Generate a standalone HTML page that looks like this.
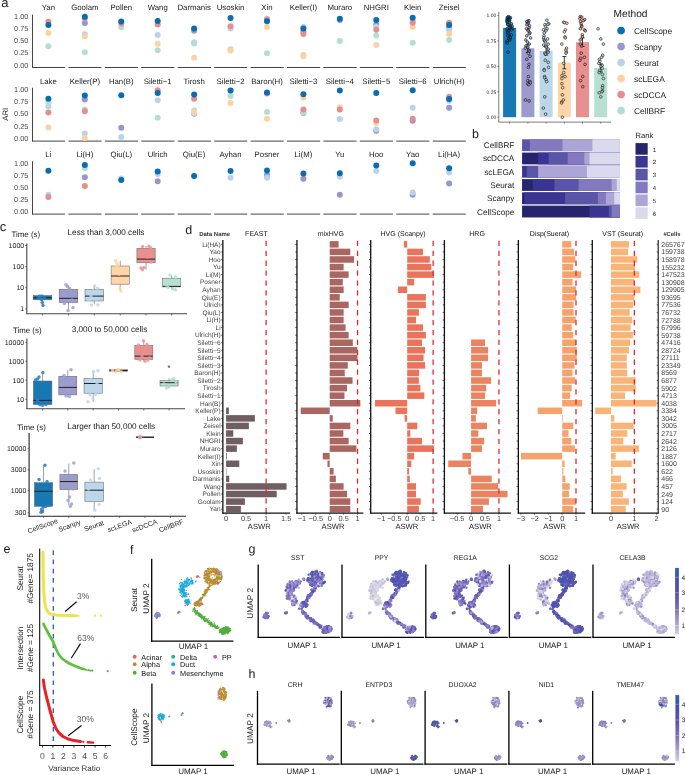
<!DOCTYPE html>
<html><head><meta charset="utf-8"><title>figure</title>
<style>html,body{margin:0;padding:0;background:#fff}svg{display:block;will-change:transform}text{font-family:"Liberation Sans",sans-serif;text-rendering:geometricPrecision}</style>
</head><body>
<svg width="685" height="775" viewBox="0 0 685 775" font-family="Liberation Sans, sans-serif">
<rect width="685" height="775" fill="#fff"/>
<defs><linearGradient id="cb" x1="0" y1="1" x2="0" y2="0"><stop offset="0" stop-color="#d2d1dc"/><stop offset="0.14" stop-color="#b3aad0"/><stop offset="0.37" stop-color="#8070ba"/><stop offset="0.63" stop-color="#5951a8"/><stop offset="0.86" stop-color="#4353ab"/><stop offset="1" stop-color="#2a65b9"/></linearGradient></defs>
<text x="1.20" y="7.00" font-size="13" text-anchor="start" fill="#1a1a1a">a</text>
<text x="8.00" y="114.30" font-size="7.8" text-anchor="middle" fill="#1a1a1a" transform="rotate(-90 8.00 114.30)">ARI</text>
<line x1="32.50" y1="14.60" x2="32.50" y2="67.90" stroke="#444" stroke-width="1.0"/>
<text x="28.30" y="67.60" font-size="7.3" text-anchor="end" fill="#4d4d4d">0.00</text>
<text x="28.30" y="55.45" font-size="7.3" text-anchor="end" fill="#4d4d4d">0.25</text>
<text x="28.30" y="43.30" font-size="7.3" text-anchor="end" fill="#4d4d4d">0.50</text>
<text x="28.30" y="31.15" font-size="7.3" text-anchor="end" fill="#4d4d4d">0.75</text>
<text x="28.30" y="19.00" font-size="7.3" text-anchor="end" fill="#4d4d4d">1.00</text>
<line x1="32.00" y1="67.50" x2="65.10" y2="67.50" stroke="#444" stroke-width="1.0"/>
<text x="48.40" y="9.90" font-size="7.8" text-anchor="middle" fill="#1a1a1a">Yan</text>
<circle cx="48.40" cy="46.30" r="3.0" fill="#b3dfd0"/>
<circle cx="48.40" cy="33.00" r="3.0" fill="#fdd2a2"/>
<circle cx="48.40" cy="21.70" r="3.0" fill="#e78d8c"/>
<circle cx="48.40" cy="24.90" r="3.0" fill="#0a6cb2"/>
<line x1="68.43" y1="67.50" x2="101.53" y2="67.50" stroke="#444" stroke-width="1.0"/>
<text x="84.83" y="9.90" font-size="7.8" text-anchor="middle" fill="#1a1a1a">Goolam</text>
<circle cx="84.83" cy="22.90" r="3.0" fill="#9897cb"/>
<circle cx="84.83" cy="34.30" r="3.0" fill="#b9d4ea"/>
<circle cx="84.83" cy="52.30" r="3.0" fill="#b3dfd0"/>
<circle cx="84.83" cy="36.20" r="3.0" fill="#fdd2a2"/>
<circle cx="84.83" cy="18.60" r="3.0" fill="#e78d8c"/>
<circle cx="84.83" cy="16.80" r="3.0" fill="#0a6cb2"/>
<line x1="104.86" y1="67.50" x2="137.96" y2="67.50" stroke="#444" stroke-width="1.0"/>
<text x="121.26" y="9.90" font-size="7.8" text-anchor="middle" fill="#1a1a1a">Pollen</text>
<circle cx="121.26" cy="27.30" r="3.0" fill="#b3dfd0"/>
<circle cx="121.26" cy="23.40" r="3.0" fill="#e78d8c"/>
<circle cx="121.26" cy="21.50" r="3.0" fill="#0a6cb2"/>
<line x1="141.29" y1="67.50" x2="174.39" y2="67.50" stroke="#444" stroke-width="1.0"/>
<text x="157.69" y="9.90" font-size="7.8" text-anchor="middle" fill="#1a1a1a">Wang</text>
<circle cx="157.69" cy="35.00" r="3.0" fill="#b9d4ea"/>
<circle cx="157.69" cy="50.20" r="3.0" fill="#b3dfd0"/>
<circle cx="157.69" cy="43.70" r="3.0" fill="#fdd2a2"/>
<circle cx="157.69" cy="24.50" r="3.0" fill="#e78d8c"/>
<circle cx="157.69" cy="21.00" r="3.0" fill="#0a6cb2"/>
<line x1="177.72" y1="67.50" x2="210.82" y2="67.50" stroke="#444" stroke-width="1.0"/>
<text x="194.12" y="9.90" font-size="7.8" text-anchor="middle" fill="#1a1a1a">Darmanis</text>
<circle cx="194.12" cy="30.80" r="3.0" fill="#9897cb"/>
<circle cx="194.12" cy="42.20" r="3.0" fill="#b9d4ea"/>
<circle cx="194.12" cy="43.40" r="3.0" fill="#b3dfd0"/>
<circle cx="194.12" cy="57.70" r="3.0" fill="#fdd2a2"/>
<circle cx="194.12" cy="28.50" r="3.0" fill="#0a6cb2"/>
<line x1="214.15" y1="67.50" x2="247.25" y2="67.50" stroke="#444" stroke-width="1.0"/>
<text x="230.55" y="9.90" font-size="7.8" text-anchor="middle" fill="#1a1a1a">Usoskin</text>
<circle cx="230.55" cy="28.50" r="3.0" fill="#b9d4ea"/>
<circle cx="230.55" cy="49.30" r="3.0" fill="#b3dfd0"/>
<circle cx="230.55" cy="50.40" r="3.0" fill="#fdd2a2"/>
<circle cx="230.55" cy="26.20" r="3.0" fill="#e78d8c"/>
<circle cx="230.55" cy="18.00" r="3.0" fill="#0a6cb2"/>
<line x1="250.58" y1="67.50" x2="283.68" y2="67.50" stroke="#444" stroke-width="1.0"/>
<text x="266.98" y="9.90" font-size="7.8" text-anchor="middle" fill="#1a1a1a">Xin</text>
<circle cx="266.98" cy="18.70" r="3.0" fill="#b9d4ea"/>
<circle cx="266.98" cy="53.30" r="3.0" fill="#b3dfd0"/>
<circle cx="266.98" cy="26.90" r="3.0" fill="#fdd2a2"/>
<circle cx="266.98" cy="19.60" r="3.0" fill="#e78d8c"/>
<circle cx="266.98" cy="21.30" r="3.0" fill="#0a6cb2"/>
<line x1="287.01" y1="67.50" x2="320.11" y2="67.50" stroke="#444" stroke-width="1.0"/>
<text x="303.41" y="9.90" font-size="7.8" text-anchor="middle" fill="#1a1a1a">Keller(I)</text>
<circle cx="303.41" cy="31.50" r="3.0" fill="#9897cb"/>
<circle cx="303.41" cy="26.90" r="3.0" fill="#b9d4ea"/>
<circle cx="303.41" cy="55.00" r="3.0" fill="#b3dfd0"/>
<circle cx="303.41" cy="56.30" r="3.0" fill="#fdd2a2"/>
<circle cx="303.41" cy="34.10" r="3.0" fill="#e78d8c"/>
<circle cx="303.41" cy="28.50" r="3.0" fill="#0a6cb2"/>
<line x1="323.44" y1="67.50" x2="356.54" y2="67.50" stroke="#444" stroke-width="1.0"/>
<text x="339.84" y="9.90" font-size="7.8" text-anchor="middle" fill="#1a1a1a">Muraro</text>
<circle cx="339.84" cy="20.00" r="3.0" fill="#9897cb"/>
<circle cx="339.84" cy="41.10" r="3.0" fill="#b3dfd0"/>
<circle cx="339.84" cy="18.70" r="3.0" fill="#0a6cb2"/>
<line x1="359.87" y1="67.50" x2="392.97" y2="67.50" stroke="#444" stroke-width="1.0"/>
<text x="376.27" y="9.90" font-size="7.8" text-anchor="middle" fill="#1a1a1a">NHGRI</text>
<circle cx="376.27" cy="24.50" r="3.0" fill="#9897cb"/>
<circle cx="376.27" cy="26.90" r="3.0" fill="#b9d4ea"/>
<circle cx="376.27" cy="35.50" r="3.0" fill="#b3dfd0"/>
<circle cx="376.27" cy="45.10" r="3.0" fill="#fdd2a2"/>
<circle cx="376.27" cy="29.70" r="3.0" fill="#e78d8c"/>
<circle cx="376.27" cy="19.90" r="3.0" fill="#0a6cb2"/>
<line x1="396.30" y1="67.50" x2="429.40" y2="67.50" stroke="#444" stroke-width="1.0"/>
<text x="412.70" y="9.90" font-size="7.8" text-anchor="middle" fill="#1a1a1a">Klein</text>
<circle cx="412.70" cy="21.00" r="3.0" fill="#b9d4ea"/>
<circle cx="412.70" cy="42.80" r="3.0" fill="#b3dfd0"/>
<circle cx="412.70" cy="26.90" r="3.0" fill="#fdd2a2"/>
<circle cx="412.70" cy="22.70" r="3.0" fill="#e78d8c"/>
<circle cx="412.70" cy="17.80" r="3.0" fill="#0a6cb2"/>
<line x1="432.73" y1="67.50" x2="465.83" y2="67.50" stroke="#444" stroke-width="1.0"/>
<text x="449.13" y="9.90" font-size="7.8" text-anchor="middle" fill="#1a1a1a">Zeisel</text>
<circle cx="449.13" cy="28.00" r="3.0" fill="#9897cb"/>
<circle cx="449.13" cy="30.00" r="3.0" fill="#b9d4ea"/>
<circle cx="449.13" cy="40.00" r="3.0" fill="#b3dfd0"/>
<circle cx="449.13" cy="33.90" r="3.0" fill="#fdd2a2"/>
<circle cx="449.13" cy="22.70" r="3.0" fill="#e78d8c"/>
<circle cx="449.13" cy="25.00" r="3.0" fill="#0a6cb2"/>
<line x1="32.50" y1="87.70" x2="32.50" y2="141.50" stroke="#444" stroke-width="1.0"/>
<text x="28.30" y="140.70" font-size="7.3" text-anchor="end" fill="#4d4d4d">0.00</text>
<text x="28.30" y="128.55" font-size="7.3" text-anchor="end" fill="#4d4d4d">0.25</text>
<text x="28.30" y="116.40" font-size="7.3" text-anchor="end" fill="#4d4d4d">0.50</text>
<text x="28.30" y="104.25" font-size="7.3" text-anchor="end" fill="#4d4d4d">0.75</text>
<text x="28.30" y="92.10" font-size="7.3" text-anchor="end" fill="#4d4d4d">1.00</text>
<line x1="32.00" y1="141.10" x2="65.10" y2="141.10" stroke="#444" stroke-width="1.0"/>
<text x="48.40" y="84.20" font-size="7.8" text-anchor="middle" fill="#1a1a1a">Lake</text>
<circle cx="48.40" cy="106.50" r="3.0" fill="#b9d4ea"/>
<circle cx="48.40" cy="102.60" r="3.0" fill="#b3dfd0"/>
<circle cx="48.40" cy="127.60" r="3.0" fill="#fdd2a2"/>
<circle cx="48.40" cy="112.40" r="3.0" fill="#e78d8c"/>
<circle cx="48.40" cy="98.80" r="3.0" fill="#0a6cb2"/>
<line x1="68.43" y1="141.10" x2="101.53" y2="141.10" stroke="#444" stroke-width="1.0"/>
<text x="84.83" y="84.20" font-size="7.8" text-anchor="middle" fill="#1a1a1a">Keller(P)</text>
<circle cx="84.83" cy="99.50" r="3.0" fill="#9897cb"/>
<circle cx="84.83" cy="133.40" r="3.0" fill="#b9d4ea"/>
<circle cx="84.83" cy="109.60" r="3.0" fill="#b3dfd0"/>
<circle cx="84.83" cy="138.10" r="3.0" fill="#fdd2a2"/>
<circle cx="84.83" cy="111.20" r="3.0" fill="#e78d8c"/>
<circle cx="84.83" cy="95.60" r="3.0" fill="#0a6cb2"/>
<line x1="104.86" y1="141.10" x2="137.96" y2="141.10" stroke="#444" stroke-width="1.0"/>
<text x="121.26" y="84.20" font-size="7.8" text-anchor="middle" fill="#1a1a1a">Han(B)</text>
<circle cx="121.26" cy="127.80" r="3.0" fill="#9897cb"/>
<circle cx="121.26" cy="137.10" r="3.0" fill="#b9d4ea"/>
<circle cx="121.26" cy="95.30" r="3.0" fill="#0a6cb2"/>
<line x1="141.29" y1="141.10" x2="174.39" y2="141.10" stroke="#444" stroke-width="1.0"/>
<text x="157.69" y="84.20" font-size="7.8" text-anchor="middle" fill="#1a1a1a">Siletti−1</text>
<circle cx="157.69" cy="100.20" r="3.0" fill="#b9d4ea"/>
<circle cx="157.69" cy="117.80" r="3.0" fill="#b3dfd0"/>
<circle cx="157.69" cy="90.20" r="3.0" fill="#e78d8c"/>
<circle cx="157.69" cy="93.00" r="3.0" fill="#0a6cb2"/>
<line x1="177.72" y1="141.10" x2="210.82" y2="141.10" stroke="#444" stroke-width="1.0"/>
<text x="194.12" y="84.20" font-size="7.8" text-anchor="middle" fill="#1a1a1a">Tirosh</text>
<circle cx="194.12" cy="113.80" r="3.0" fill="#9897cb"/>
<circle cx="194.12" cy="113.20" r="3.0" fill="#b9d4ea"/>
<circle cx="194.12" cy="110.50" r="3.0" fill="#b3dfd0"/>
<circle cx="194.12" cy="111.90" r="3.0" fill="#fdd2a2"/>
<circle cx="194.12" cy="98.80" r="3.0" fill="#e78d8c"/>
<circle cx="194.12" cy="94.40" r="3.0" fill="#0a6cb2"/>
<line x1="214.15" y1="141.10" x2="247.25" y2="141.10" stroke="#444" stroke-width="1.0"/>
<text x="230.55" y="84.20" font-size="7.8" text-anchor="middle" fill="#1a1a1a">Siletti−2</text>
<circle cx="230.55" cy="96.00" r="3.0" fill="#b3dfd0"/>
<circle cx="230.55" cy="103.00" r="3.0" fill="#fdd2a2"/>
<circle cx="230.55" cy="90.40" r="3.0" fill="#0a6cb2"/>
<line x1="250.58" y1="141.10" x2="283.68" y2="141.10" stroke="#444" stroke-width="1.0"/>
<text x="266.98" y="84.20" font-size="7.8" text-anchor="middle" fill="#1a1a1a">Baron(H)</text>
<circle cx="266.98" cy="111.90" r="3.0" fill="#b3dfd0"/>
<circle cx="266.98" cy="118.70" r="3.0" fill="#fdd2a2"/>
<circle cx="266.98" cy="93.50" r="3.0" fill="#e78d8c"/>
<circle cx="266.98" cy="92.50" r="3.0" fill="#0a6cb2"/>
<line x1="287.01" y1="141.10" x2="320.11" y2="141.10" stroke="#444" stroke-width="1.0"/>
<text x="303.41" y="84.20" font-size="7.8" text-anchor="middle" fill="#1a1a1a">Siletti−3</text>
<circle cx="303.41" cy="113.10" r="3.0" fill="#9897cb"/>
<circle cx="303.41" cy="112.50" r="3.0" fill="#b9d4ea"/>
<circle cx="303.41" cy="111.70" r="3.0" fill="#b3dfd0"/>
<circle cx="303.41" cy="97.70" r="3.0" fill="#fdd2a2"/>
<circle cx="303.41" cy="109.60" r="3.0" fill="#e78d8c"/>
<circle cx="303.41" cy="94.20" r="3.0" fill="#0a6cb2"/>
<line x1="323.44" y1="141.10" x2="356.54" y2="141.10" stroke="#444" stroke-width="1.0"/>
<text x="339.84" y="84.20" font-size="7.8" text-anchor="middle" fill="#1a1a1a">Siletti−4</text>
<circle cx="339.84" cy="118.90" r="3.0" fill="#b9d4ea"/>
<circle cx="339.84" cy="107.20" r="3.0" fill="#fdd2a2"/>
<circle cx="339.84" cy="109.60" r="3.0" fill="#e78d8c"/>
<circle cx="339.84" cy="90.40" r="3.0" fill="#0a6cb2"/>
<line x1="359.87" y1="141.10" x2="392.97" y2="141.10" stroke="#444" stroke-width="1.0"/>
<text x="376.27" y="84.20" font-size="7.8" text-anchor="middle" fill="#1a1a1a">Siletti−5</text>
<circle cx="376.27" cy="130.80" r="3.0" fill="#9897cb"/>
<circle cx="376.27" cy="129.20" r="3.0" fill="#b9d4ea"/>
<circle cx="376.27" cy="122.90" r="3.0" fill="#fdd2a2"/>
<circle cx="376.27" cy="120.60" r="3.0" fill="#e78d8c"/>
<circle cx="376.27" cy="93.00" r="3.0" fill="#0a6cb2"/>
<line x1="396.30" y1="141.10" x2="429.40" y2="141.10" stroke="#444" stroke-width="1.0"/>
<text x="412.70" y="84.20" font-size="7.8" text-anchor="middle" fill="#1a1a1a">Siletti−6</text>
<circle cx="412.70" cy="120.80" r="3.0" fill="#9897cb"/>
<circle cx="412.70" cy="107.70" r="3.0" fill="#b9d4ea"/>
<circle cx="412.70" cy="118.70" r="3.0" fill="#e78d8c"/>
<circle cx="412.70" cy="90.20" r="3.0" fill="#0a6cb2"/>
<line x1="432.73" y1="141.10" x2="465.83" y2="141.10" stroke="#444" stroke-width="1.0"/>
<text x="449.13" y="84.20" font-size="7.8" text-anchor="middle" fill="#1a1a1a">Ulrich(H)</text>
<circle cx="449.13" cy="107.70" r="3.0" fill="#9897cb"/>
<circle cx="449.13" cy="100.70" r="3.0" fill="#b9d4ea"/>
<circle cx="449.13" cy="96.70" r="3.0" fill="#e78d8c"/>
<circle cx="449.13" cy="99.10" r="3.0" fill="#0a6cb2"/>
<line x1="32.50" y1="161.20" x2="32.50" y2="214.50" stroke="#444" stroke-width="1.0"/>
<text x="28.30" y="214.20" font-size="7.3" text-anchor="end" fill="#4d4d4d">0.00</text>
<text x="28.30" y="202.05" font-size="7.3" text-anchor="end" fill="#4d4d4d">0.25</text>
<text x="28.30" y="189.90" font-size="7.3" text-anchor="end" fill="#4d4d4d">0.50</text>
<text x="28.30" y="177.75" font-size="7.3" text-anchor="end" fill="#4d4d4d">0.75</text>
<text x="28.30" y="165.60" font-size="7.3" text-anchor="end" fill="#4d4d4d">1.00</text>
<line x1="32.00" y1="214.10" x2="65.10" y2="214.10" stroke="#444" stroke-width="1.0"/>
<text x="48.40" y="157.20" font-size="7.8" text-anchor="middle" fill="#1a1a1a">Li</text>
<circle cx="48.40" cy="194.70" r="3.0" fill="#b9d4ea"/>
<circle cx="48.40" cy="197.10" r="3.0" fill="#e78d8c"/>
<circle cx="48.40" cy="170.70" r="3.0" fill="#0a6cb2"/>
<line x1="68.43" y1="214.10" x2="101.53" y2="214.10" stroke="#444" stroke-width="1.0"/>
<text x="84.83" y="157.20" font-size="7.8" text-anchor="middle" fill="#1a1a1a">Li(H)</text>
<circle cx="84.83" cy="177.20" r="3.0" fill="#9897cb"/>
<circle cx="84.83" cy="167.90" r="3.0" fill="#b9d4ea"/>
<circle cx="84.83" cy="186.10" r="3.0" fill="#e78d8c"/>
<circle cx="84.83" cy="165.00" r="3.0" fill="#0a6cb2"/>
<line x1="104.86" y1="214.10" x2="137.96" y2="214.10" stroke="#444" stroke-width="1.0"/>
<text x="121.26" y="157.20" font-size="7.8" text-anchor="middle" fill="#1a1a1a">Qiu(L)</text>
<circle cx="121.26" cy="178.40" r="3.0" fill="#b9d4ea"/>
<circle cx="121.26" cy="180.00" r="3.0" fill="#0a6cb2"/>
<line x1="141.29" y1="214.10" x2="174.39" y2="214.10" stroke="#444" stroke-width="1.0"/>
<text x="157.69" y="157.20" font-size="7.8" text-anchor="middle" fill="#1a1a1a">Ulrich</text>
<circle cx="157.69" cy="181.20" r="3.0" fill="#9897cb"/>
<circle cx="157.69" cy="174.20" r="3.0" fill="#b9d4ea"/>
<circle cx="157.69" cy="171.40" r="3.0" fill="#0a6cb2"/>
<line x1="177.72" y1="214.10" x2="210.82" y2="214.10" stroke="#444" stroke-width="1.0"/>
<text x="194.12" y="157.20" font-size="7.8" text-anchor="middle" fill="#1a1a1a">Qiu(E)</text>
<circle cx="194.12" cy="176.00" r="3.0" fill="#0a6cb2"/>
<line x1="214.15" y1="214.10" x2="247.25" y2="214.10" stroke="#444" stroke-width="1.0"/>
<text x="230.55" y="157.20" font-size="7.8" text-anchor="middle" fill="#1a1a1a">Ayhan</text>
<circle cx="230.55" cy="177.70" r="3.0" fill="#b9d4ea"/>
<circle cx="230.55" cy="170.90" r="3.0" fill="#0a6cb2"/>
<line x1="250.58" y1="214.10" x2="283.68" y2="214.10" stroke="#444" stroke-width="1.0"/>
<text x="266.98" y="157.20" font-size="7.8" text-anchor="middle" fill="#1a1a1a">Posner</text>
<circle cx="266.98" cy="174.90" r="3.0" fill="#9897cb"/>
<circle cx="266.98" cy="177.70" r="3.0" fill="#b9d4ea"/>
<circle cx="266.98" cy="170.40" r="3.0" fill="#0a6cb2"/>
<line x1="287.01" y1="214.10" x2="320.11" y2="214.10" stroke="#444" stroke-width="1.0"/>
<text x="303.41" y="157.20" font-size="7.8" text-anchor="middle" fill="#1a1a1a">Li(M)</text>
<circle cx="303.41" cy="178.80" r="3.0" fill="#9897cb"/>
<circle cx="303.41" cy="173.50" r="3.0" fill="#0a6cb2"/>
<line x1="323.44" y1="214.10" x2="356.54" y2="214.10" stroke="#444" stroke-width="1.0"/>
<text x="339.84" y="157.20" font-size="7.8" text-anchor="middle" fill="#1a1a1a">Yu</text>
<circle cx="339.84" cy="194.70" r="3.0" fill="#9897cb"/>
<circle cx="339.84" cy="176.70" r="3.0" fill="#b9d4ea"/>
<circle cx="339.84" cy="173.20" r="3.0" fill="#0a6cb2"/>
<line x1="359.87" y1="214.10" x2="392.97" y2="214.10" stroke="#444" stroke-width="1.0"/>
<text x="376.27" y="157.20" font-size="7.8" text-anchor="middle" fill="#1a1a1a">Hoo</text>
<circle cx="376.27" cy="171.10" r="3.0" fill="#b9d4ea"/>
<circle cx="376.27" cy="165.50" r="3.0" fill="#0a6cb2"/>
<line x1="396.30" y1="214.10" x2="429.40" y2="214.10" stroke="#444" stroke-width="1.0"/>
<text x="412.70" y="157.20" font-size="7.8" text-anchor="middle" fill="#1a1a1a">Yao</text>
<circle cx="412.70" cy="194.70" r="3.0" fill="#9897cb"/>
<circle cx="412.70" cy="192.40" r="3.0" fill="#b9d4ea"/>
<circle cx="412.70" cy="163.20" r="3.0" fill="#0a6cb2"/>
<line x1="432.73" y1="214.10" x2="465.83" y2="214.10" stroke="#444" stroke-width="1.0"/>
<text x="449.13" y="157.20" font-size="7.8" text-anchor="middle" fill="#1a1a1a">Li(HA)</text>
<circle cx="449.13" cy="183.50" r="3.0" fill="#9897cb"/>
<circle cx="449.13" cy="172.50" r="3.0" fill="#b9d4ea"/>
<circle cx="449.13" cy="168.30" r="3.0" fill="#0a6cb2"/>
<rect x="503.10" y="27.89" width="13.00" height="89.31" fill="#1878b4"/>
<rect x="521.40" y="48.32" width="13.00" height="68.88" fill="#9b9bcc"/>
<rect x="539.60" y="50.96" width="13.00" height="66.24" fill="#bcd6ea"/>
<rect x="557.80" y="62.64" width="13.00" height="54.56" fill="#fdd5a8"/>
<rect x="576.00" y="42.22" width="13.00" height="74.98" fill="#e88f8f"/>
<rect x="594.20" y="67.92" width="13.00" height="49.28" fill="#b7e0d3"/>
<line x1="509.60" y1="29.21" x2="509.60" y2="26.57" stroke="#000" stroke-width="0.75"/>
<line x1="507.60" y1="29.21" x2="511.60" y2="29.21" stroke="#000" stroke-width="0.75"/>
<line x1="507.60" y1="26.57" x2="511.60" y2="26.57" stroke="#000" stroke-width="0.75"/>
<circle cx="508.61" cy="16.62" r="1.35" fill="#1878b4" stroke="#000" stroke-width="0.55" fill-opacity="0.7"/>
<circle cx="507.64" cy="17.12" r="1.35" fill="#1878b4" stroke="#000" stroke-width="0.55" fill-opacity="0.7"/>
<circle cx="510.45" cy="17.63" r="1.35" fill="#1878b4" stroke="#000" stroke-width="0.55" fill-opacity="0.7"/>
<circle cx="507.21" cy="18.14" r="1.35" fill="#1878b4" stroke="#000" stroke-width="0.55" fill-opacity="0.7"/>
<circle cx="509.80" cy="18.65" r="1.35" fill="#1878b4" stroke="#000" stroke-width="0.55" fill-opacity="0.7"/>
<circle cx="508.85" cy="19.16" r="1.35" fill="#1878b4" stroke="#000" stroke-width="0.55" fill-opacity="0.7"/>
<circle cx="507.12" cy="19.66" r="1.35" fill="#1878b4" stroke="#000" stroke-width="0.55" fill-opacity="0.7"/>
<circle cx="509.64" cy="20.17" r="1.35" fill="#1878b4" stroke="#000" stroke-width="0.55" fill-opacity="0.7"/>
<circle cx="507.01" cy="20.68" r="1.35" fill="#1878b4" stroke="#000" stroke-width="0.55" fill-opacity="0.7"/>
<circle cx="509.23" cy="21.19" r="1.35" fill="#1878b4" stroke="#000" stroke-width="0.55" fill-opacity="0.7"/>
<circle cx="507.19" cy="21.70" r="1.35" fill="#1878b4" stroke="#000" stroke-width="0.55" fill-opacity="0.7"/>
<circle cx="507.31" cy="22.20" r="1.35" fill="#1878b4" stroke="#000" stroke-width="0.55" fill-opacity="0.7"/>
<circle cx="509.18" cy="22.71" r="1.35" fill="#1878b4" stroke="#000" stroke-width="0.55" fill-opacity="0.7"/>
<circle cx="511.43" cy="23.73" r="1.35" fill="#1878b4" stroke="#000" stroke-width="0.55" fill-opacity="0.7"/>
<circle cx="507.49" cy="24.24" r="1.35" fill="#1878b4" stroke="#000" stroke-width="0.55" fill-opacity="0.7"/>
<circle cx="508.05" cy="24.74" r="1.35" fill="#1878b4" stroke="#000" stroke-width="0.55" fill-opacity="0.7"/>
<circle cx="510.31" cy="25.76" r="1.35" fill="#1878b4" stroke="#000" stroke-width="0.55" fill-opacity="0.7"/>
<circle cx="512.11" cy="26.27" r="1.35" fill="#1878b4" stroke="#000" stroke-width="0.55" fill-opacity="0.7"/>
<circle cx="510.03" cy="26.78" r="1.35" fill="#1878b4" stroke="#000" stroke-width="0.55" fill-opacity="0.7"/>
<circle cx="509.02" cy="27.79" r="1.35" fill="#1878b4" stroke="#000" stroke-width="0.55" fill-opacity="0.7"/>
<circle cx="512.27" cy="28.30" r="1.35" fill="#1878b4" stroke="#000" stroke-width="0.55" fill-opacity="0.7"/>
<circle cx="507.06" cy="28.81" r="1.35" fill="#1878b4" stroke="#000" stroke-width="0.55" fill-opacity="0.7"/>
<circle cx="511.61" cy="29.82" r="1.35" fill="#1878b4" stroke="#000" stroke-width="0.55" fill-opacity="0.7"/>
<circle cx="508.42" cy="30.84" r="1.35" fill="#1878b4" stroke="#000" stroke-width="0.55" fill-opacity="0.7"/>
<circle cx="507.61" cy="31.86" r="1.35" fill="#1878b4" stroke="#000" stroke-width="0.55" fill-opacity="0.7"/>
<circle cx="507.46" cy="32.87" r="1.35" fill="#1878b4" stroke="#000" stroke-width="0.55" fill-opacity="0.7"/>
<circle cx="508.53" cy="33.89" r="1.35" fill="#1878b4" stroke="#000" stroke-width="0.55" fill-opacity="0.7"/>
<circle cx="511.37" cy="34.90" r="1.35" fill="#1878b4" stroke="#000" stroke-width="0.55" fill-opacity="0.7"/>
<circle cx="507.81" cy="35.92" r="1.35" fill="#1878b4" stroke="#000" stroke-width="0.55" fill-opacity="0.7"/>
<circle cx="510.06" cy="36.94" r="1.35" fill="#1878b4" stroke="#000" stroke-width="0.55" fill-opacity="0.7"/>
<circle cx="510.38" cy="37.95" r="1.35" fill="#1878b4" stroke="#000" stroke-width="0.55" fill-opacity="0.7"/>
<circle cx="508.89" cy="38.97" r="1.35" fill="#1878b4" stroke="#000" stroke-width="0.55" fill-opacity="0.7"/>
<circle cx="509.87" cy="39.98" r="1.35" fill="#1878b4" stroke="#000" stroke-width="0.55" fill-opacity="0.7"/>
<circle cx="507.15" cy="41.00" r="1.35" fill="#1878b4" stroke="#000" stroke-width="0.55" fill-opacity="0.7"/>
<circle cx="507.13" cy="43.03" r="1.35" fill="#1878b4" stroke="#000" stroke-width="0.55" fill-opacity="0.7"/>
<circle cx="507.95" cy="52.18" r="1.35" fill="#1878b4" stroke="#000" stroke-width="0.55" fill-opacity="0.7"/>
<line x1="527.90" y1="52.38" x2="527.90" y2="44.25" stroke="#000" stroke-width="0.75"/>
<line x1="525.90" y1="52.38" x2="529.90" y2="52.38" stroke="#000" stroke-width="0.75"/>
<line x1="525.90" y1="44.25" x2="529.90" y2="44.25" stroke="#000" stroke-width="0.75"/>
<circle cx="528.91" cy="20.68" r="1.35" fill="#9b9bcc" stroke="#000" stroke-width="0.55" fill-opacity="0.7"/>
<circle cx="527.49" cy="21.19" r="1.35" fill="#9b9bcc" stroke="#000" stroke-width="0.55" fill-opacity="0.7"/>
<circle cx="526.86" cy="21.70" r="1.35" fill="#9b9bcc" stroke="#000" stroke-width="0.55" fill-opacity="0.7"/>
<circle cx="528.38" cy="22.71" r="1.35" fill="#9b9bcc" stroke="#000" stroke-width="0.55" fill-opacity="0.7"/>
<circle cx="527.64" cy="23.73" r="1.35" fill="#9b9bcc" stroke="#000" stroke-width="0.55" fill-opacity="0.7"/>
<circle cx="526.78" cy="24.74" r="1.35" fill="#9b9bcc" stroke="#000" stroke-width="0.55" fill-opacity="0.7"/>
<circle cx="529.55" cy="25.76" r="1.35" fill="#9b9bcc" stroke="#000" stroke-width="0.55" fill-opacity="0.7"/>
<circle cx="529.01" cy="27.79" r="1.35" fill="#9b9bcc" stroke="#000" stroke-width="0.55" fill-opacity="0.7"/>
<circle cx="526.47" cy="28.81" r="1.35" fill="#9b9bcc" stroke="#000" stroke-width="0.55" fill-opacity="0.7"/>
<circle cx="528.32" cy="29.82" r="1.35" fill="#9b9bcc" stroke="#000" stroke-width="0.55" fill-opacity="0.7"/>
<circle cx="528.04" cy="30.84" r="1.35" fill="#9b9bcc" stroke="#000" stroke-width="0.55" fill-opacity="0.7"/>
<circle cx="530.00" cy="32.87" r="1.35" fill="#9b9bcc" stroke="#000" stroke-width="0.55" fill-opacity="0.7"/>
<circle cx="529.18" cy="33.89" r="1.35" fill="#9b9bcc" stroke="#000" stroke-width="0.55" fill-opacity="0.7"/>
<circle cx="526.71" cy="35.92" r="1.35" fill="#9b9bcc" stroke="#000" stroke-width="0.55" fill-opacity="0.7"/>
<circle cx="530.59" cy="37.95" r="1.35" fill="#9b9bcc" stroke="#000" stroke-width="0.55" fill-opacity="0.7"/>
<circle cx="525.76" cy="39.98" r="1.35" fill="#9b9bcc" stroke="#000" stroke-width="0.55" fill-opacity="0.7"/>
<circle cx="527.44" cy="42.02" r="1.35" fill="#9b9bcc" stroke="#000" stroke-width="0.55" fill-opacity="0.7"/>
<circle cx="529.34" cy="44.05" r="1.35" fill="#9b9bcc" stroke="#000" stroke-width="0.55" fill-opacity="0.7"/>
<circle cx="525.95" cy="46.08" r="1.35" fill="#9b9bcc" stroke="#000" stroke-width="0.55" fill-opacity="0.7"/>
<circle cx="527.84" cy="47.10" r="1.35" fill="#9b9bcc" stroke="#000" stroke-width="0.55" fill-opacity="0.7"/>
<circle cx="525.32" cy="48.11" r="1.35" fill="#9b9bcc" stroke="#000" stroke-width="0.55" fill-opacity="0.7"/>
<circle cx="528.84" cy="50.14" r="1.35" fill="#9b9bcc" stroke="#000" stroke-width="0.55" fill-opacity="0.7"/>
<circle cx="529.38" cy="51.16" r="1.35" fill="#9b9bcc" stroke="#000" stroke-width="0.55" fill-opacity="0.7"/>
<circle cx="528.31" cy="53.19" r="1.35" fill="#9b9bcc" stroke="#000" stroke-width="0.55" fill-opacity="0.7"/>
<circle cx="530.00" cy="56.24" r="1.35" fill="#9b9bcc" stroke="#000" stroke-width="0.55" fill-opacity="0.7"/>
<circle cx="526.86" cy="59.29" r="1.35" fill="#9b9bcc" stroke="#000" stroke-width="0.55" fill-opacity="0.7"/>
<circle cx="528.99" cy="64.37" r="1.35" fill="#9b9bcc" stroke="#000" stroke-width="0.55" fill-opacity="0.7"/>
<circle cx="528.43" cy="67.42" r="1.35" fill="#9b9bcc" stroke="#000" stroke-width="0.55" fill-opacity="0.7"/>
<circle cx="528.35" cy="76.56" r="1.35" fill="#9b9bcc" stroke="#000" stroke-width="0.55" fill-opacity="0.7"/>
<circle cx="527.65" cy="80.62" r="1.35" fill="#9b9bcc" stroke="#000" stroke-width="0.55" fill-opacity="0.7"/>
<circle cx="529.80" cy="81.64" r="1.35" fill="#9b9bcc" stroke="#000" stroke-width="0.55" fill-opacity="0.7"/>
<circle cx="530.39" cy="82.66" r="1.35" fill="#9b9bcc" stroke="#000" stroke-width="0.55" fill-opacity="0.7"/>
<circle cx="527.75" cy="83.67" r="1.35" fill="#9b9bcc" stroke="#000" stroke-width="0.55" fill-opacity="0.7"/>
<circle cx="528.82" cy="84.69" r="1.35" fill="#9b9bcc" stroke="#000" stroke-width="0.55" fill-opacity="0.7"/>
<circle cx="525.44" cy="99.93" r="1.35" fill="#9b9bcc" stroke="#000" stroke-width="0.55" fill-opacity="0.7"/>
<circle cx="529.03" cy="100.94" r="1.35" fill="#9b9bcc" stroke="#000" stroke-width="0.55" fill-opacity="0.7"/>
<line x1="546.10" y1="55.02" x2="546.10" y2="46.89" stroke="#000" stroke-width="0.75"/>
<line x1="544.10" y1="55.02" x2="548.10" y2="55.02" stroke="#000" stroke-width="0.75"/>
<line x1="544.10" y1="46.89" x2="548.10" y2="46.89" stroke="#000" stroke-width="0.75"/>
<circle cx="546.92" cy="20.17" r="1.35" fill="#bcd6ea" stroke="#000" stroke-width="0.55" fill-opacity="0.7"/>
<circle cx="548.86" cy="23.73" r="1.35" fill="#bcd6ea" stroke="#000" stroke-width="0.55" fill-opacity="0.7"/>
<circle cx="547.90" cy="24.24" r="1.35" fill="#bcd6ea" stroke="#000" stroke-width="0.55" fill-opacity="0.7"/>
<circle cx="544.89" cy="24.74" r="1.35" fill="#bcd6ea" stroke="#000" stroke-width="0.55" fill-opacity="0.7"/>
<circle cx="545.46" cy="26.78" r="1.35" fill="#bcd6ea" stroke="#000" stroke-width="0.55" fill-opacity="0.7"/>
<circle cx="547.04" cy="28.81" r="1.35" fill="#bcd6ea" stroke="#000" stroke-width="0.55" fill-opacity="0.7"/>
<circle cx="543.43" cy="29.82" r="1.35" fill="#bcd6ea" stroke="#000" stroke-width="0.55" fill-opacity="0.7"/>
<circle cx="545.89" cy="30.84" r="1.35" fill="#bcd6ea" stroke="#000" stroke-width="0.55" fill-opacity="0.7"/>
<circle cx="544.24" cy="32.87" r="1.35" fill="#bcd6ea" stroke="#000" stroke-width="0.55" fill-opacity="0.7"/>
<circle cx="543.96" cy="35.92" r="1.35" fill="#bcd6ea" stroke="#000" stroke-width="0.55" fill-opacity="0.7"/>
<circle cx="543.63" cy="37.95" r="1.35" fill="#bcd6ea" stroke="#000" stroke-width="0.55" fill-opacity="0.7"/>
<circle cx="547.60" cy="38.97" r="1.35" fill="#bcd6ea" stroke="#000" stroke-width="0.55" fill-opacity="0.7"/>
<circle cx="544.02" cy="39.98" r="1.35" fill="#bcd6ea" stroke="#000" stroke-width="0.55" fill-opacity="0.7"/>
<circle cx="544.69" cy="41.00" r="1.35" fill="#bcd6ea" stroke="#000" stroke-width="0.55" fill-opacity="0.7"/>
<circle cx="545.49" cy="42.02" r="1.35" fill="#bcd6ea" stroke="#000" stroke-width="0.55" fill-opacity="0.7"/>
<circle cx="548.18" cy="44.05" r="1.35" fill="#bcd6ea" stroke="#000" stroke-width="0.55" fill-opacity="0.7"/>
<circle cx="543.75" cy="45.06" r="1.35" fill="#bcd6ea" stroke="#000" stroke-width="0.55" fill-opacity="0.7"/>
<circle cx="545.82" cy="46.08" r="1.35" fill="#bcd6ea" stroke="#000" stroke-width="0.55" fill-opacity="0.7"/>
<circle cx="546.38" cy="47.10" r="1.35" fill="#bcd6ea" stroke="#000" stroke-width="0.55" fill-opacity="0.7"/>
<circle cx="548.25" cy="49.13" r="1.35" fill="#bcd6ea" stroke="#000" stroke-width="0.55" fill-opacity="0.7"/>
<circle cx="547.89" cy="51.16" r="1.35" fill="#bcd6ea" stroke="#000" stroke-width="0.55" fill-opacity="0.7"/>
<circle cx="548.14" cy="52.18" r="1.35" fill="#bcd6ea" stroke="#000" stroke-width="0.55" fill-opacity="0.7"/>
<circle cx="544.86" cy="53.19" r="1.35" fill="#bcd6ea" stroke="#000" stroke-width="0.55" fill-opacity="0.7"/>
<circle cx="545.63" cy="54.21" r="1.35" fill="#bcd6ea" stroke="#000" stroke-width="0.55" fill-opacity="0.7"/>
<circle cx="545.31" cy="60.30" r="1.35" fill="#bcd6ea" stroke="#000" stroke-width="0.55" fill-opacity="0.7"/>
<circle cx="548.25" cy="62.34" r="1.35" fill="#bcd6ea" stroke="#000" stroke-width="0.55" fill-opacity="0.7"/>
<circle cx="548.66" cy="67.42" r="1.35" fill="#bcd6ea" stroke="#000" stroke-width="0.55" fill-opacity="0.7"/>
<circle cx="544.15" cy="69.45" r="1.35" fill="#bcd6ea" stroke="#000" stroke-width="0.55" fill-opacity="0.7"/>
<circle cx="544.29" cy="70.46" r="1.35" fill="#bcd6ea" stroke="#000" stroke-width="0.55" fill-opacity="0.7"/>
<circle cx="544.60" cy="76.56" r="1.35" fill="#bcd6ea" stroke="#000" stroke-width="0.55" fill-opacity="0.7"/>
<circle cx="544.61" cy="77.58" r="1.35" fill="#bcd6ea" stroke="#000" stroke-width="0.55" fill-opacity="0.7"/>
<circle cx="546.02" cy="79.61" r="1.35" fill="#bcd6ea" stroke="#000" stroke-width="0.55" fill-opacity="0.7"/>
<circle cx="546.60" cy="81.64" r="1.35" fill="#bcd6ea" stroke="#000" stroke-width="0.55" fill-opacity="0.7"/>
<circle cx="544.77" cy="96.88" r="1.35" fill="#bcd6ea" stroke="#000" stroke-width="0.55" fill-opacity="0.7"/>
<circle cx="543.32" cy="108.06" r="1.35" fill="#bcd6ea" stroke="#000" stroke-width="0.55" fill-opacity="0.7"/>
<circle cx="545.65" cy="114.15" r="1.35" fill="#bcd6ea" stroke="#000" stroke-width="0.55" fill-opacity="0.7"/>
<line x1="564.30" y1="68.74" x2="564.30" y2="56.54" stroke="#000" stroke-width="0.75"/>
<line x1="562.30" y1="68.74" x2="566.30" y2="68.74" stroke="#000" stroke-width="0.75"/>
<line x1="562.30" y1="56.54" x2="566.30" y2="56.54" stroke="#000" stroke-width="0.75"/>
<circle cx="563.57" cy="22.20" r="1.35" fill="#fdd5a8" stroke="#000" stroke-width="0.55" fill-opacity="0.7"/>
<circle cx="564.67" cy="22.71" r="1.35" fill="#fdd5a8" stroke="#000" stroke-width="0.55" fill-opacity="0.7"/>
<circle cx="566.84" cy="23.22" r="1.35" fill="#fdd5a8" stroke="#000" stroke-width="0.55" fill-opacity="0.7"/>
<circle cx="565.37" cy="29.82" r="1.35" fill="#fdd5a8" stroke="#000" stroke-width="0.55" fill-opacity="0.7"/>
<circle cx="564.39" cy="31.86" r="1.35" fill="#fdd5a8" stroke="#000" stroke-width="0.55" fill-opacity="0.7"/>
<circle cx="564.96" cy="36.94" r="1.35" fill="#fdd5a8" stroke="#000" stroke-width="0.55" fill-opacity="0.7"/>
<circle cx="565.29" cy="37.95" r="1.35" fill="#fdd5a8" stroke="#000" stroke-width="0.55" fill-opacity="0.7"/>
<circle cx="561.80" cy="44.05" r="1.35" fill="#fdd5a8" stroke="#000" stroke-width="0.55" fill-opacity="0.7"/>
<circle cx="566.54" cy="48.11" r="1.35" fill="#fdd5a8" stroke="#000" stroke-width="0.55" fill-opacity="0.7"/>
<circle cx="565.87" cy="50.14" r="1.35" fill="#fdd5a8" stroke="#000" stroke-width="0.55" fill-opacity="0.7"/>
<circle cx="566.40" cy="52.18" r="1.35" fill="#fdd5a8" stroke="#000" stroke-width="0.55" fill-opacity="0.7"/>
<circle cx="565.97" cy="53.19" r="1.35" fill="#fdd5a8" stroke="#000" stroke-width="0.55" fill-opacity="0.7"/>
<circle cx="563.70" cy="63.35" r="1.35" fill="#fdd5a8" stroke="#000" stroke-width="0.55" fill-opacity="0.7"/>
<circle cx="563.73" cy="72.50" r="1.35" fill="#fdd5a8" stroke="#000" stroke-width="0.55" fill-opacity="0.7"/>
<circle cx="562.08" cy="75.54" r="1.35" fill="#fdd5a8" stroke="#000" stroke-width="0.55" fill-opacity="0.7"/>
<circle cx="565.05" cy="76.56" r="1.35" fill="#fdd5a8" stroke="#000" stroke-width="0.55" fill-opacity="0.7"/>
<circle cx="561.85" cy="78.59" r="1.35" fill="#fdd5a8" stroke="#000" stroke-width="0.55" fill-opacity="0.7"/>
<circle cx="561.88" cy="83.67" r="1.35" fill="#fdd5a8" stroke="#000" stroke-width="0.55" fill-opacity="0.7"/>
<circle cx="562.67" cy="87.74" r="1.35" fill="#fdd5a8" stroke="#000" stroke-width="0.55" fill-opacity="0.7"/>
<circle cx="562.41" cy="94.85" r="1.35" fill="#fdd5a8" stroke="#000" stroke-width="0.55" fill-opacity="0.7"/>
<circle cx="563.40" cy="99.93" r="1.35" fill="#fdd5a8" stroke="#000" stroke-width="0.55" fill-opacity="0.7"/>
<circle cx="561.79" cy="101.96" r="1.35" fill="#fdd5a8" stroke="#000" stroke-width="0.55" fill-opacity="0.7"/>
<circle cx="561.50" cy="102.98" r="1.35" fill="#fdd5a8" stroke="#000" stroke-width="0.55" fill-opacity="0.7"/>
<circle cx="562.35" cy="117.20" r="1.35" fill="#fdd5a8" stroke="#000" stroke-width="0.55" fill-opacity="0.7"/>
<line x1="582.50" y1="46.49" x2="582.50" y2="37.95" stroke="#000" stroke-width="0.75"/>
<line x1="580.50" y1="46.49" x2="584.50" y2="46.49" stroke="#000" stroke-width="0.75"/>
<line x1="580.50" y1="37.95" x2="584.50" y2="37.95" stroke="#000" stroke-width="0.75"/>
<circle cx="580.27" cy="16.62" r="1.35" fill="#e88f8f" stroke="#000" stroke-width="0.55" fill-opacity="0.7"/>
<circle cx="581.74" cy="17.12" r="1.35" fill="#e88f8f" stroke="#000" stroke-width="0.55" fill-opacity="0.7"/>
<circle cx="579.84" cy="18.65" r="1.35" fill="#e88f8f" stroke="#000" stroke-width="0.55" fill-opacity="0.7"/>
<circle cx="584.60" cy="19.66" r="1.35" fill="#e88f8f" stroke="#000" stroke-width="0.55" fill-opacity="0.7"/>
<circle cx="583.14" cy="20.68" r="1.35" fill="#e88f8f" stroke="#000" stroke-width="0.55" fill-opacity="0.7"/>
<circle cx="580.53" cy="21.70" r="1.35" fill="#e88f8f" stroke="#000" stroke-width="0.55" fill-opacity="0.7"/>
<circle cx="581.11" cy="23.73" r="1.35" fill="#e88f8f" stroke="#000" stroke-width="0.55" fill-opacity="0.7"/>
<circle cx="581.65" cy="25.76" r="1.35" fill="#e88f8f" stroke="#000" stroke-width="0.55" fill-opacity="0.7"/>
<circle cx="581.74" cy="26.78" r="1.35" fill="#e88f8f" stroke="#000" stroke-width="0.55" fill-opacity="0.7"/>
<circle cx="580.39" cy="28.81" r="1.35" fill="#e88f8f" stroke="#000" stroke-width="0.55" fill-opacity="0.7"/>
<circle cx="584.45" cy="29.82" r="1.35" fill="#e88f8f" stroke="#000" stroke-width="0.55" fill-opacity="0.7"/>
<circle cx="585.26" cy="30.84" r="1.35" fill="#e88f8f" stroke="#000" stroke-width="0.55" fill-opacity="0.7"/>
<circle cx="582.31" cy="34.90" r="1.35" fill="#e88f8f" stroke="#000" stroke-width="0.55" fill-opacity="0.7"/>
<circle cx="582.41" cy="36.94" r="1.35" fill="#e88f8f" stroke="#000" stroke-width="0.55" fill-opacity="0.7"/>
<circle cx="580.18" cy="39.98" r="1.35" fill="#e88f8f" stroke="#000" stroke-width="0.55" fill-opacity="0.7"/>
<circle cx="580.27" cy="44.05" r="1.35" fill="#e88f8f" stroke="#000" stroke-width="0.55" fill-opacity="0.7"/>
<circle cx="581.62" cy="46.08" r="1.35" fill="#e88f8f" stroke="#000" stroke-width="0.55" fill-opacity="0.7"/>
<circle cx="581.18" cy="53.19" r="1.35" fill="#e88f8f" stroke="#000" stroke-width="0.55" fill-opacity="0.7"/>
<circle cx="584.34" cy="57.26" r="1.35" fill="#e88f8f" stroke="#000" stroke-width="0.55" fill-opacity="0.7"/>
<circle cx="580.60" cy="58.27" r="1.35" fill="#e88f8f" stroke="#000" stroke-width="0.55" fill-opacity="0.7"/>
<circle cx="579.83" cy="60.30" r="1.35" fill="#e88f8f" stroke="#000" stroke-width="0.55" fill-opacity="0.7"/>
<circle cx="585.03" cy="64.37" r="1.35" fill="#e88f8f" stroke="#000" stroke-width="0.55" fill-opacity="0.7"/>
<circle cx="582.66" cy="76.56" r="1.35" fill="#e88f8f" stroke="#000" stroke-width="0.55" fill-opacity="0.7"/>
<circle cx="580.52" cy="80.62" r="1.35" fill="#e88f8f" stroke="#000" stroke-width="0.55" fill-opacity="0.7"/>
<circle cx="582.74" cy="86.72" r="1.35" fill="#e88f8f" stroke="#000" stroke-width="0.55" fill-opacity="0.7"/>
<line x1="600.70" y1="71.99" x2="600.70" y2="63.86" stroke="#000" stroke-width="0.75"/>
<line x1="598.70" y1="71.99" x2="602.70" y2="71.99" stroke="#000" stroke-width="0.75"/>
<line x1="598.70" y1="63.86" x2="602.70" y2="63.86" stroke="#000" stroke-width="0.75"/>
<circle cx="598.05" cy="28.81" r="1.35" fill="#b7e0d3" stroke="#000" stroke-width="0.55" fill-opacity="0.7"/>
<circle cx="600.86" cy="38.97" r="1.35" fill="#b7e0d3" stroke="#000" stroke-width="0.55" fill-opacity="0.7"/>
<circle cx="603.38" cy="44.05" r="1.35" fill="#b7e0d3" stroke="#000" stroke-width="0.55" fill-opacity="0.7"/>
<circle cx="602.73" cy="55.22" r="1.35" fill="#b7e0d3" stroke="#000" stroke-width="0.55" fill-opacity="0.7"/>
<circle cx="601.80" cy="57.26" r="1.35" fill="#b7e0d3" stroke="#000" stroke-width="0.55" fill-opacity="0.7"/>
<circle cx="599.36" cy="59.29" r="1.35" fill="#b7e0d3" stroke="#000" stroke-width="0.55" fill-opacity="0.7"/>
<circle cx="599.95" cy="61.32" r="1.35" fill="#b7e0d3" stroke="#000" stroke-width="0.55" fill-opacity="0.7"/>
<circle cx="598.84" cy="63.35" r="1.35" fill="#b7e0d3" stroke="#000" stroke-width="0.55" fill-opacity="0.7"/>
<circle cx="602.22" cy="65.38" r="1.35" fill="#b7e0d3" stroke="#000" stroke-width="0.55" fill-opacity="0.7"/>
<circle cx="600.88" cy="66.40" r="1.35" fill="#b7e0d3" stroke="#000" stroke-width="0.55" fill-opacity="0.7"/>
<circle cx="602.26" cy="68.43" r="1.35" fill="#b7e0d3" stroke="#000" stroke-width="0.55" fill-opacity="0.7"/>
<circle cx="599.75" cy="70.46" r="1.35" fill="#b7e0d3" stroke="#000" stroke-width="0.55" fill-opacity="0.7"/>
<circle cx="599.15" cy="72.50" r="1.35" fill="#b7e0d3" stroke="#000" stroke-width="0.55" fill-opacity="0.7"/>
<circle cx="602.44" cy="74.53" r="1.35" fill="#b7e0d3" stroke="#000" stroke-width="0.55" fill-opacity="0.7"/>
<circle cx="603.42" cy="78.59" r="1.35" fill="#b7e0d3" stroke="#000" stroke-width="0.55" fill-opacity="0.7"/>
<circle cx="602.67" cy="85.70" r="1.35" fill="#b7e0d3" stroke="#000" stroke-width="0.55" fill-opacity="0.7"/>
<circle cx="602.41" cy="87.74" r="1.35" fill="#b7e0d3" stroke="#000" stroke-width="0.55" fill-opacity="0.7"/>
<circle cx="602.48" cy="90.78" r="1.35" fill="#b7e0d3" stroke="#000" stroke-width="0.55" fill-opacity="0.7"/>
<circle cx="602.04" cy="91.80" r="1.35" fill="#b7e0d3" stroke="#000" stroke-width="0.55" fill-opacity="0.7"/>
<circle cx="599.17" cy="92.82" r="1.35" fill="#b7e0d3" stroke="#000" stroke-width="0.55" fill-opacity="0.7"/>
<circle cx="600.80" cy="96.88" r="1.35" fill="#b7e0d3" stroke="#000" stroke-width="0.55" fill-opacity="0.7"/>
<line x1="498.80" y1="12.00" x2="498.80" y2="122.10" stroke="#222" stroke-width="0.6"/>
<line x1="498.50" y1="122.10" x2="611.00" y2="122.10" stroke="#222" stroke-width="0.6"/>
<line x1="497.30" y1="117.20" x2="498.80" y2="117.20" stroke="#222" stroke-width="0.5"/>
<text x="496.30" y="119.00" font-size="5" text-anchor="end" fill="#222">0.00</text>
<line x1="497.30" y1="91.80" x2="498.80" y2="91.80" stroke="#222" stroke-width="0.5"/>
<text x="496.30" y="93.60" font-size="5" text-anchor="end" fill="#222">0.25</text>
<line x1="497.30" y1="66.40" x2="498.80" y2="66.40" stroke="#222" stroke-width="0.5"/>
<text x="496.30" y="68.20" font-size="5" text-anchor="end" fill="#222">0.50</text>
<line x1="497.30" y1="41.00" x2="498.80" y2="41.00" stroke="#222" stroke-width="0.5"/>
<text x="496.30" y="42.80" font-size="5" text-anchor="end" fill="#222">0.75</text>
<line x1="497.30" y1="15.60" x2="498.80" y2="15.60" stroke="#222" stroke-width="0.5"/>
<text x="496.30" y="17.40" font-size="5" text-anchor="end" fill="#222">1.00</text>
<line x1="509.60" y1="122.10" x2="509.60" y2="123.60" stroke="#222" stroke-width="0.5"/>
<line x1="527.90" y1="122.10" x2="527.90" y2="123.60" stroke="#222" stroke-width="0.5"/>
<line x1="546.10" y1="122.10" x2="546.10" y2="123.60" stroke="#222" stroke-width="0.5"/>
<line x1="564.30" y1="122.10" x2="564.30" y2="123.60" stroke="#222" stroke-width="0.5"/>
<line x1="582.50" y1="122.10" x2="582.50" y2="123.60" stroke="#222" stroke-width="0.5"/>
<line x1="600.70" y1="122.10" x2="600.70" y2="123.60" stroke="#222" stroke-width="0.5"/>
<text x="613.50" y="16.70" font-size="10.2" text-anchor="start" fill="#1a1a1a">Method</text>
<circle cx="621.10" cy="30.60" r="3.8" fill="#0a6cb2"/>
<text x="634.00" y="33.60" font-size="8.4" text-anchor="start" fill="#1a1a1a">CellScope</text>
<circle cx="621.10" cy="46.60" r="3.8" fill="#9897cb"/>
<text x="634.00" y="49.60" font-size="8.4" text-anchor="start" fill="#1a1a1a">Scanpy</text>
<circle cx="621.10" cy="62.60" r="3.8" fill="#b9d4ea"/>
<text x="634.00" y="65.60" font-size="8.4" text-anchor="start" fill="#1a1a1a">Seurat</text>
<circle cx="621.10" cy="78.60" r="3.8" fill="#fdd2a2"/>
<text x="634.00" y="81.60" font-size="8.4" text-anchor="start" fill="#1a1a1a">scLEGA</text>
<circle cx="621.10" cy="94.60" r="3.8" fill="#e78d8c"/>
<text x="634.00" y="97.60" font-size="8.4" text-anchor="start" fill="#1a1a1a">scDCCA</text>
<circle cx="621.10" cy="110.60" r="3.8" fill="#b3dfd0"/>
<text x="634.00" y="113.60" font-size="8.4" text-anchor="start" fill="#1a1a1a">CellBRF</text>
<text x="472.00" y="137.50" font-size="12.5" text-anchor="start" fill="#1a1a1a">b</text>
<text x="514.30" y="148.20" font-size="8.2" text-anchor="end" fill="#1a1a1a">CellBRF</text>
<rect x="522.08" y="139.30" width="97.82" height="11.80" fill="#5b55a7"/>
<rect x="529.79" y="139.30" width="90.12" height="11.80" fill="#8279bf"/>
<rect x="562.54" y="139.30" width="57.36" height="11.80" fill="#aca5d5"/>
<rect x="592.41" y="139.30" width="27.50" height="11.80" fill="#dbd9ed"/>
<text x="514.30" y="161.47" font-size="8.2" text-anchor="end" fill="#1a1a1a">scDCCA</text>
<rect x="522.08" y="152.57" width="97.82" height="11.80" fill="#25246d"/>
<rect x="538.14" y="152.57" width="81.77" height="11.80" fill="#3a3593"/>
<rect x="548.74" y="152.57" width="71.17" height="11.80" fill="#5b55a7"/>
<rect x="567.68" y="152.57" width="52.22" height="11.80" fill="#8279bf"/>
<rect x="584.38" y="152.57" width="35.52" height="11.80" fill="#aca5d5"/>
<rect x="589.52" y="152.57" width="30.39" height="11.80" fill="#dbd9ed"/>
<text x="514.30" y="174.74" font-size="8.2" text-anchor="end" fill="#1a1a1a">scLEGA</text>
<rect x="522.08" y="165.84" width="97.82" height="11.80" fill="#3a3593"/>
<rect x="526.90" y="165.84" width="93.01" height="11.80" fill="#5b55a7"/>
<rect x="538.14" y="165.84" width="81.77" height="11.80" fill="#aca5d5"/>
<rect x="586.95" y="165.84" width="32.96" height="11.80" fill="#dbd9ed"/>
<text x="514.30" y="188.01" font-size="8.2" text-anchor="end" fill="#1a1a1a">Seurat</text>
<rect x="522.08" y="179.11" width="97.82" height="11.80" fill="#25246d"/>
<rect x="532.68" y="179.11" width="87.23" height="11.80" fill="#3a3593"/>
<rect x="554.52" y="179.11" width="65.39" height="11.80" fill="#5b55a7"/>
<rect x="578.60" y="179.11" width="41.30" height="11.80" fill="#8279bf"/>
<rect x="611.68" y="179.11" width="8.23" height="11.80" fill="#aca5d5"/>
<rect x="616.82" y="179.11" width="3.09" height="11.80" fill="#dbd9ed"/>
<text x="514.30" y="201.28" font-size="8.2" text-anchor="end" fill="#1a1a1a">Scanpy</text>
<rect x="522.08" y="192.38" width="97.82" height="11.80" fill="#25246d"/>
<rect x="524.33" y="192.38" width="95.58" height="11.80" fill="#3a3593"/>
<rect x="565.11" y="192.38" width="54.79" height="11.80" fill="#5b55a7"/>
<rect x="597.87" y="192.38" width="22.04" height="11.80" fill="#8279bf"/>
<rect x="605.90" y="192.38" width="14.01" height="11.80" fill="#aca5d5"/>
<rect x="614.25" y="192.38" width="5.66" height="11.80" fill="#dbd9ed"/>
<text x="514.30" y="214.55" font-size="8.2" text-anchor="end" fill="#1a1a1a">CellScope</text>
<rect x="522.08" y="205.65" width="97.82" height="11.80" fill="#25246d"/>
<rect x="589.52" y="205.65" width="30.39" height="11.80" fill="#3a3593"/>
<rect x="608.79" y="205.65" width="11.12" height="11.80" fill="#5b55a7"/>
<rect x="611.68" y="205.65" width="8.23" height="11.80" fill="#8279bf"/>
<text x="635.50" y="137.60" font-size="7.6" text-anchor="start" fill="#1a1a1a">Rank</text>
<rect x="635.50" y="143.10" width="12.20" height="11.60" fill="#25246d"/>
<text x="652.80" y="151.50" font-size="6" text-anchor="start" fill="#1a1a1a">1</text>
<rect x="635.50" y="155.95" width="12.20" height="11.60" fill="#3a3593"/>
<text x="652.80" y="164.35" font-size="6" text-anchor="start" fill="#1a1a1a">2</text>
<rect x="635.50" y="168.80" width="12.20" height="11.60" fill="#5b55a7"/>
<text x="652.80" y="177.20" font-size="6" text-anchor="start" fill="#1a1a1a">3</text>
<rect x="635.50" y="181.65" width="12.20" height="11.60" fill="#8279bf"/>
<text x="652.80" y="190.05" font-size="6" text-anchor="start" fill="#1a1a1a">4</text>
<rect x="635.50" y="194.50" width="12.20" height="11.60" fill="#aca5d5"/>
<text x="652.80" y="202.90" font-size="6" text-anchor="start" fill="#1a1a1a">5</text>
<rect x="635.50" y="207.35" width="12.20" height="11.60" fill="#dbd9ed"/>
<text x="652.80" y="215.75" font-size="6" text-anchor="start" fill="#1a1a1a">6</text>
<text x="-0.20" y="231.30" font-size="13" text-anchor="start" fill="#1a1a1a">c</text>
<text x="11.50" y="237.00" font-size="7.9" text-anchor="start" fill="#1a1a1a">Time (s)</text>
<text x="106.00" y="235.00" font-size="8.2" text-anchor="middle" fill="#1a1a1a">Less than 3,000 cells</text>
<line x1="26.80" y1="243.50" x2="26.80" y2="314.10" stroke="#444" stroke-width="1.1"/>
<line x1="26.40" y1="313.80" x2="187.00" y2="313.80" stroke="#444" stroke-width="1.1"/>
<text x="24.20" y="248.00" font-size="7.0" text-anchor="end" fill="#1a1a1a">1000</text>
<line x1="25.30" y1="245.50" x2="26.80" y2="245.50" stroke="#222" stroke-width="0.6"/>
<text x="24.20" y="269.10" font-size="7.0" text-anchor="end" fill="#1a1a1a">100</text>
<line x1="25.30" y1="266.60" x2="26.80" y2="266.60" stroke="#222" stroke-width="0.6"/>
<text x="24.20" y="290.20" font-size="7.0" text-anchor="end" fill="#1a1a1a">10</text>
<line x1="25.30" y1="287.70" x2="26.80" y2="287.70" stroke="#222" stroke-width="0.6"/>
<text x="24.20" y="311.30" font-size="7.0" text-anchor="end" fill="#1a1a1a">1</text>
<line x1="25.30" y1="308.80" x2="26.80" y2="308.80" stroke="#222" stroke-width="0.6"/>
<line x1="42.50" y1="295.60" x2="42.50" y2="295.60" stroke="#555" stroke-width="0.55"/>
<line x1="42.50" y1="299.80" x2="42.50" y2="305.50" stroke="#555" stroke-width="0.55"/>
<rect x="33.20" y="295.60" width="18.60" height="4.20" fill="#1878b4" stroke="#6a6a6a" stroke-width="0.55"/>
<line x1="33.20" y1="297.80" x2="51.80" y2="297.80" stroke="#222" stroke-width="1.0"/>
<circle cx="40.00" cy="297.50" r="1.75" fill="#2b7cc0" fill-opacity="0.85"/>
<circle cx="42.00" cy="296.00" r="1.75" fill="#2b7cc0" fill-opacity="0.85"/>
<circle cx="44.50" cy="298.50" r="1.75" fill="#2b7cc0" fill-opacity="0.85"/>
<circle cx="38.50" cy="298.00" r="1.75" fill="#2b7cc0" fill-opacity="0.85"/>
<circle cx="41.50" cy="299.50" r="1.75" fill="#2b7cc0" fill-opacity="0.85"/>
<circle cx="43.00" cy="305.50" r="1.75" fill="#2b7cc0" fill-opacity="0.85"/>
<circle cx="42.20" cy="302.50" r="1.75" fill="#2b7cc0" fill-opacity="0.85"/>
<circle cx="39.50" cy="296.30" r="1.75" fill="#2b7cc0" fill-opacity="0.85"/>
<line x1="42.50" y1="313.80" x2="42.50" y2="315.50" stroke="#222" stroke-width="0.6"/>
<line x1="68.50" y1="285.60" x2="68.50" y2="289.40" stroke="#555" stroke-width="0.55"/>
<line x1="68.50" y1="302.50" x2="68.50" y2="310.00" stroke="#555" stroke-width="0.55"/>
<rect x="59.20" y="289.40" width="18.60" height="13.10" fill="#9b9bcc" stroke="#6a6a6a" stroke-width="0.55"/>
<line x1="59.20" y1="298.30" x2="77.80" y2="298.30" stroke="#222" stroke-width="1.0"/>
<circle cx="66.00" cy="284.80" r="1.75" fill="#9f9fd4" fill-opacity="0.85"/>
<circle cx="67.50" cy="286.50" r="1.75" fill="#9f9fd4" fill-opacity="0.85"/>
<circle cx="69.50" cy="288.50" r="1.75" fill="#9f9fd4" fill-opacity="0.85"/>
<circle cx="64.50" cy="303.50" r="1.75" fill="#9f9fd4" fill-opacity="0.85"/>
<circle cx="68.00" cy="310.50" r="1.75" fill="#9f9fd4" fill-opacity="0.85"/>
<circle cx="73.00" cy="307.50" r="1.75" fill="#9f9fd4" fill-opacity="0.85"/>
<circle cx="63.00" cy="295.00" r="1.75" fill="#9f9fd4" fill-opacity="0.85"/>
<circle cx="72.00" cy="300.00" r="1.75" fill="#9f9fd4" fill-opacity="0.85"/>
<line x1="68.50" y1="313.80" x2="68.50" y2="315.50" stroke="#222" stroke-width="0.6"/>
<line x1="94.30" y1="286.40" x2="94.30" y2="289.40" stroke="#555" stroke-width="0.55"/>
<line x1="94.30" y1="301.00" x2="94.30" y2="304.50" stroke="#555" stroke-width="0.55"/>
<rect x="85.00" y="289.40" width="18.60" height="11.60" fill="#bcd6ea" stroke="#6a6a6a" stroke-width="0.55"/>
<line x1="85.00" y1="296.10" x2="103.60" y2="296.10" stroke="#222" stroke-width="1.0"/>
<circle cx="94.50" cy="286.00" r="1.75" fill="#bcd7ee" fill-opacity="0.85"/>
<circle cx="97.50" cy="288.30" r="1.75" fill="#bcd7ee" fill-opacity="0.85"/>
<circle cx="91.00" cy="296.00" r="1.75" fill="#bcd7ee" fill-opacity="0.85"/>
<circle cx="96.00" cy="299.00" r="1.75" fill="#bcd7ee" fill-opacity="0.85"/>
<circle cx="91.50" cy="305.00" r="1.75" fill="#bcd7ee" fill-opacity="0.85"/>
<circle cx="98.00" cy="304.80" r="1.75" fill="#bcd7ee" fill-opacity="0.85"/>
<circle cx="93.00" cy="291.00" r="1.75" fill="#bcd7ee" fill-opacity="0.85"/>
<circle cx="89.00" cy="300.00" r="1.75" fill="#bcd7ee" fill-opacity="0.85"/>
<line x1="94.30" y1="313.80" x2="94.30" y2="315.50" stroke="#222" stroke-width="0.6"/>
<line x1="120.25" y1="260.80" x2="120.25" y2="266.00" stroke="#555" stroke-width="0.55"/>
<line x1="120.25" y1="284.20" x2="120.25" y2="290.60" stroke="#555" stroke-width="0.55"/>
<rect x="111.10" y="266.00" width="18.30" height="18.20" fill="#fdd5a8" stroke="#6a6a6a" stroke-width="0.55"/>
<line x1="111.10" y1="276.00" x2="129.40" y2="276.00" stroke="#222" stroke-width="1.0"/>
<circle cx="115.50" cy="260.50" r="1.75" fill="#fdd3a5" fill-opacity="0.85"/>
<circle cx="117.00" cy="263.00" r="1.75" fill="#fdd3a5" fill-opacity="0.85"/>
<circle cx="118.00" cy="265.50" r="1.75" fill="#fdd3a5" fill-opacity="0.85"/>
<circle cx="116.00" cy="267.00" r="1.75" fill="#fdd3a5" fill-opacity="0.85"/>
<circle cx="120.00" cy="288.00" r="1.75" fill="#fdd3a5" fill-opacity="0.85"/>
<circle cx="120.80" cy="291.00" r="1.75" fill="#fdd3a5" fill-opacity="0.85"/>
<circle cx="119.00" cy="274.00" r="1.75" fill="#fdd3a5" fill-opacity="0.85"/>
<circle cx="123.00" cy="280.00" r="1.75" fill="#fdd3a5" fill-opacity="0.85"/>
<line x1="120.25" y1="313.80" x2="120.25" y2="315.50" stroke="#222" stroke-width="0.6"/>
<line x1="146.05" y1="246.00" x2="146.05" y2="248.40" stroke="#555" stroke-width="0.55"/>
<line x1="146.05" y1="262.80" x2="146.05" y2="269.80" stroke="#555" stroke-width="0.55"/>
<rect x="136.90" y="248.40" width="18.30" height="14.40" fill="#e88f8f" stroke="#6a6a6a" stroke-width="0.55"/>
<line x1="136.90" y1="259.10" x2="155.20" y2="259.10" stroke="#222" stroke-width="1.0"/>
<circle cx="142.50" cy="246.50" r="1.75" fill="#ea9393" fill-opacity="0.85"/>
<circle cx="149.00" cy="246.20" r="1.75" fill="#ea9393" fill-opacity="0.85"/>
<circle cx="150.50" cy="247.80" r="1.75" fill="#ea9393" fill-opacity="0.85"/>
<circle cx="141.00" cy="268.00" r="1.75" fill="#ea9393" fill-opacity="0.85"/>
<circle cx="142.50" cy="269.80" r="1.75" fill="#ea9393" fill-opacity="0.85"/>
<circle cx="144.00" cy="267.50" r="1.75" fill="#ea9393" fill-opacity="0.85"/>
<circle cx="147.00" cy="257.00" r="1.75" fill="#ea9393" fill-opacity="0.85"/>
<circle cx="151.00" cy="262.00" r="1.75" fill="#ea9393" fill-opacity="0.85"/>
<line x1="146.05" y1="313.80" x2="146.05" y2="315.50" stroke="#222" stroke-width="0.6"/>
<line x1="171.75" y1="275.20" x2="171.75" y2="278.20" stroke="#555" stroke-width="0.55"/>
<line x1="171.75" y1="286.90" x2="171.75" y2="289.60" stroke="#555" stroke-width="0.55"/>
<rect x="162.70" y="278.20" width="18.10" height="8.70" fill="#b7e0d3" stroke="#6a6a6a" stroke-width="0.55"/>
<line x1="162.70" y1="286.40" x2="180.80" y2="286.40" stroke="#222" stroke-width="1.0"/>
<circle cx="170.00" cy="275.20" r="1.75" fill="#b4e2d3" fill-opacity="0.85"/>
<circle cx="175.50" cy="277.00" r="1.75" fill="#b4e2d3" fill-opacity="0.85"/>
<circle cx="168.00" cy="287.50" r="1.75" fill="#b4e2d3" fill-opacity="0.85"/>
<circle cx="173.00" cy="289.00" r="1.75" fill="#b4e2d3" fill-opacity="0.85"/>
<circle cx="175.50" cy="289.80" r="1.75" fill="#b4e2d3" fill-opacity="0.85"/>
<circle cx="177.00" cy="281.00" r="1.75" fill="#b4e2d3" fill-opacity="0.85"/>
<circle cx="166.00" cy="285.00" r="1.75" fill="#b4e2d3" fill-opacity="0.85"/>
<line x1="171.75" y1="313.80" x2="171.75" y2="315.50" stroke="#222" stroke-width="0.6"/>
<text x="12.90" y="333.20" font-size="7.9" text-anchor="start" fill="#1a1a1a">Time (s)</text>
<text x="109.50" y="332.10" font-size="8.2" text-anchor="middle" fill="#1a1a1a">3,000 to 50,000 cells</text>
<line x1="26.90" y1="338.60" x2="26.90" y2="409.10" stroke="#444" stroke-width="1.1"/>
<line x1="26.50" y1="408.80" x2="185.00" y2="408.80" stroke="#444" stroke-width="1.1"/>
<text x="24.20" y="345.00" font-size="7.0" text-anchor="end" fill="#1a1a1a">10000</text>
<line x1="25.40" y1="342.50" x2="26.90" y2="342.50" stroke="#222" stroke-width="0.6"/>
<text x="24.20" y="363.80" font-size="7.0" text-anchor="end" fill="#1a1a1a">1000</text>
<line x1="25.40" y1="361.30" x2="26.90" y2="361.30" stroke="#222" stroke-width="0.6"/>
<text x="24.20" y="382.70" font-size="7.0" text-anchor="end" fill="#1a1a1a">100</text>
<line x1="25.40" y1="380.20" x2="26.90" y2="380.20" stroke="#222" stroke-width="0.6"/>
<text x="24.20" y="401.80" font-size="7.0" text-anchor="end" fill="#1a1a1a">10</text>
<line x1="25.40" y1="399.30" x2="26.90" y2="399.30" stroke="#222" stroke-width="0.6"/>
<line x1="42.60" y1="372.70" x2="42.60" y2="381.00" stroke="#555" stroke-width="0.55"/>
<line x1="42.60" y1="404.60" x2="42.60" y2="405.50" stroke="#555" stroke-width="0.55"/>
<rect x="33.30" y="381.00" width="18.60" height="23.60" fill="#1878b4" stroke="#6a6a6a" stroke-width="0.55"/>
<line x1="33.30" y1="400.40" x2="51.90" y2="400.40" stroke="#222" stroke-width="1.0"/>
<circle cx="42.80" cy="372.50" r="1.75" fill="#2b7cc0" fill-opacity="0.85"/>
<circle cx="39.00" cy="377.00" r="1.75" fill="#2b7cc0" fill-opacity="0.85"/>
<circle cx="37.50" cy="379.00" r="1.75" fill="#2b7cc0" fill-opacity="0.85"/>
<circle cx="35.50" cy="380.00" r="1.75" fill="#2b7cc0" fill-opacity="0.85"/>
<circle cx="40.00" cy="404.80" r="1.75" fill="#2b7cc0" fill-opacity="0.85"/>
<circle cx="42.50" cy="405.30" r="1.75" fill="#2b7cc0" fill-opacity="0.85"/>
<circle cx="46.00" cy="404.50" r="1.75" fill="#2b7cc0" fill-opacity="0.85"/>
<circle cx="37.50" cy="400.00" r="1.75" fill="#2b7cc0" fill-opacity="0.85"/>
<line x1="42.60" y1="408.80" x2="42.60" y2="410.50" stroke="#222" stroke-width="0.6"/>
<line x1="67.80" y1="369.90" x2="67.80" y2="376.30" stroke="#555" stroke-width="0.55"/>
<line x1="67.80" y1="394.90" x2="67.80" y2="397.10" stroke="#555" stroke-width="0.55"/>
<rect x="58.80" y="376.30" width="18.00" height="18.60" fill="#9b9bcc" stroke="#6a6a6a" stroke-width="0.55"/>
<line x1="58.80" y1="387.40" x2="76.80" y2="387.40" stroke="#222" stroke-width="1.0"/>
<circle cx="71.00" cy="369.80" r="1.75" fill="#9f9fd4" fill-opacity="0.85"/>
<circle cx="64.00" cy="375.50" r="1.75" fill="#9f9fd4" fill-opacity="0.85"/>
<circle cx="66.00" cy="396.00" r="1.75" fill="#9f9fd4" fill-opacity="0.85"/>
<circle cx="69.50" cy="396.50" r="1.75" fill="#9f9fd4" fill-opacity="0.85"/>
<circle cx="62.00" cy="385.00" r="1.75" fill="#9f9fd4" fill-opacity="0.85"/>
<circle cx="72.00" cy="382.00" r="1.75" fill="#9f9fd4" fill-opacity="0.85"/>
<circle cx="68.00" cy="391.00" r="1.75" fill="#9f9fd4" fill-opacity="0.85"/>
<line x1="67.80" y1="408.80" x2="67.80" y2="410.50" stroke="#222" stroke-width="0.6"/>
<line x1="93.20" y1="370.80" x2="93.20" y2="378.30" stroke="#555" stroke-width="0.55"/>
<line x1="93.20" y1="393.20" x2="93.20" y2="401.80" stroke="#555" stroke-width="0.55"/>
<rect x="84.00" y="378.30" width="18.40" height="14.90" fill="#bcd6ea" stroke="#6a6a6a" stroke-width="0.55"/>
<line x1="84.00" y1="383.50" x2="102.40" y2="383.50" stroke="#222" stroke-width="1.0"/>
<circle cx="93.50" cy="371.50" r="1.75" fill="#bcd7ee" fill-opacity="0.85"/>
<circle cx="98.00" cy="370.80" r="1.75" fill="#bcd7ee" fill-opacity="0.85"/>
<circle cx="90.00" cy="395.00" r="1.75" fill="#bcd7ee" fill-opacity="0.85"/>
<circle cx="95.50" cy="394.50" r="1.75" fill="#bcd7ee" fill-opacity="0.85"/>
<circle cx="88.00" cy="401.80" r="1.75" fill="#bcd7ee" fill-opacity="0.85"/>
<circle cx="93.00" cy="398.50" r="1.75" fill="#bcd7ee" fill-opacity="0.85"/>
<circle cx="97.00" cy="384.00" r="1.75" fill="#bcd7ee" fill-opacity="0.85"/>
<circle cx="91.00" cy="380.00" r="1.75" fill="#bcd7ee" fill-opacity="0.85"/>
<line x1="93.20" y1="408.80" x2="93.20" y2="410.50" stroke="#222" stroke-width="0.6"/>
<line x1="118.60" y1="369.40" x2="118.60" y2="369.40" stroke="#555" stroke-width="0.55"/>
<line x1="118.60" y1="371.60" x2="118.60" y2="371.60" stroke="#555" stroke-width="0.55"/>
<rect x="109.60" y="369.40" width="18.00" height="2.20" fill="#fdd5a8" stroke="#6a6a6a" stroke-width="0.55"/>
<line x1="109.60" y1="370.50" x2="127.60" y2="370.50" stroke="#222" stroke-width="1.0"/>
<circle cx="112.50" cy="370.80" r="1.75" fill="#fdd3a5" fill-opacity="0.85"/>
<circle cx="116.00" cy="371.50" r="1.75" fill="#fdd3a5" fill-opacity="0.85"/>
<circle cx="119.00" cy="370.00" r="1.75" fill="#fdd3a5" fill-opacity="0.85"/>
<circle cx="121.50" cy="372.00" r="1.75" fill="#fdd3a5" fill-opacity="0.85"/>
<circle cx="118.00" cy="369.50" r="1.75" fill="#fdd3a5" fill-opacity="0.85"/>
<line x1="118.60" y1="408.80" x2="118.60" y2="410.50" stroke="#222" stroke-width="0.6"/>
<line x1="143.80" y1="340.80" x2="143.80" y2="345.50" stroke="#555" stroke-width="0.55"/>
<line x1="143.80" y1="359.40" x2="143.80" y2="361.00" stroke="#555" stroke-width="0.55"/>
<rect x="134.80" y="345.50" width="18.00" height="13.90" fill="#e88f8f" stroke="#6a6a6a" stroke-width="0.55"/>
<line x1="134.80" y1="356.10" x2="152.80" y2="356.10" stroke="#222" stroke-width="1.0"/>
<circle cx="143.50" cy="340.80" r="1.75" fill="#ea9393" fill-opacity="0.85"/>
<circle cx="138.50" cy="345.00" r="1.75" fill="#ea9393" fill-opacity="0.85"/>
<circle cx="147.00" cy="344.50" r="1.75" fill="#ea9393" fill-opacity="0.85"/>
<circle cx="140.00" cy="360.00" r="1.75" fill="#ea9393" fill-opacity="0.85"/>
<circle cx="145.00" cy="361.20" r="1.75" fill="#ea9393" fill-opacity="0.85"/>
<circle cx="148.00" cy="360.00" r="1.75" fill="#ea9393" fill-opacity="0.85"/>
<circle cx="149.50" cy="358.00" r="1.75" fill="#ea9393" fill-opacity="0.85"/>
<circle cx="142.00" cy="356.00" r="1.75" fill="#ea9393" fill-opacity="0.85"/>
<line x1="143.80" y1="408.80" x2="143.80" y2="410.50" stroke="#222" stroke-width="0.6"/>
<line x1="169.05" y1="378.30" x2="169.05" y2="380.70" stroke="#555" stroke-width="0.55"/>
<line x1="169.05" y1="386.00" x2="169.05" y2="388.00" stroke="#555" stroke-width="0.55"/>
<rect x="160.00" y="380.70" width="18.10" height="5.30" fill="#b7e0d3" stroke="#6a6a6a" stroke-width="0.55"/>
<line x1="160.00" y1="382.70" x2="178.10" y2="382.70" stroke="#222" stroke-width="1.0"/>
<circle cx="166.50" cy="388.00" r="1.75" fill="#b4e2d3" fill-opacity="0.85"/>
<circle cx="169.00" cy="387.00" r="1.75" fill="#b4e2d3" fill-opacity="0.85"/>
<circle cx="172.00" cy="379.50" r="1.75" fill="#b4e2d3" fill-opacity="0.85"/>
<circle cx="174.00" cy="378.80" r="1.75" fill="#b4e2d3" fill-opacity="0.85"/>
<circle cx="176.00" cy="382.00" r="1.75" fill="#b4e2d3" fill-opacity="0.85"/>
<circle cx="164.00" cy="384.00" r="1.75" fill="#b4e2d3" fill-opacity="0.85"/>
<line x1="169.05" y1="408.80" x2="169.05" y2="410.50" stroke="#222" stroke-width="0.6"/>
<circle cx="168.90" cy="366.60" r="1.2" fill="#3f7f6c"/>
<text x="17.20" y="430.40" font-size="7.9" text-anchor="start" fill="#1a1a1a">Time (s)</text>
<text x="111.30" y="428.80" font-size="8.2" text-anchor="middle" fill="#1a1a1a">Larger than 50,000 cells</text>
<line x1="29.10" y1="433.00" x2="29.10" y2="516.70" stroke="#222" stroke-width="1.1"/>
<line x1="28.60" y1="516.20" x2="186.00" y2="516.20" stroke="#222" stroke-width="1.1"/>
<text x="26.40" y="450.80" font-size="7.0" text-anchor="end" fill="#1a1a1a">10000</text>
<line x1="27.60" y1="448.30" x2="29.10" y2="448.30" stroke="#222" stroke-width="0.6"/>
<text x="26.40" y="472.40" font-size="7.0" text-anchor="end" fill="#1a1a1a">3000</text>
<line x1="27.60" y1="469.90" x2="29.10" y2="469.90" stroke="#222" stroke-width="0.6"/>
<text x="26.40" y="492.90" font-size="7.0" text-anchor="end" fill="#1a1a1a">1000</text>
<line x1="27.60" y1="490.40" x2="29.10" y2="490.40" stroke="#222" stroke-width="0.6"/>
<text x="26.40" y="515.40" font-size="7.0" text-anchor="end" fill="#1a1a1a">300</text>
<line x1="27.60" y1="512.90" x2="29.10" y2="512.90" stroke="#222" stroke-width="0.6"/>
<line x1="43.55" y1="465.50" x2="43.55" y2="482.70" stroke="#555" stroke-width="0.55"/>
<line x1="43.55" y1="506.30" x2="43.55" y2="511.00" stroke="#555" stroke-width="0.55"/>
<rect x="34.40" y="482.70" width="18.30" height="23.60" fill="#1878b4" stroke="#6a6a6a" stroke-width="0.55"/>
<line x1="34.40" y1="491.30" x2="52.70" y2="491.30" stroke="#222" stroke-width="1.0"/>
<circle cx="45.00" cy="465.30" r="1.75" fill="#2b7cc0" fill-opacity="0.85"/>
<circle cx="39.00" cy="479.50" r="1.75" fill="#2b7cc0" fill-opacity="0.85"/>
<circle cx="47.00" cy="481.50" r="1.75" fill="#2b7cc0" fill-opacity="0.85"/>
<circle cx="43.00" cy="507.00" r="1.75" fill="#2b7cc0" fill-opacity="0.85"/>
<circle cx="45.50" cy="506.50" r="1.75" fill="#2b7cc0" fill-opacity="0.85"/>
<circle cx="48.00" cy="505.50" r="1.75" fill="#2b7cc0" fill-opacity="0.85"/>
<circle cx="41.50" cy="509.50" r="1.75" fill="#2b7cc0" fill-opacity="0.85"/>
<circle cx="42.50" cy="511.50" r="1.75" fill="#2b7cc0" fill-opacity="0.85"/>
<circle cx="41.00" cy="512.30" r="1.75" fill="#2b7cc0" fill-opacity="0.85"/>
<line x1="68.80" y1="463.50" x2="68.80" y2="474.40" stroke="#555" stroke-width="0.55"/>
<line x1="68.80" y1="489.60" x2="68.80" y2="505.00" stroke="#555" stroke-width="0.55"/>
<rect x="59.90" y="474.40" width="17.80" height="15.20" fill="#9b9bcc" stroke="#6a6a6a" stroke-width="0.55"/>
<line x1="59.90" y1="481.60" x2="77.70" y2="481.60" stroke="#222" stroke-width="1.0"/>
<circle cx="73.80" cy="463.00" r="1.75" fill="#9f9fd4" fill-opacity="0.85"/>
<circle cx="65.00" cy="471.00" r="1.75" fill="#9f9fd4" fill-opacity="0.85"/>
<circle cx="62.00" cy="476.00" r="1.75" fill="#9f9fd4" fill-opacity="0.85"/>
<circle cx="70.00" cy="476.50" r="1.75" fill="#9f9fd4" fill-opacity="0.85"/>
<circle cx="72.50" cy="489.00" r="1.75" fill="#9f9fd4" fill-opacity="0.85"/>
<circle cx="69.50" cy="497.00" r="1.75" fill="#9f9fd4" fill-opacity="0.85"/>
<circle cx="68.00" cy="500.50" r="1.75" fill="#9f9fd4" fill-opacity="0.85"/>
<circle cx="71.50" cy="504.00" r="1.75" fill="#9f9fd4" fill-opacity="0.85"/>
<circle cx="70.30" cy="506.30" r="1.75" fill="#9f9fd4" fill-opacity="0.85"/>
<line x1="94.20" y1="469.10" x2="94.20" y2="482.10" stroke="#555" stroke-width="0.55"/>
<line x1="94.20" y1="501.50" x2="94.20" y2="509.30" stroke="#555" stroke-width="0.55"/>
<rect x="84.90" y="482.10" width="18.60" height="19.40" fill="#bcd6ea" stroke="#6a6a6a" stroke-width="0.55"/>
<line x1="84.90" y1="490.20" x2="103.50" y2="490.20" stroke="#222" stroke-width="1.0"/>
<circle cx="98.30" cy="468.80" r="1.75" fill="#bcd7ee" fill-opacity="0.85"/>
<circle cx="90.50" cy="480.00" r="1.75" fill="#bcd7ee" fill-opacity="0.85"/>
<circle cx="99.50" cy="478.50" r="1.75" fill="#bcd7ee" fill-opacity="0.85"/>
<circle cx="88.50" cy="489.00" r="1.75" fill="#bcd7ee" fill-opacity="0.85"/>
<circle cx="92.00" cy="499.00" r="1.75" fill="#bcd7ee" fill-opacity="0.85"/>
<circle cx="99.00" cy="504.50" r="1.75" fill="#bcd7ee" fill-opacity="0.85"/>
<circle cx="94.80" cy="510.20" r="1.75" fill="#bcd7ee" fill-opacity="0.85"/>
<line x1="135.90" y1="437.20" x2="154.00" y2="437.20" stroke="#222" stroke-width="1.4"/>
<circle cx="140.10" cy="437.20" r="2.1" fill="#ea9393"/>
<line x1="43.50" y1="516.20" x2="43.50" y2="517.90" stroke="#222" stroke-width="0.6"/>
<text x="43.50" y="528.00" font-size="6.9" text-anchor="middle" fill="#1a1a1a" transform="rotate(-20 43.50 528.00)">CellScope</text>
<line x1="68.80" y1="516.20" x2="68.80" y2="517.90" stroke="#222" stroke-width="0.6"/>
<text x="70.20" y="528.00" font-size="6.9" text-anchor="middle" fill="#1a1a1a" transform="rotate(-20 70.20 528.00)">Scanpy</text>
<line x1="94.20" y1="516.20" x2="94.20" y2="517.90" stroke="#222" stroke-width="0.6"/>
<text x="94.80" y="528.00" font-size="6.9" text-anchor="middle" fill="#1a1a1a" transform="rotate(-20 94.80 528.00)">Seurat</text>
<line x1="119.60" y1="516.20" x2="119.60" y2="517.90" stroke="#222" stroke-width="0.6"/>
<text x="120.40" y="528.00" font-size="6.9" text-anchor="middle" fill="#1a1a1a" transform="rotate(-20 120.40 528.00)">scLEGA</text>
<line x1="145.00" y1="516.20" x2="145.00" y2="517.90" stroke="#222" stroke-width="0.6"/>
<text x="145.40" y="528.00" font-size="6.9" text-anchor="middle" fill="#1a1a1a" transform="rotate(-20 145.40 528.00)">scDCCA</text>
<line x1="170.40" y1="516.20" x2="170.40" y2="517.90" stroke="#222" stroke-width="0.6"/>
<text x="172.00" y="528.00" font-size="6.9" text-anchor="middle" fill="#1a1a1a" transform="rotate(-20 172.00 528.00)">CellBRF</text>
<text x="185.30" y="234.20" font-size="12.5" text-anchor="start" fill="#1a1a1a">d</text>
<text x="199.20" y="236.20" font-size="6.0" text-anchor="start" fill="#333" font-weight="bold">Data Name</text>
<text x="220.60" y="246.65" font-size="6.5" text-anchor="end" fill="#444">Li(HA)</text>
<text x="220.60" y="254.22" font-size="6.5" text-anchor="end" fill="#444">Yao</text>
<text x="220.60" y="261.78" font-size="6.5" text-anchor="end" fill="#444">Hoo</text>
<text x="220.60" y="269.35" font-size="6.5" text-anchor="end" fill="#444">Yu</text>
<text x="220.60" y="276.91" font-size="6.5" text-anchor="end" fill="#444">Li(M)</text>
<text x="220.60" y="284.48" font-size="6.5" text-anchor="end" fill="#444">Posner</text>
<text x="220.60" y="292.05" font-size="6.5" text-anchor="end" fill="#444">Ayhan</text>
<text x="220.60" y="299.61" font-size="6.5" text-anchor="end" fill="#444">Qiu(E)</text>
<text x="220.60" y="307.18" font-size="6.5" text-anchor="end" fill="#444">Ulrich</text>
<text x="220.60" y="314.74" font-size="6.5" text-anchor="end" fill="#444">Qiu(L)</text>
<text x="220.60" y="322.31" font-size="6.5" text-anchor="end" fill="#444">Li(H)</text>
<text x="220.60" y="329.88" font-size="6.5" text-anchor="end" fill="#444">Li</text>
<text x="220.60" y="337.44" font-size="6.5" text-anchor="end" fill="#444">Ulrich(H)</text>
<text x="220.60" y="345.01" font-size="6.5" text-anchor="end" fill="#444">Siletti−6</text>
<text x="220.60" y="352.57" font-size="6.5" text-anchor="end" fill="#444">Siletti−5</text>
<text x="220.60" y="360.14" font-size="6.5" text-anchor="end" fill="#444">Siletti−4</text>
<text x="220.60" y="367.71" font-size="6.5" text-anchor="end" fill="#444">Siletti−3</text>
<text x="220.60" y="375.27" font-size="6.5" text-anchor="end" fill="#444">Baron(H)</text>
<text x="220.60" y="382.84" font-size="6.5" text-anchor="end" fill="#444">Siletti−2</text>
<text x="220.60" y="390.40" font-size="6.5" text-anchor="end" fill="#444">Tirosh</text>
<text x="220.60" y="397.97" font-size="6.5" text-anchor="end" fill="#444">Siletti−1</text>
<text x="220.60" y="405.54" font-size="6.5" text-anchor="end" fill="#444">Han(B)</text>
<text x="220.60" y="413.10" font-size="6.5" text-anchor="end" fill="#444">Keller(P)</text>
<text x="220.60" y="420.67" font-size="6.5" text-anchor="end" fill="#444">Lake</text>
<text x="220.60" y="428.23" font-size="6.5" text-anchor="end" fill="#444">Zeisel</text>
<text x="220.60" y="435.80" font-size="6.5" text-anchor="end" fill="#444">Klein</text>
<text x="220.60" y="443.37" font-size="6.5" text-anchor="end" fill="#444">NHGRI</text>
<text x="220.60" y="450.93" font-size="6.5" text-anchor="end" fill="#444">Muraro</text>
<text x="220.60" y="458.50" font-size="6.5" text-anchor="end" fill="#444">Keller(I)</text>
<text x="220.60" y="466.06" font-size="6.5" text-anchor="end" fill="#444">Xin</text>
<text x="220.60" y="473.63" font-size="6.5" text-anchor="end" fill="#444">Usoskin</text>
<text x="220.60" y="481.20" font-size="6.5" text-anchor="end" fill="#444">Darmanis</text>
<text x="220.60" y="488.76" font-size="6.5" text-anchor="end" fill="#444">Wang</text>
<text x="220.60" y="496.33" font-size="6.5" text-anchor="end" fill="#444">Pollen</text>
<text x="220.60" y="503.89" font-size="6.5" text-anchor="end" fill="#444">Goolam</text>
<text x="220.60" y="511.46" font-size="6.5" text-anchor="end" fill="#444">Yan</text>
<text x="256.40" y="235.60" font-size="7" text-anchor="middle" fill="#111">FEAST</text>
<rect x="226.06" y="407.55" width="2.80" height="6.50" fill="#6f5f63"/>
<rect x="226.06" y="415.12" width="28.84" height="6.50" fill="#6f5f63"/>
<rect x="226.06" y="422.68" width="22.83" height="6.50" fill="#6f5f63"/>
<rect x="226.06" y="430.25" width="7.21" height="6.50" fill="#6f5f63"/>
<rect x="226.06" y="437.82" width="16.82" height="6.50" fill="#6f5f63"/>
<rect x="226.06" y="445.38" width="10.81" height="6.50" fill="#6f5f63"/>
<rect x="226.06" y="452.95" width="0.80" height="6.50" fill="#6f5f63"/>
<rect x="226.06" y="460.51" width="13.22" height="6.50" fill="#6f5f63"/>
<rect x="226.06" y="468.08" width="0.40" height="6.50" fill="#6f5f63"/>
<rect x="226.06" y="475.65" width="3.20" height="6.50" fill="#6f5f63"/>
<rect x="226.06" y="483.21" width="60.48" height="6.50" fill="#6f5f63"/>
<rect x="226.06" y="490.78" width="50.66" height="6.50" fill="#6f5f63"/>
<rect x="226.06" y="498.34" width="18.82" height="6.50" fill="#6f5f63"/>
<rect x="226.06" y="505.91" width="14.82" height="6.50" fill="#6f5f63"/>
<line x1="266.11" y1="240.80" x2="266.11" y2="513.10" stroke="#e8212b" stroke-width="1.25" stroke-dasharray="5.3 4.6"/>
<line x1="222.85" y1="240.00" x2="222.85" y2="513.70" stroke="#111" stroke-width="1.3"/>
<line x1="222.25" y1="513.10" x2="290.00" y2="513.10" stroke="#111" stroke-width="1.2"/>
<line x1="221.05" y1="244.35" x2="222.85" y2="244.35" stroke="#111" stroke-width="0.6"/>
<line x1="221.05" y1="251.92" x2="222.85" y2="251.92" stroke="#111" stroke-width="0.6"/>
<line x1="221.05" y1="259.48" x2="222.85" y2="259.48" stroke="#111" stroke-width="0.6"/>
<line x1="221.05" y1="267.05" x2="222.85" y2="267.05" stroke="#111" stroke-width="0.6"/>
<line x1="221.05" y1="274.61" x2="222.85" y2="274.61" stroke="#111" stroke-width="0.6"/>
<line x1="221.05" y1="282.18" x2="222.85" y2="282.18" stroke="#111" stroke-width="0.6"/>
<line x1="221.05" y1="289.75" x2="222.85" y2="289.75" stroke="#111" stroke-width="0.6"/>
<line x1="221.05" y1="297.31" x2="222.85" y2="297.31" stroke="#111" stroke-width="0.6"/>
<line x1="221.05" y1="304.88" x2="222.85" y2="304.88" stroke="#111" stroke-width="0.6"/>
<line x1="221.05" y1="312.44" x2="222.85" y2="312.44" stroke="#111" stroke-width="0.6"/>
<line x1="221.05" y1="320.01" x2="222.85" y2="320.01" stroke="#111" stroke-width="0.6"/>
<line x1="221.05" y1="327.58" x2="222.85" y2="327.58" stroke="#111" stroke-width="0.6"/>
<line x1="221.05" y1="335.14" x2="222.85" y2="335.14" stroke="#111" stroke-width="0.6"/>
<line x1="221.05" y1="342.71" x2="222.85" y2="342.71" stroke="#111" stroke-width="0.6"/>
<line x1="221.05" y1="350.27" x2="222.85" y2="350.27" stroke="#111" stroke-width="0.6"/>
<line x1="221.05" y1="357.84" x2="222.85" y2="357.84" stroke="#111" stroke-width="0.6"/>
<line x1="221.05" y1="365.41" x2="222.85" y2="365.41" stroke="#111" stroke-width="0.6"/>
<line x1="221.05" y1="372.97" x2="222.85" y2="372.97" stroke="#111" stroke-width="0.6"/>
<line x1="221.05" y1="380.54" x2="222.85" y2="380.54" stroke="#111" stroke-width="0.6"/>
<line x1="221.05" y1="388.10" x2="222.85" y2="388.10" stroke="#111" stroke-width="0.6"/>
<line x1="221.05" y1="395.67" x2="222.85" y2="395.67" stroke="#111" stroke-width="0.6"/>
<line x1="221.05" y1="403.24" x2="222.85" y2="403.24" stroke="#111" stroke-width="0.6"/>
<line x1="221.05" y1="410.80" x2="222.85" y2="410.80" stroke="#111" stroke-width="0.6"/>
<line x1="221.05" y1="418.37" x2="222.85" y2="418.37" stroke="#111" stroke-width="0.6"/>
<line x1="221.05" y1="425.93" x2="222.85" y2="425.93" stroke="#111" stroke-width="0.6"/>
<line x1="221.05" y1="433.50" x2="222.85" y2="433.50" stroke="#111" stroke-width="0.6"/>
<line x1="221.05" y1="441.07" x2="222.85" y2="441.07" stroke="#111" stroke-width="0.6"/>
<line x1="221.05" y1="448.63" x2="222.85" y2="448.63" stroke="#111" stroke-width="0.6"/>
<line x1="221.05" y1="456.20" x2="222.85" y2="456.20" stroke="#111" stroke-width="0.6"/>
<line x1="221.05" y1="463.76" x2="222.85" y2="463.76" stroke="#111" stroke-width="0.6"/>
<line x1="221.05" y1="471.33" x2="222.85" y2="471.33" stroke="#111" stroke-width="0.6"/>
<line x1="221.05" y1="478.90" x2="222.85" y2="478.90" stroke="#111" stroke-width="0.6"/>
<line x1="221.05" y1="486.46" x2="222.85" y2="486.46" stroke="#111" stroke-width="0.6"/>
<line x1="221.05" y1="494.03" x2="222.85" y2="494.03" stroke="#111" stroke-width="0.6"/>
<line x1="221.05" y1="501.59" x2="222.85" y2="501.59" stroke="#111" stroke-width="0.6"/>
<line x1="221.05" y1="509.16" x2="222.85" y2="509.16" stroke="#111" stroke-width="0.6"/>
<line x1="226.06" y1="513.10" x2="226.06" y2="514.70" stroke="#111" stroke-width="0.6"/>
<text x="226.06" y="521.00" font-size="7.4" text-anchor="middle" fill="#444">0</text>
<line x1="246.09" y1="513.10" x2="246.09" y2="514.70" stroke="#111" stroke-width="0.6"/>
<text x="246.09" y="521.00" font-size="7.4" text-anchor="middle" fill="#444">0.5</text>
<line x1="266.11" y1="513.10" x2="266.11" y2="514.70" stroke="#111" stroke-width="0.6"/>
<text x="266.11" y="521.00" font-size="7.4" text-anchor="middle" fill="#444">1</text>
<line x1="286.13" y1="513.10" x2="286.13" y2="514.70" stroke="#111" stroke-width="0.6"/>
<text x="286.13" y="521.00" font-size="7.4" text-anchor="middle" fill="#444">1.5</text>
<text x="259.23" y="529.00" font-size="7.6" text-anchor="middle" fill="#222">ASWR</text>
<text x="330.90" y="235.60" font-size="7" text-anchor="middle" fill="#111">mixHVG</text>
<rect x="329.70" y="241.10" width="8.91" height="6.50" fill="#aa6660"/>
<rect x="329.70" y="248.67" width="20.61" height="6.50" fill="#aa6660"/>
<rect x="329.70" y="256.23" width="24.37" height="6.50" fill="#aa6660"/>
<rect x="329.70" y="263.80" width="13.93" height="6.50" fill="#aa6660"/>
<rect x="329.70" y="271.36" width="18.94" height="6.50" fill="#aa6660"/>
<rect x="329.70" y="278.93" width="13.09" height="6.50" fill="#aa6660"/>
<rect x="329.70" y="286.50" width="13.93" height="6.50" fill="#aa6660"/>
<rect x="329.70" y="294.06" width="10.03" height="6.50" fill="#aa6660"/>
<rect x="329.70" y="301.63" width="18.94" height="6.50" fill="#aa6660"/>
<rect x="329.70" y="309.19" width="13.93" height="6.50" fill="#aa6660"/>
<rect x="329.70" y="316.76" width="13.93" height="6.50" fill="#aa6660"/>
<rect x="329.70" y="324.33" width="15.87" height="6.50" fill="#aa6660"/>
<rect x="329.70" y="331.89" width="18.94" height="6.50" fill="#aa6660"/>
<rect x="329.70" y="339.46" width="23.12" height="6.50" fill="#aa6660"/>
<rect x="329.70" y="347.02" width="27.57" height="6.50" fill="#aa6660"/>
<rect x="329.70" y="354.59" width="27.85" height="6.50" fill="#aa6660"/>
<rect x="329.70" y="362.16" width="18.10" height="6.50" fill="#aa6660"/>
<rect x="329.70" y="369.72" width="15.04" height="6.50" fill="#aa6660"/>
<rect x="329.70" y="377.29" width="22.84" height="6.50" fill="#aa6660"/>
<rect x="329.70" y="384.85" width="17.41" height="6.50" fill="#aa6660"/>
<rect x="329.70" y="392.42" width="14.76" height="6.50" fill="#aa6660"/>
<rect x="329.70" y="399.99" width="30.64" height="6.50" fill="#aa6660"/>
<rect x="300.74" y="407.55" width="28.96" height="6.50" fill="#aa6660"/>
<rect x="329.70" y="415.12" width="3.06" height="6.50" fill="#aa6660"/>
<rect x="329.70" y="422.68" width="20.61" height="6.50" fill="#aa6660"/>
<rect x="329.70" y="430.25" width="13.65" height="6.50" fill="#aa6660"/>
<rect x="329.70" y="437.82" width="18.94" height="6.50" fill="#aa6660"/>
<rect x="329.70" y="445.38" width="26.74" height="6.50" fill="#aa6660"/>
<rect x="322.74" y="452.95" width="6.96" height="6.50" fill="#aa6660"/>
<rect x="327.47" y="460.51" width="2.23" height="6.50" fill="#aa6660"/>
<rect x="329.70" y="468.08" width="3.90" height="6.50" fill="#aa6660"/>
<rect x="329.70" y="475.65" width="6.13" height="6.50" fill="#aa6660"/>
<rect x="329.70" y="483.21" width="13.93" height="6.50" fill="#aa6660"/>
<rect x="329.70" y="490.78" width="17.41" height="6.50" fill="#aa6660"/>
<rect x="329.70" y="498.34" width="20.61" height="6.50" fill="#aa6660"/>
<rect x="329.70" y="505.91" width="20.61" height="6.50" fill="#aa6660"/>
<line x1="357.55" y1="240.80" x2="357.55" y2="513.10" stroke="#e8212b" stroke-width="1.25" stroke-dasharray="5.3 4.6"/>
<line x1="296.95" y1="240.00" x2="296.95" y2="513.70" stroke="#111" stroke-width="1.3"/>
<line x1="296.35" y1="513.10" x2="363.40" y2="513.10" stroke="#111" stroke-width="1.2"/>
<line x1="295.15" y1="244.35" x2="296.95" y2="244.35" stroke="#111" stroke-width="0.6"/>
<line x1="295.15" y1="251.92" x2="296.95" y2="251.92" stroke="#111" stroke-width="0.6"/>
<line x1="295.15" y1="259.48" x2="296.95" y2="259.48" stroke="#111" stroke-width="0.6"/>
<line x1="295.15" y1="267.05" x2="296.95" y2="267.05" stroke="#111" stroke-width="0.6"/>
<line x1="295.15" y1="274.61" x2="296.95" y2="274.61" stroke="#111" stroke-width="0.6"/>
<line x1="295.15" y1="282.18" x2="296.95" y2="282.18" stroke="#111" stroke-width="0.6"/>
<line x1="295.15" y1="289.75" x2="296.95" y2="289.75" stroke="#111" stroke-width="0.6"/>
<line x1="295.15" y1="297.31" x2="296.95" y2="297.31" stroke="#111" stroke-width="0.6"/>
<line x1="295.15" y1="304.88" x2="296.95" y2="304.88" stroke="#111" stroke-width="0.6"/>
<line x1="295.15" y1="312.44" x2="296.95" y2="312.44" stroke="#111" stroke-width="0.6"/>
<line x1="295.15" y1="320.01" x2="296.95" y2="320.01" stroke="#111" stroke-width="0.6"/>
<line x1="295.15" y1="327.58" x2="296.95" y2="327.58" stroke="#111" stroke-width="0.6"/>
<line x1="295.15" y1="335.14" x2="296.95" y2="335.14" stroke="#111" stroke-width="0.6"/>
<line x1="295.15" y1="342.71" x2="296.95" y2="342.71" stroke="#111" stroke-width="0.6"/>
<line x1="295.15" y1="350.27" x2="296.95" y2="350.27" stroke="#111" stroke-width="0.6"/>
<line x1="295.15" y1="357.84" x2="296.95" y2="357.84" stroke="#111" stroke-width="0.6"/>
<line x1="295.15" y1="365.41" x2="296.95" y2="365.41" stroke="#111" stroke-width="0.6"/>
<line x1="295.15" y1="372.97" x2="296.95" y2="372.97" stroke="#111" stroke-width="0.6"/>
<line x1="295.15" y1="380.54" x2="296.95" y2="380.54" stroke="#111" stroke-width="0.6"/>
<line x1="295.15" y1="388.10" x2="296.95" y2="388.10" stroke="#111" stroke-width="0.6"/>
<line x1="295.15" y1="395.67" x2="296.95" y2="395.67" stroke="#111" stroke-width="0.6"/>
<line x1="295.15" y1="403.24" x2="296.95" y2="403.24" stroke="#111" stroke-width="0.6"/>
<line x1="295.15" y1="410.80" x2="296.95" y2="410.80" stroke="#111" stroke-width="0.6"/>
<line x1="295.15" y1="418.37" x2="296.95" y2="418.37" stroke="#111" stroke-width="0.6"/>
<line x1="295.15" y1="425.93" x2="296.95" y2="425.93" stroke="#111" stroke-width="0.6"/>
<line x1="295.15" y1="433.50" x2="296.95" y2="433.50" stroke="#111" stroke-width="0.6"/>
<line x1="295.15" y1="441.07" x2="296.95" y2="441.07" stroke="#111" stroke-width="0.6"/>
<line x1="295.15" y1="448.63" x2="296.95" y2="448.63" stroke="#111" stroke-width="0.6"/>
<line x1="295.15" y1="456.20" x2="296.95" y2="456.20" stroke="#111" stroke-width="0.6"/>
<line x1="295.15" y1="463.76" x2="296.95" y2="463.76" stroke="#111" stroke-width="0.6"/>
<line x1="295.15" y1="471.33" x2="296.95" y2="471.33" stroke="#111" stroke-width="0.6"/>
<line x1="295.15" y1="478.90" x2="296.95" y2="478.90" stroke="#111" stroke-width="0.6"/>
<line x1="295.15" y1="486.46" x2="296.95" y2="486.46" stroke="#111" stroke-width="0.6"/>
<line x1="295.15" y1="494.03" x2="296.95" y2="494.03" stroke="#111" stroke-width="0.6"/>
<line x1="295.15" y1="501.59" x2="296.95" y2="501.59" stroke="#111" stroke-width="0.6"/>
<line x1="295.15" y1="509.16" x2="296.95" y2="509.16" stroke="#111" stroke-width="0.6"/>
<line x1="301.85" y1="513.10" x2="301.85" y2="514.70" stroke="#111" stroke-width="0.6"/>
<text x="301.85" y="521.00" font-size="7.4" text-anchor="middle" fill="#444">−1</text>
<line x1="315.77" y1="513.10" x2="315.77" y2="514.70" stroke="#111" stroke-width="0.6"/>
<text x="315.77" y="521.00" font-size="7.4" text-anchor="middle" fill="#444">−0.5</text>
<line x1="329.70" y1="513.10" x2="329.70" y2="514.70" stroke="#111" stroke-width="0.6"/>
<text x="329.70" y="521.00" font-size="7.4" text-anchor="middle" fill="#444">0</text>
<line x1="343.62" y1="513.10" x2="343.62" y2="514.70" stroke="#111" stroke-width="0.6"/>
<text x="343.62" y="521.00" font-size="7.4" text-anchor="middle" fill="#444">0.5</text>
<line x1="357.55" y1="513.10" x2="357.55" y2="514.70" stroke="#111" stroke-width="0.6"/>
<text x="357.55" y="521.00" font-size="7.4" text-anchor="middle" fill="#444">1</text>
<text x="332.97" y="529.00" font-size="7.6" text-anchor="middle" fill="#222">ASWR</text>
<text x="403.10" y="235.60" font-size="7" text-anchor="middle" fill="#111">HVG (Scanpy)</text>
<rect x="403.83" y="241.10" width="3.37" height="6.50" fill="#e9745b"/>
<rect x="407.20" y="248.67" width="15.83" height="6.50" fill="#e9745b"/>
<rect x="407.20" y="256.23" width="22.58" height="6.50" fill="#e9745b"/>
<rect x="407.20" y="263.80" width="24.13" height="6.50" fill="#e9745b"/>
<rect x="407.20" y="271.36" width="26.73" height="6.50" fill="#e9745b"/>
<rect x="407.20" y="278.93" width="7.01" height="6.50" fill="#e9745b"/>
<rect x="397.86" y="286.50" width="9.34" height="6.50" fill="#e9745b"/>
<rect x="407.20" y="294.06" width="18.68" height="6.50" fill="#e9745b"/>
<rect x="407.20" y="301.63" width="18.68" height="6.50" fill="#e9745b"/>
<rect x="407.20" y="309.19" width="11.68" height="6.50" fill="#e9745b"/>
<rect x="407.20" y="316.76" width="8.82" height="6.50" fill="#e9745b"/>
<rect x="407.20" y="324.33" width="15.83" height="6.50" fill="#e9745b"/>
<rect x="407.20" y="331.89" width="18.68" height="6.50" fill="#e9745b"/>
<rect x="407.20" y="339.46" width="14.79" height="6.50" fill="#e9745b"/>
<rect x="407.20" y="347.02" width="17.91" height="6.50" fill="#e9745b"/>
<rect x="407.20" y="354.59" width="16.35" height="6.50" fill="#e9745b"/>
<rect x="407.20" y="362.16" width="17.91" height="6.50" fill="#e9745b"/>
<rect x="407.20" y="369.72" width="11.94" height="6.50" fill="#e9745b"/>
<rect x="407.20" y="377.29" width="11.68" height="6.50" fill="#e9745b"/>
<rect x="407.20" y="384.85" width="13.23" height="6.50" fill="#e9745b"/>
<rect x="407.20" y="392.42" width="17.13" height="6.50" fill="#e9745b"/>
<rect x="375.02" y="399.99" width="32.18" height="6.50" fill="#e9745b"/>
<rect x="395.52" y="407.55" width="11.68" height="6.50" fill="#e9745b"/>
<rect x="404.60" y="415.12" width="2.60" height="6.50" fill="#e9745b"/>
<rect x="407.20" y="422.68" width="10.12" height="6.50" fill="#e9745b"/>
<rect x="407.20" y="430.25" width="3.11" height="6.50" fill="#e9745b"/>
<rect x="407.20" y="437.82" width="14.79" height="6.50" fill="#e9745b"/>
<rect x="407.20" y="445.38" width="26.73" height="6.50" fill="#e9745b"/>
<rect x="407.20" y="452.95" width="7.01" height="6.50" fill="#e9745b"/>
<rect x="407.20" y="460.51" width="4.15" height="6.50" fill="#e9745b"/>
<rect x="407.20" y="468.08" width="1.82" height="6.50" fill="#e9745b"/>
<rect x="407.20" y="475.65" width="2.60" height="6.50" fill="#e9745b"/>
<rect x="407.20" y="483.21" width="8.82" height="6.50" fill="#e9745b"/>
<rect x="407.20" y="490.78" width="8.82" height="6.50" fill="#e9745b"/>
<rect x="407.20" y="498.34" width="13.49" height="6.50" fill="#e9745b"/>
<rect x="407.20" y="505.91" width="11.68" height="6.50" fill="#e9745b"/>
<line x1="433.15" y1="240.80" x2="433.15" y2="513.10" stroke="#e8212b" stroke-width="1.25" stroke-dasharray="5.3 4.6"/>
<line x1="370.70" y1="240.00" x2="370.70" y2="513.70" stroke="#111" stroke-width="1.3"/>
<line x1="370.10" y1="513.10" x2="437.40" y2="513.10" stroke="#111" stroke-width="1.2"/>
<line x1="368.90" y1="244.35" x2="370.70" y2="244.35" stroke="#111" stroke-width="0.6"/>
<line x1="368.90" y1="251.92" x2="370.70" y2="251.92" stroke="#111" stroke-width="0.6"/>
<line x1="368.90" y1="259.48" x2="370.70" y2="259.48" stroke="#111" stroke-width="0.6"/>
<line x1="368.90" y1="267.05" x2="370.70" y2="267.05" stroke="#111" stroke-width="0.6"/>
<line x1="368.90" y1="274.61" x2="370.70" y2="274.61" stroke="#111" stroke-width="0.6"/>
<line x1="368.90" y1="282.18" x2="370.70" y2="282.18" stroke="#111" stroke-width="0.6"/>
<line x1="368.90" y1="289.75" x2="370.70" y2="289.75" stroke="#111" stroke-width="0.6"/>
<line x1="368.90" y1="297.31" x2="370.70" y2="297.31" stroke="#111" stroke-width="0.6"/>
<line x1="368.90" y1="304.88" x2="370.70" y2="304.88" stroke="#111" stroke-width="0.6"/>
<line x1="368.90" y1="312.44" x2="370.70" y2="312.44" stroke="#111" stroke-width="0.6"/>
<line x1="368.90" y1="320.01" x2="370.70" y2="320.01" stroke="#111" stroke-width="0.6"/>
<line x1="368.90" y1="327.58" x2="370.70" y2="327.58" stroke="#111" stroke-width="0.6"/>
<line x1="368.90" y1="335.14" x2="370.70" y2="335.14" stroke="#111" stroke-width="0.6"/>
<line x1="368.90" y1="342.71" x2="370.70" y2="342.71" stroke="#111" stroke-width="0.6"/>
<line x1="368.90" y1="350.27" x2="370.70" y2="350.27" stroke="#111" stroke-width="0.6"/>
<line x1="368.90" y1="357.84" x2="370.70" y2="357.84" stroke="#111" stroke-width="0.6"/>
<line x1="368.90" y1="365.41" x2="370.70" y2="365.41" stroke="#111" stroke-width="0.6"/>
<line x1="368.90" y1="372.97" x2="370.70" y2="372.97" stroke="#111" stroke-width="0.6"/>
<line x1="368.90" y1="380.54" x2="370.70" y2="380.54" stroke="#111" stroke-width="0.6"/>
<line x1="368.90" y1="388.10" x2="370.70" y2="388.10" stroke="#111" stroke-width="0.6"/>
<line x1="368.90" y1="395.67" x2="370.70" y2="395.67" stroke="#111" stroke-width="0.6"/>
<line x1="368.90" y1="403.24" x2="370.70" y2="403.24" stroke="#111" stroke-width="0.6"/>
<line x1="368.90" y1="410.80" x2="370.70" y2="410.80" stroke="#111" stroke-width="0.6"/>
<line x1="368.90" y1="418.37" x2="370.70" y2="418.37" stroke="#111" stroke-width="0.6"/>
<line x1="368.90" y1="425.93" x2="370.70" y2="425.93" stroke="#111" stroke-width="0.6"/>
<line x1="368.90" y1="433.50" x2="370.70" y2="433.50" stroke="#111" stroke-width="0.6"/>
<line x1="368.90" y1="441.07" x2="370.70" y2="441.07" stroke="#111" stroke-width="0.6"/>
<line x1="368.90" y1="448.63" x2="370.70" y2="448.63" stroke="#111" stroke-width="0.6"/>
<line x1="368.90" y1="456.20" x2="370.70" y2="456.20" stroke="#111" stroke-width="0.6"/>
<line x1="368.90" y1="463.76" x2="370.70" y2="463.76" stroke="#111" stroke-width="0.6"/>
<line x1="368.90" y1="471.33" x2="370.70" y2="471.33" stroke="#111" stroke-width="0.6"/>
<line x1="368.90" y1="478.90" x2="370.70" y2="478.90" stroke="#111" stroke-width="0.6"/>
<line x1="368.90" y1="486.46" x2="370.70" y2="486.46" stroke="#111" stroke-width="0.6"/>
<line x1="368.90" y1="494.03" x2="370.70" y2="494.03" stroke="#111" stroke-width="0.6"/>
<line x1="368.90" y1="501.59" x2="370.70" y2="501.59" stroke="#111" stroke-width="0.6"/>
<line x1="368.90" y1="509.16" x2="370.70" y2="509.16" stroke="#111" stroke-width="0.6"/>
<line x1="381.25" y1="513.10" x2="381.25" y2="514.70" stroke="#111" stroke-width="0.6"/>
<text x="381.25" y="521.00" font-size="7.4" text-anchor="middle" fill="#444">−1</text>
<line x1="394.22" y1="513.10" x2="394.22" y2="514.70" stroke="#111" stroke-width="0.6"/>
<text x="394.22" y="521.00" font-size="7.4" text-anchor="middle" fill="#444">−0.5</text>
<line x1="407.20" y1="513.10" x2="407.20" y2="514.70" stroke="#111" stroke-width="0.6"/>
<text x="407.20" y="521.00" font-size="7.4" text-anchor="middle" fill="#444">0</text>
<line x1="420.18" y1="513.10" x2="420.18" y2="514.70" stroke="#111" stroke-width="0.6"/>
<text x="420.18" y="521.00" font-size="7.4" text-anchor="middle" fill="#444">0.5</text>
<line x1="433.15" y1="513.10" x2="433.15" y2="514.70" stroke="#111" stroke-width="0.6"/>
<text x="433.15" y="521.00" font-size="7.4" text-anchor="middle" fill="#444">1</text>
<text x="406.85" y="529.00" font-size="7.6" text-anchor="middle" fill="#222">ASWR</text>
<text x="477.10" y="235.60" font-size="7" text-anchor="middle" fill="#111">HRG</text>
<rect x="471.10" y="339.46" width="13.93" height="6.50" fill="#ea835f"/>
<rect x="471.10" y="347.02" width="16.99" height="6.50" fill="#ea835f"/>
<rect x="471.10" y="354.59" width="16.99" height="6.50" fill="#ea835f"/>
<rect x="471.10" y="362.16" width="10.86" height="6.50" fill="#ea835f"/>
<rect x="471.10" y="369.72" width="10.86" height="6.50" fill="#ea835f"/>
<rect x="471.10" y="377.29" width="20.05" height="6.50" fill="#ea835f"/>
<rect x="471.10" y="384.85" width="15.04" height="6.50" fill="#ea835f"/>
<rect x="471.10" y="392.42" width="13.93" height="6.50" fill="#ea835f"/>
<rect x="471.10" y="399.99" width="25.07" height="6.50" fill="#ea835f"/>
<rect x="471.10" y="407.55" width="6.13" height="6.50" fill="#ea835f"/>
<rect x="471.10" y="415.12" width="4.73" height="6.50" fill="#ea835f"/>
<rect x="471.10" y="422.68" width="15.87" height="6.50" fill="#ea835f"/>
<rect x="471.10" y="430.25" width="7.24" height="6.50" fill="#ea835f"/>
<rect x="471.10" y="437.82" width="13.09" height="6.50" fill="#ea835f"/>
<rect x="471.10" y="445.38" width="10.86" height="6.50" fill="#ea835f"/>
<rect x="462.47" y="452.95" width="8.63" height="6.50" fill="#ea835f"/>
<rect x="448.26" y="460.51" width="22.84" height="6.50" fill="#ea835f"/>
<rect x="468.31" y="468.08" width="2.79" height="6.50" fill="#ea835f"/>
<rect x="471.10" y="475.65" width="20.61" height="6.50" fill="#ea835f"/>
<rect x="471.10" y="483.21" width="27.01" height="6.50" fill="#ea835f"/>
<rect x="471.10" y="490.78" width="36.48" height="6.50" fill="#ea835f"/>
<rect x="471.10" y="498.34" width="17.82" height="6.50" fill="#ea835f"/>
<rect x="471.10" y="505.91" width="11.98" height="6.50" fill="#ea835f"/>
<line x1="498.95" y1="240.80" x2="498.95" y2="513.10" stroke="#e8212b" stroke-width="1.25" stroke-dasharray="5.3 4.6"/>
<line x1="444.40" y1="240.00" x2="444.40" y2="513.70" stroke="#111" stroke-width="1.3"/>
<line x1="443.80" y1="513.10" x2="510.90" y2="513.10" stroke="#111" stroke-width="1.2"/>
<line x1="442.60" y1="244.35" x2="444.40" y2="244.35" stroke="#111" stroke-width="0.6"/>
<line x1="442.60" y1="251.92" x2="444.40" y2="251.92" stroke="#111" stroke-width="0.6"/>
<line x1="442.60" y1="259.48" x2="444.40" y2="259.48" stroke="#111" stroke-width="0.6"/>
<line x1="442.60" y1="267.05" x2="444.40" y2="267.05" stroke="#111" stroke-width="0.6"/>
<line x1="442.60" y1="274.61" x2="444.40" y2="274.61" stroke="#111" stroke-width="0.6"/>
<line x1="442.60" y1="282.18" x2="444.40" y2="282.18" stroke="#111" stroke-width="0.6"/>
<line x1="442.60" y1="289.75" x2="444.40" y2="289.75" stroke="#111" stroke-width="0.6"/>
<line x1="442.60" y1="297.31" x2="444.40" y2="297.31" stroke="#111" stroke-width="0.6"/>
<line x1="442.60" y1="304.88" x2="444.40" y2="304.88" stroke="#111" stroke-width="0.6"/>
<line x1="442.60" y1="312.44" x2="444.40" y2="312.44" stroke="#111" stroke-width="0.6"/>
<line x1="442.60" y1="320.01" x2="444.40" y2="320.01" stroke="#111" stroke-width="0.6"/>
<line x1="442.60" y1="327.58" x2="444.40" y2="327.58" stroke="#111" stroke-width="0.6"/>
<line x1="442.60" y1="335.14" x2="444.40" y2="335.14" stroke="#111" stroke-width="0.6"/>
<line x1="442.60" y1="342.71" x2="444.40" y2="342.71" stroke="#111" stroke-width="0.6"/>
<line x1="442.60" y1="350.27" x2="444.40" y2="350.27" stroke="#111" stroke-width="0.6"/>
<line x1="442.60" y1="357.84" x2="444.40" y2="357.84" stroke="#111" stroke-width="0.6"/>
<line x1="442.60" y1="365.41" x2="444.40" y2="365.41" stroke="#111" stroke-width="0.6"/>
<line x1="442.60" y1="372.97" x2="444.40" y2="372.97" stroke="#111" stroke-width="0.6"/>
<line x1="442.60" y1="380.54" x2="444.40" y2="380.54" stroke="#111" stroke-width="0.6"/>
<line x1="442.60" y1="388.10" x2="444.40" y2="388.10" stroke="#111" stroke-width="0.6"/>
<line x1="442.60" y1="395.67" x2="444.40" y2="395.67" stroke="#111" stroke-width="0.6"/>
<line x1="442.60" y1="403.24" x2="444.40" y2="403.24" stroke="#111" stroke-width="0.6"/>
<line x1="442.60" y1="410.80" x2="444.40" y2="410.80" stroke="#111" stroke-width="0.6"/>
<line x1="442.60" y1="418.37" x2="444.40" y2="418.37" stroke="#111" stroke-width="0.6"/>
<line x1="442.60" y1="425.93" x2="444.40" y2="425.93" stroke="#111" stroke-width="0.6"/>
<line x1="442.60" y1="433.50" x2="444.40" y2="433.50" stroke="#111" stroke-width="0.6"/>
<line x1="442.60" y1="441.07" x2="444.40" y2="441.07" stroke="#111" stroke-width="0.6"/>
<line x1="442.60" y1="448.63" x2="444.40" y2="448.63" stroke="#111" stroke-width="0.6"/>
<line x1="442.60" y1="456.20" x2="444.40" y2="456.20" stroke="#111" stroke-width="0.6"/>
<line x1="442.60" y1="463.76" x2="444.40" y2="463.76" stroke="#111" stroke-width="0.6"/>
<line x1="442.60" y1="471.33" x2="444.40" y2="471.33" stroke="#111" stroke-width="0.6"/>
<line x1="442.60" y1="478.90" x2="444.40" y2="478.90" stroke="#111" stroke-width="0.6"/>
<line x1="442.60" y1="486.46" x2="444.40" y2="486.46" stroke="#111" stroke-width="0.6"/>
<line x1="442.60" y1="494.03" x2="444.40" y2="494.03" stroke="#111" stroke-width="0.6"/>
<line x1="442.60" y1="501.59" x2="444.40" y2="501.59" stroke="#111" stroke-width="0.6"/>
<line x1="442.60" y1="509.16" x2="444.40" y2="509.16" stroke="#111" stroke-width="0.6"/>
<line x1="457.18" y1="513.10" x2="457.18" y2="514.70" stroke="#111" stroke-width="0.6"/>
<text x="457.18" y="521.00" font-size="7.4" text-anchor="middle" fill="#444">−0.5</text>
<line x1="471.10" y1="513.10" x2="471.10" y2="514.70" stroke="#111" stroke-width="0.6"/>
<text x="471.10" y="521.00" font-size="7.4" text-anchor="middle" fill="#444">0</text>
<line x1="485.03" y1="513.10" x2="485.03" y2="514.70" stroke="#111" stroke-width="0.6"/>
<text x="485.03" y="521.00" font-size="7.4" text-anchor="middle" fill="#444">0.5</text>
<line x1="498.95" y1="513.10" x2="498.95" y2="514.70" stroke="#111" stroke-width="0.6"/>
<text x="498.95" y="521.00" font-size="7.4" text-anchor="middle" fill="#444">1</text>
<text x="480.45" y="529.00" font-size="7.6" text-anchor="middle" fill="#222">ASWR</text>
<text x="549.50" y="235.60" font-size="7" text-anchor="middle" fill="#111">Disp(Suerat)</text>
<rect x="562.20" y="241.10" width="9.11" height="6.50" fill="#f6a26c"/>
<rect x="562.20" y="248.67" width="11.87" height="6.50" fill="#f6a26c"/>
<rect x="562.20" y="256.23" width="13.11" height="6.50" fill="#f6a26c"/>
<rect x="562.20" y="263.80" width="11.04" height="6.50" fill="#f6a26c"/>
<rect x="562.20" y="271.36" width="19.04" height="6.50" fill="#f6a26c"/>
<rect x="562.20" y="278.93" width="10.35" height="6.50" fill="#f6a26c"/>
<rect x="562.20" y="286.50" width="13.80" height="6.50" fill="#f6a26c"/>
<rect x="562.20" y="294.06" width="13.80" height="6.50" fill="#f6a26c"/>
<rect x="562.20" y="301.63" width="11.45" height="6.50" fill="#f6a26c"/>
<rect x="562.20" y="309.19" width="11.45" height="6.50" fill="#f6a26c"/>
<rect x="562.20" y="316.76" width="13.52" height="6.50" fill="#f6a26c"/>
<rect x="562.20" y="324.33" width="9.52" height="6.50" fill="#f6a26c"/>
<rect x="562.20" y="331.89" width="11.04" height="6.50" fill="#f6a26c"/>
<rect x="562.20" y="339.46" width="13.80" height="6.50" fill="#f6a26c"/>
<rect x="562.20" y="347.02" width="14.63" height="6.50" fill="#f6a26c"/>
<rect x="562.20" y="354.59" width="14.63" height="6.50" fill="#f6a26c"/>
<rect x="562.20" y="362.16" width="12.28" height="6.50" fill="#f6a26c"/>
<rect x="562.20" y="369.72" width="10.35" height="6.50" fill="#f6a26c"/>
<rect x="562.20" y="377.29" width="13.11" height="6.50" fill="#f6a26c"/>
<rect x="562.20" y="384.85" width="9.52" height="6.50" fill="#f6a26c"/>
<rect x="562.20" y="392.42" width="7.87" height="6.50" fill="#f6a26c"/>
<rect x="562.20" y="399.99" width="19.87" height="6.50" fill="#f6a26c"/>
<rect x="537.64" y="407.55" width="24.56" height="6.50" fill="#f6a26c"/>
<rect x="562.20" y="415.12" width="0.69" height="6.50" fill="#f6a26c"/>
<rect x="562.20" y="422.68" width="11.04" height="6.50" fill="#f6a26c"/>
<rect x="562.20" y="430.25" width="6.35" height="6.50" fill="#f6a26c"/>
<rect x="562.20" y="437.82" width="9.11" height="6.50" fill="#f6a26c"/>
<rect x="562.20" y="445.38" width="12.70" height="6.50" fill="#f6a26c"/>
<rect x="520.94" y="452.95" width="41.26" height="6.50" fill="#f6a26c"/>
<rect x="562.20" y="460.51" width="2.35" height="6.50" fill="#f6a26c"/>
<rect x="562.20" y="468.08" width="1.10" height="6.50" fill="#f6a26c"/>
<rect x="562.20" y="475.65" width="3.17" height="6.50" fill="#f6a26c"/>
<rect x="562.20" y="483.21" width="7.59" height="6.50" fill="#f6a26c"/>
<rect x="562.20" y="490.78" width="6.76" height="6.50" fill="#f6a26c"/>
<rect x="562.20" y="498.34" width="13.80" height="6.50" fill="#f6a26c"/>
<rect x="562.20" y="505.91" width="11.04" height="6.50" fill="#f6a26c"/>
<line x1="576.00" y1="240.80" x2="576.00" y2="513.10" stroke="#e8212b" stroke-width="1.25" stroke-dasharray="5.3 4.6"/>
<line x1="518.35" y1="240.00" x2="518.35" y2="513.70" stroke="#111" stroke-width="1.3"/>
<line x1="517.75" y1="513.10" x2="585.20" y2="513.10" stroke="#111" stroke-width="1.2"/>
<line x1="516.55" y1="244.35" x2="518.35" y2="244.35" stroke="#111" stroke-width="0.6"/>
<line x1="516.55" y1="251.92" x2="518.35" y2="251.92" stroke="#111" stroke-width="0.6"/>
<line x1="516.55" y1="259.48" x2="518.35" y2="259.48" stroke="#111" stroke-width="0.6"/>
<line x1="516.55" y1="267.05" x2="518.35" y2="267.05" stroke="#111" stroke-width="0.6"/>
<line x1="516.55" y1="274.61" x2="518.35" y2="274.61" stroke="#111" stroke-width="0.6"/>
<line x1="516.55" y1="282.18" x2="518.35" y2="282.18" stroke="#111" stroke-width="0.6"/>
<line x1="516.55" y1="289.75" x2="518.35" y2="289.75" stroke="#111" stroke-width="0.6"/>
<line x1="516.55" y1="297.31" x2="518.35" y2="297.31" stroke="#111" stroke-width="0.6"/>
<line x1="516.55" y1="304.88" x2="518.35" y2="304.88" stroke="#111" stroke-width="0.6"/>
<line x1="516.55" y1="312.44" x2="518.35" y2="312.44" stroke="#111" stroke-width="0.6"/>
<line x1="516.55" y1="320.01" x2="518.35" y2="320.01" stroke="#111" stroke-width="0.6"/>
<line x1="516.55" y1="327.58" x2="518.35" y2="327.58" stroke="#111" stroke-width="0.6"/>
<line x1="516.55" y1="335.14" x2="518.35" y2="335.14" stroke="#111" stroke-width="0.6"/>
<line x1="516.55" y1="342.71" x2="518.35" y2="342.71" stroke="#111" stroke-width="0.6"/>
<line x1="516.55" y1="350.27" x2="518.35" y2="350.27" stroke="#111" stroke-width="0.6"/>
<line x1="516.55" y1="357.84" x2="518.35" y2="357.84" stroke="#111" stroke-width="0.6"/>
<line x1="516.55" y1="365.41" x2="518.35" y2="365.41" stroke="#111" stroke-width="0.6"/>
<line x1="516.55" y1="372.97" x2="518.35" y2="372.97" stroke="#111" stroke-width="0.6"/>
<line x1="516.55" y1="380.54" x2="518.35" y2="380.54" stroke="#111" stroke-width="0.6"/>
<line x1="516.55" y1="388.10" x2="518.35" y2="388.10" stroke="#111" stroke-width="0.6"/>
<line x1="516.55" y1="395.67" x2="518.35" y2="395.67" stroke="#111" stroke-width="0.6"/>
<line x1="516.55" y1="403.24" x2="518.35" y2="403.24" stroke="#111" stroke-width="0.6"/>
<line x1="516.55" y1="410.80" x2="518.35" y2="410.80" stroke="#111" stroke-width="0.6"/>
<line x1="516.55" y1="418.37" x2="518.35" y2="418.37" stroke="#111" stroke-width="0.6"/>
<line x1="516.55" y1="425.93" x2="518.35" y2="425.93" stroke="#111" stroke-width="0.6"/>
<line x1="516.55" y1="433.50" x2="518.35" y2="433.50" stroke="#111" stroke-width="0.6"/>
<line x1="516.55" y1="441.07" x2="518.35" y2="441.07" stroke="#111" stroke-width="0.6"/>
<line x1="516.55" y1="448.63" x2="518.35" y2="448.63" stroke="#111" stroke-width="0.6"/>
<line x1="516.55" y1="456.20" x2="518.35" y2="456.20" stroke="#111" stroke-width="0.6"/>
<line x1="516.55" y1="463.76" x2="518.35" y2="463.76" stroke="#111" stroke-width="0.6"/>
<line x1="516.55" y1="471.33" x2="518.35" y2="471.33" stroke="#111" stroke-width="0.6"/>
<line x1="516.55" y1="478.90" x2="518.35" y2="478.90" stroke="#111" stroke-width="0.6"/>
<line x1="516.55" y1="486.46" x2="518.35" y2="486.46" stroke="#111" stroke-width="0.6"/>
<line x1="516.55" y1="494.03" x2="518.35" y2="494.03" stroke="#111" stroke-width="0.6"/>
<line x1="516.55" y1="501.59" x2="518.35" y2="501.59" stroke="#111" stroke-width="0.6"/>
<line x1="516.55" y1="509.16" x2="518.35" y2="509.16" stroke="#111" stroke-width="0.6"/>
<line x1="520.80" y1="513.10" x2="520.80" y2="514.70" stroke="#111" stroke-width="0.6"/>
<text x="520.80" y="521.00" font-size="7.4" text-anchor="middle" fill="#444">−3</text>
<line x1="534.60" y1="513.10" x2="534.60" y2="514.70" stroke="#111" stroke-width="0.6"/>
<text x="534.60" y="521.00" font-size="7.4" text-anchor="middle" fill="#444">−2</text>
<line x1="548.40" y1="513.10" x2="548.40" y2="514.70" stroke="#111" stroke-width="0.6"/>
<text x="548.40" y="521.00" font-size="7.4" text-anchor="middle" fill="#444">−1</text>
<line x1="562.20" y1="513.10" x2="562.20" y2="514.70" stroke="#111" stroke-width="0.6"/>
<text x="562.20" y="521.00" font-size="7.4" text-anchor="middle" fill="#444">0</text>
<line x1="576.00" y1="513.10" x2="576.00" y2="514.70" stroke="#111" stroke-width="0.6"/>
<text x="576.00" y="521.00" font-size="7.4" text-anchor="middle" fill="#444">1</text>
<text x="554.58" y="529.00" font-size="7.6" text-anchor="middle" fill="#222">ASWR</text>
<text x="622.70" y="235.60" font-size="7" text-anchor="middle" fill="#111">VST (Seurat)</text>
<rect x="611.00" y="241.10" width="17.98" height="6.50" fill="#fbb478"/>
<rect x="611.00" y="248.67" width="17.16" height="6.50" fill="#fbb478"/>
<rect x="611.00" y="256.23" width="26.39" height="6.50" fill="#fbb478"/>
<rect x="611.00" y="263.80" width="24.05" height="6.50" fill="#fbb478"/>
<rect x="611.00" y="271.36" width="28.25" height="6.50" fill="#fbb478"/>
<rect x="611.00" y="278.93" width="23.12" height="6.50" fill="#fbb478"/>
<rect x="611.00" y="286.50" width="29.42" height="6.50" fill="#fbb478"/>
<rect x="611.00" y="294.06" width="23.35" height="6.50" fill="#fbb478"/>
<rect x="611.00" y="301.63" width="21.95" height="6.50" fill="#fbb478"/>
<rect x="611.00" y="309.19" width="18.68" height="6.50" fill="#fbb478"/>
<rect x="611.00" y="316.76" width="21.25" height="6.50" fill="#fbb478"/>
<rect x="611.00" y="324.33" width="19.61" height="6.50" fill="#fbb478"/>
<rect x="611.00" y="331.89" width="21.95" height="6.50" fill="#fbb478"/>
<rect x="611.00" y="339.46" width="19.15" height="6.50" fill="#fbb478"/>
<rect x="611.00" y="347.02" width="17.98" height="6.50" fill="#fbb478"/>
<rect x="611.00" y="354.59" width="15.88" height="6.50" fill="#fbb478"/>
<rect x="611.00" y="362.16" width="15.88" height="6.50" fill="#fbb478"/>
<rect x="611.00" y="369.72" width="16.34" height="6.50" fill="#fbb478"/>
<rect x="611.00" y="377.29" width="24.75" height="6.50" fill="#fbb478"/>
<rect x="611.00" y="384.85" width="24.75" height="6.50" fill="#fbb478"/>
<rect x="611.00" y="392.42" width="14.01" height="6.50" fill="#fbb478"/>
<rect x="611.00" y="399.99" width="45.53" height="6.50" fill="#fbb478"/>
<rect x="595.12" y="407.55" width="15.88" height="6.50" fill="#fbb478"/>
<rect x="611.00" y="415.12" width="3.27" height="6.50" fill="#fbb478"/>
<rect x="611.00" y="422.68" width="22.65" height="6.50" fill="#fbb478"/>
<rect x="611.00" y="430.25" width="16.34" height="6.50" fill="#fbb478"/>
<rect x="611.00" y="437.82" width="12.38" height="6.50" fill="#fbb478"/>
<rect x="611.00" y="445.38" width="28.02" height="6.50" fill="#fbb478"/>
<rect x="611.00" y="452.95" width="4.67" height="6.50" fill="#fbb478"/>
<rect x="611.00" y="460.51" width="20.78" height="6.50" fill="#fbb478"/>
<rect x="611.00" y="468.08" width="1.63" height="6.50" fill="#fbb478"/>
<rect x="611.00" y="475.65" width="10.04" height="6.50" fill="#fbb478"/>
<rect x="611.00" y="483.21" width="15.64" height="6.50" fill="#fbb478"/>
<rect x="611.00" y="490.78" width="11.91" height="6.50" fill="#fbb478"/>
<rect x="611.00" y="498.34" width="17.98" height="6.50" fill="#fbb478"/>
<rect x="611.00" y="505.91" width="14.71" height="6.50" fill="#fbb478"/>
<line x1="634.35" y1="240.80" x2="634.35" y2="513.10" stroke="#e8212b" stroke-width="1.25" stroke-dasharray="5.3 4.6"/>
<line x1="592.30" y1="240.00" x2="592.30" y2="513.70" stroke="#111" stroke-width="1.3"/>
<line x1="591.70" y1="513.10" x2="658.40" y2="513.10" stroke="#111" stroke-width="1.2"/>
<line x1="590.50" y1="244.35" x2="592.30" y2="244.35" stroke="#111" stroke-width="0.6"/>
<line x1="590.50" y1="251.92" x2="592.30" y2="251.92" stroke="#111" stroke-width="0.6"/>
<line x1="590.50" y1="259.48" x2="592.30" y2="259.48" stroke="#111" stroke-width="0.6"/>
<line x1="590.50" y1="267.05" x2="592.30" y2="267.05" stroke="#111" stroke-width="0.6"/>
<line x1="590.50" y1="274.61" x2="592.30" y2="274.61" stroke="#111" stroke-width="0.6"/>
<line x1="590.50" y1="282.18" x2="592.30" y2="282.18" stroke="#111" stroke-width="0.6"/>
<line x1="590.50" y1="289.75" x2="592.30" y2="289.75" stroke="#111" stroke-width="0.6"/>
<line x1="590.50" y1="297.31" x2="592.30" y2="297.31" stroke="#111" stroke-width="0.6"/>
<line x1="590.50" y1="304.88" x2="592.30" y2="304.88" stroke="#111" stroke-width="0.6"/>
<line x1="590.50" y1="312.44" x2="592.30" y2="312.44" stroke="#111" stroke-width="0.6"/>
<line x1="590.50" y1="320.01" x2="592.30" y2="320.01" stroke="#111" stroke-width="0.6"/>
<line x1="590.50" y1="327.58" x2="592.30" y2="327.58" stroke="#111" stroke-width="0.6"/>
<line x1="590.50" y1="335.14" x2="592.30" y2="335.14" stroke="#111" stroke-width="0.6"/>
<line x1="590.50" y1="342.71" x2="592.30" y2="342.71" stroke="#111" stroke-width="0.6"/>
<line x1="590.50" y1="350.27" x2="592.30" y2="350.27" stroke="#111" stroke-width="0.6"/>
<line x1="590.50" y1="357.84" x2="592.30" y2="357.84" stroke="#111" stroke-width="0.6"/>
<line x1="590.50" y1="365.41" x2="592.30" y2="365.41" stroke="#111" stroke-width="0.6"/>
<line x1="590.50" y1="372.97" x2="592.30" y2="372.97" stroke="#111" stroke-width="0.6"/>
<line x1="590.50" y1="380.54" x2="592.30" y2="380.54" stroke="#111" stroke-width="0.6"/>
<line x1="590.50" y1="388.10" x2="592.30" y2="388.10" stroke="#111" stroke-width="0.6"/>
<line x1="590.50" y1="395.67" x2="592.30" y2="395.67" stroke="#111" stroke-width="0.6"/>
<line x1="590.50" y1="403.24" x2="592.30" y2="403.24" stroke="#111" stroke-width="0.6"/>
<line x1="590.50" y1="410.80" x2="592.30" y2="410.80" stroke="#111" stroke-width="0.6"/>
<line x1="590.50" y1="418.37" x2="592.30" y2="418.37" stroke="#111" stroke-width="0.6"/>
<line x1="590.50" y1="425.93" x2="592.30" y2="425.93" stroke="#111" stroke-width="0.6"/>
<line x1="590.50" y1="433.50" x2="592.30" y2="433.50" stroke="#111" stroke-width="0.6"/>
<line x1="590.50" y1="441.07" x2="592.30" y2="441.07" stroke="#111" stroke-width="0.6"/>
<line x1="590.50" y1="448.63" x2="592.30" y2="448.63" stroke="#111" stroke-width="0.6"/>
<line x1="590.50" y1="456.20" x2="592.30" y2="456.20" stroke="#111" stroke-width="0.6"/>
<line x1="590.50" y1="463.76" x2="592.30" y2="463.76" stroke="#111" stroke-width="0.6"/>
<line x1="590.50" y1="471.33" x2="592.30" y2="471.33" stroke="#111" stroke-width="0.6"/>
<line x1="590.50" y1="478.90" x2="592.30" y2="478.90" stroke="#111" stroke-width="0.6"/>
<line x1="590.50" y1="486.46" x2="592.30" y2="486.46" stroke="#111" stroke-width="0.6"/>
<line x1="590.50" y1="494.03" x2="592.30" y2="494.03" stroke="#111" stroke-width="0.6"/>
<line x1="590.50" y1="501.59" x2="592.30" y2="501.59" stroke="#111" stroke-width="0.6"/>
<line x1="590.50" y1="509.16" x2="592.30" y2="509.16" stroke="#111" stroke-width="0.6"/>
<line x1="611.00" y1="513.10" x2="611.00" y2="514.70" stroke="#111" stroke-width="0.6"/>
<text x="611.00" y="521.00" font-size="7.4" text-anchor="middle" fill="#444">0</text>
<line x1="634.35" y1="513.10" x2="634.35" y2="514.70" stroke="#111" stroke-width="0.6"/>
<text x="634.35" y="521.00" font-size="7.4" text-anchor="middle" fill="#444">1</text>
<line x1="656.53" y1="513.10" x2="656.53" y2="514.70" stroke="#111" stroke-width="0.6"/>
<text x="656.53" y="521.00" font-size="7.4" text-anchor="middle" fill="#444">2</text>
<text x="628.15" y="529.00" font-size="7.6" text-anchor="middle" fill="#222">ASWR</text>
<line x1="658.20" y1="240.00" x2="658.20" y2="513.70" stroke="#111" stroke-width="1.1"/>
<line x1="656.60" y1="244.35" x2="658.20" y2="244.35" stroke="#111" stroke-width="0.6"/>
<line x1="656.60" y1="251.92" x2="658.20" y2="251.92" stroke="#111" stroke-width="0.6"/>
<line x1="656.60" y1="259.48" x2="658.20" y2="259.48" stroke="#111" stroke-width="0.6"/>
<line x1="656.60" y1="267.05" x2="658.20" y2="267.05" stroke="#111" stroke-width="0.6"/>
<line x1="656.60" y1="274.61" x2="658.20" y2="274.61" stroke="#111" stroke-width="0.6"/>
<line x1="656.60" y1="282.18" x2="658.20" y2="282.18" stroke="#111" stroke-width="0.6"/>
<line x1="656.60" y1="289.75" x2="658.20" y2="289.75" stroke="#111" stroke-width="0.6"/>
<line x1="656.60" y1="297.31" x2="658.20" y2="297.31" stroke="#111" stroke-width="0.6"/>
<line x1="656.60" y1="304.88" x2="658.20" y2="304.88" stroke="#111" stroke-width="0.6"/>
<line x1="656.60" y1="312.44" x2="658.20" y2="312.44" stroke="#111" stroke-width="0.6"/>
<line x1="656.60" y1="320.01" x2="658.20" y2="320.01" stroke="#111" stroke-width="0.6"/>
<line x1="656.60" y1="327.58" x2="658.20" y2="327.58" stroke="#111" stroke-width="0.6"/>
<line x1="656.60" y1="335.14" x2="658.20" y2="335.14" stroke="#111" stroke-width="0.6"/>
<line x1="656.60" y1="342.71" x2="658.20" y2="342.71" stroke="#111" stroke-width="0.6"/>
<line x1="656.60" y1="350.27" x2="658.20" y2="350.27" stroke="#111" stroke-width="0.6"/>
<line x1="656.60" y1="357.84" x2="658.20" y2="357.84" stroke="#111" stroke-width="0.6"/>
<line x1="656.60" y1="365.41" x2="658.20" y2="365.41" stroke="#111" stroke-width="0.6"/>
<line x1="656.60" y1="372.97" x2="658.20" y2="372.97" stroke="#111" stroke-width="0.6"/>
<line x1="656.60" y1="380.54" x2="658.20" y2="380.54" stroke="#111" stroke-width="0.6"/>
<line x1="656.60" y1="388.10" x2="658.20" y2="388.10" stroke="#111" stroke-width="0.6"/>
<line x1="656.60" y1="395.67" x2="658.20" y2="395.67" stroke="#111" stroke-width="0.6"/>
<line x1="656.60" y1="403.24" x2="658.20" y2="403.24" stroke="#111" stroke-width="0.6"/>
<line x1="656.60" y1="410.80" x2="658.20" y2="410.80" stroke="#111" stroke-width="0.6"/>
<line x1="656.60" y1="418.37" x2="658.20" y2="418.37" stroke="#111" stroke-width="0.6"/>
<line x1="656.60" y1="425.93" x2="658.20" y2="425.93" stroke="#111" stroke-width="0.6"/>
<line x1="656.60" y1="433.50" x2="658.20" y2="433.50" stroke="#111" stroke-width="0.6"/>
<line x1="656.60" y1="441.07" x2="658.20" y2="441.07" stroke="#111" stroke-width="0.6"/>
<line x1="656.60" y1="448.63" x2="658.20" y2="448.63" stroke="#111" stroke-width="0.6"/>
<line x1="656.60" y1="456.20" x2="658.20" y2="456.20" stroke="#111" stroke-width="0.6"/>
<line x1="656.60" y1="463.76" x2="658.20" y2="463.76" stroke="#111" stroke-width="0.6"/>
<line x1="656.60" y1="471.33" x2="658.20" y2="471.33" stroke="#111" stroke-width="0.6"/>
<line x1="656.60" y1="478.90" x2="658.20" y2="478.90" stroke="#111" stroke-width="0.6"/>
<line x1="656.60" y1="486.46" x2="658.20" y2="486.46" stroke="#111" stroke-width="0.6"/>
<line x1="656.60" y1="494.03" x2="658.20" y2="494.03" stroke="#111" stroke-width="0.6"/>
<line x1="656.60" y1="501.59" x2="658.20" y2="501.59" stroke="#111" stroke-width="0.6"/>
<line x1="656.60" y1="509.16" x2="658.20" y2="509.16" stroke="#111" stroke-width="0.6"/>
<text x="663.40" y="236.00" font-size="5.8" text-anchor="start" fill="#333" font-weight="bold">#Cells</text>
<text x="661.30" y="246.85" font-size="7.0" text-anchor="start" fill="#444">265767</text>
<text x="661.30" y="254.42" font-size="7.0" text-anchor="start" fill="#444">159738</text>
<text x="661.30" y="261.98" font-size="7.0" text-anchor="start" fill="#444">158978</text>
<text x="661.30" y="269.55" font-size="7.0" text-anchor="start" fill="#444">155232</text>
<text x="661.30" y="277.11" font-size="7.0" text-anchor="start" fill="#444">147523</text>
<text x="661.30" y="284.68" font-size="7.0" text-anchor="start" fill="#444">130908</text>
<text x="661.30" y="292.25" font-size="7.0" text-anchor="start" fill="#444">129905</text>
<text x="661.30" y="299.81" font-size="7.0" text-anchor="start" fill="#444">93695</text>
<text x="661.30" y="307.38" font-size="7.0" text-anchor="start" fill="#444">77536</text>
<text x="661.30" y="314.94" font-size="7.0" text-anchor="start" fill="#444">76732</text>
<text x="661.30" y="322.51" font-size="7.0" text-anchor="start" fill="#444">72788</text>
<text x="661.30" y="330.08" font-size="7.0" text-anchor="start" fill="#444">67996</text>
<text x="661.30" y="337.64" font-size="7.0" text-anchor="start" fill="#444">59738</text>
<text x="661.30" y="345.21" font-size="7.0" text-anchor="start" fill="#444">47416</text>
<text x="661.30" y="352.77" font-size="7.0" text-anchor="start" fill="#444">28724</text>
<text x="661.30" y="360.34" font-size="7.0" text-anchor="start" fill="#444">27111</text>
<text x="661.30" y="367.91" font-size="7.0" text-anchor="start" fill="#444">23349</text>
<text x="661.30" y="375.47" font-size="7.0" text-anchor="start" fill="#444">8569</text>
<text x="661.30" y="383.04" font-size="7.0" text-anchor="start" fill="#444">6877</text>
<text x="661.30" y="390.60" font-size="7.0" text-anchor="start" fill="#444">5902</text>
<text x="661.30" y="398.17" font-size="7.0" text-anchor="start" fill="#444">4713</text>
<text x="661.30" y="405.74" font-size="7.0" text-anchor="start" fill="#444">4038</text>
<text x="661.30" y="413.30" font-size="7.0" text-anchor="start" fill="#444">3384</text>
<text x="661.30" y="420.87" font-size="7.0" text-anchor="start" fill="#444">3042</text>
<text x="661.30" y="428.43" font-size="7.0" text-anchor="start" fill="#444">3005</text>
<text x="661.30" y="436.00" font-size="7.0" text-anchor="start" fill="#444">2717</text>
<text x="661.30" y="443.57" font-size="7.0" text-anchor="start" fill="#444">2642</text>
<text x="661.30" y="451.13" font-size="7.0" text-anchor="start" fill="#444">2126</text>
<text x="661.30" y="458.70" font-size="7.0" text-anchor="start" fill="#444">1887</text>
<text x="661.30" y="466.26" font-size="7.0" text-anchor="start" fill="#444">1600</text>
<text x="661.30" y="473.83" font-size="7.0" text-anchor="start" fill="#444">622</text>
<text x="661.30" y="481.40" font-size="7.0" text-anchor="start" fill="#444">466</text>
<text x="661.30" y="488.96" font-size="7.0" text-anchor="start" fill="#444">457</text>
<text x="661.30" y="496.53" font-size="7.0" text-anchor="start" fill="#444">249</text>
<text x="661.30" y="504.09" font-size="7.0" text-anchor="start" fill="#444">124</text>
<text x="661.30" y="511.66" font-size="7.0" text-anchor="start" fill="#444">90</text>
<text x="3.50" y="552.50" font-size="12.5" text-anchor="start" fill="#1a1a1a">e</text>
<line x1="53.30" y1="550.20" x2="53.30" y2="745.00" stroke="#2c5cb8" stroke-width="1.3" stroke-dasharray="4.7 4.6"/>
<path d="M42.9 552.0 L43.2 575.0 L43.8 593.0 L44.8 603.0 L46.2 609.0 L48.5 612.8 L52.0 614.6 L58.0 615.3 L68.0 615.6 L75.0 615.7" stroke="#ebe648" stroke-width="3.0" stroke-linecap="round" stroke-linejoin="round" fill="none"/>
<path d="M76.5 615.6h0M78.3 615.7h0M95.0 615.6h0M100.8 615.6h0" stroke="#ebe648" stroke-width="2.4" stroke-linecap="round" fill="none"/>
<path d="M43.5 623.8 L46.0 629.0 L49.5 635.5 L53.3 642.0 L56.0 649.0 L58.8 654.5 L62.0 658.5 L66.0 661.5 L70.5 664.0 L75.0 666.0 L80.0 668.0 L84.0 669.2" stroke="#5fbe3a" stroke-width="2.7" stroke-linecap="round" stroke-linejoin="round" fill="none"/>
<path d="M86.0 669.8h0M88.3 670.2h0M90.3 670.6h0M92.3 670.7h0M107.7 671.2h0" stroke="#5fbe3a" stroke-width="2.3" stroke-linecap="round" fill="none"/>
<path d="M43.3 680.0 L44.5 688.0 L46.5 697.0 L49.5 708.5 L53.3 722.0 L56.0 728.5 L59.0 733.0 L63.0 736.5 L68.0 739.0 L74.0 740.6 L80.5 741.6" stroke="#ea2228" stroke-width="3.0" stroke-linecap="round" stroke-linejoin="round" fill="none"/>
<path d="M83.3 741.9h0" stroke="#ea2228" stroke-width="2.3" stroke-linecap="round" fill="none"/>
<path d="M87.8 742.2 L93.2 742.6" stroke="#ea2228" stroke-width="2.4" stroke-linecap="round" stroke-linejoin="round" fill="none"/>
<line x1="39.70" y1="548.50" x2="39.70" y2="746.10" stroke="#000" stroke-width="1.05"/>
<line x1="39.20" y1="745.50" x2="111.00" y2="745.50" stroke="#000" stroke-width="1.2"/>
<line x1="42.40" y1="745.50" x2="42.40" y2="747.60" stroke="#000" stroke-width="0.8"/>
<text x="42.40" y="759.00" font-size="8.6" text-anchor="middle" fill="#4d4d4d">0</text>
<line x1="52.93" y1="745.50" x2="52.93" y2="747.60" stroke="#000" stroke-width="0.8"/>
<text x="52.93" y="759.00" font-size="8.6" text-anchor="middle" fill="#4d4d4d">1</text>
<line x1="63.46" y1="745.50" x2="63.46" y2="747.60" stroke="#000" stroke-width="0.8"/>
<text x="63.46" y="759.00" font-size="8.6" text-anchor="middle" fill="#4d4d4d">2</text>
<line x1="73.99" y1="745.50" x2="73.99" y2="747.60" stroke="#000" stroke-width="0.8"/>
<text x="73.99" y="759.00" font-size="8.6" text-anchor="middle" fill="#4d4d4d">3</text>
<line x1="84.52" y1="745.50" x2="84.52" y2="747.60" stroke="#000" stroke-width="0.8"/>
<text x="84.52" y="759.00" font-size="8.6" text-anchor="middle" fill="#4d4d4d">4</text>
<line x1="95.05" y1="745.50" x2="95.05" y2="747.60" stroke="#000" stroke-width="0.8"/>
<text x="95.05" y="759.00" font-size="8.6" text-anchor="middle" fill="#4d4d4d">5</text>
<line x1="105.58" y1="745.50" x2="105.58" y2="747.60" stroke="#000" stroke-width="0.8"/>
<text x="105.58" y="759.00" font-size="8.6" text-anchor="middle" fill="#4d4d4d">6</text>
<text x="74.30" y="770.50" font-size="8" text-anchor="middle" fill="#333">Variance Ratio</text>
<line x1="76.60" y1="601.70" x2="65.20" y2="611.50" stroke="#111" stroke-width="1.2"/>
<line x1="80.50" y1="643.60" x2="71.20" y2="658.20" stroke="#111" stroke-width="1.2"/>
<line x1="81.50" y1="725.60" x2="68.10" y2="735.70" stroke="#111" stroke-width="1.2"/>
<text x="83.20" y="598.60" font-size="8.6" text-anchor="middle" fill="#555">3%</text>
<text x="85.80" y="640.60" font-size="8.6" text-anchor="middle" fill="#555">63%</text>
<text x="85.40" y="722.40" font-size="8.6" text-anchor="middle" fill="#555">30%</text>
<text x="22.60" y="578.30" font-size="8.3" text-anchor="middle" fill="#1a1a1a" transform="rotate(-90 22.60 578.30)">Seurat</text>
<text x="32.60" y="578.30" font-size="8.3" text-anchor="middle" fill="#1a1a1a" transform="rotate(-90 32.60 578.30)">#Gene= 1875</text>
<text x="22.60" y="648.00" font-size="8.3" text-anchor="middle" fill="#1a1a1a" transform="rotate(-90 22.60 648.00)">Intersection</text>
<text x="32.60" y="648.00" font-size="8.3" text-anchor="middle" fill="#1a1a1a" transform="rotate(-90 32.60 648.00)">#Gene = 125</text>
<text x="22.60" y="714.60" font-size="8.3" text-anchor="middle" fill="#1a1a1a" transform="rotate(-90 22.60 714.60)">CellScope</text>
<text x="32.60" y="714.60" font-size="8.3" text-anchor="middle" fill="#1a1a1a" transform="rotate(-90 32.60 714.60)">#Gene = 375</text>
<text x="130.00" y="554.00" font-size="12.5" text-anchor="start" fill="#1a1a1a">f</text>
<path d="M179.4 583.7h0M180.7 585.4h0M185.6 581.6h0M184.0 593.7h0M191.3 579.0h0M196.0 580.9h0M181.2 589.0h0M191.5 581.2h0M188.0 582.2h0M179.9 586.7h0M181.4 585.1h0M180.6 590.3h0M189.2 596.3h0M181.7 592.1h0M188.7 583.9h0M185.0 582.9h0M185.1 595.7h0M189.2 580.8h0M185.0 596.5h0M182.3 587.8h0M188.1 585.5h0M183.5 593.0h0M193.0 582.7h0M186.5 581.0h0M187.9 580.8h0M183.4 590.7h0M186.9 586.5h0M181.5 596.6h0M184.8 584.0h0M186.3 592.6h0M187.3 584.9h0M185.0 583.9h0M189.2 580.8h0M180.9 590.0h0M182.8 596.0h0M183.9 595.3h0M184.8 593.8h0M187.7 577.6h0M191.3 580.7h0M181.5 589.0h0M192.8 581.1h0M182.0 594.2h0M182.0 589.5h0M183.4 591.8h0M184.0 585.6h0M187.1 581.9h0M191.8 583.2h0M191.8 582.9h0M183.6 589.1h0M186.5 594.4h0M181.3 590.1h0M195.5 581.8h0M182.5 590.7h0M179.2 589.7h0M186.1 583.1h0M182.3 583.5h0M181.5 588.6h0M182.7 597.2h0M185.4 593.5h0M184.2 591.1h0M180.4 590.7h0M184.4 589.9h0M187.8 594.3h0M184.0 581.8h0M183.6 584.3h0M184.8 592.4h0M183.3 588.5h0M179.9 583.6h0M188.0 582.2h0M182.4 591.3h0M183.2 593.3h0M182.7 597.1h0M184.9 583.1h0M185.6 593.9h0M182.0 589.0h0M184.7 583.2h0M183.6 590.6h0M187.1 582.2h0M185.3 583.1h0M181.6 589.2h0M184.9 596.3h0M192.0 581.0h0M180.8 590.3h0M183.6 593.0h0M186.4 585.7h0M187.2 582.3h0M179.7 590.0h0M183.5 585.6h0M182.7 592.3h0M190.3 581.9h0M182.9 592.4h0M184.2 581.4h0M182.2 587.1h0M183.3 592.4h0M184.5 594.4h0M180.4 582.4h0M181.1 582.4h0M184.6 592.3h0M182.7 592.4h0M181.1 591.3h0M191.5 578.9h0M182.4 595.3h0M188.3 581.2h0M186.5 584.5h0M182.8 585.4h0M192.0 580.7h0M183.5 594.5h0M183.3 593.6h0M182.2 583.3h0M184.0 589.8h0M186.0 596.3h0M182.0 589.6h0M178.6 588.9h0M181.8 589.2h0M184.1 593.3h0M185.3 593.7h0M183.1 590.0h0M182.5 586.1h0M183.5 595.7h0M180.8 592.3h0M184.1 591.5h0M187.6 583.4h0M185.4 582.5h0M184.9 581.3h0M182.5 586.8h0M183.0 588.5h0M183.8 592.7h0M186.5 580.4h0M184.2 583.1h0M183.9 593.0h0M187.3 584.1h0M182.0 586.2h0M183.3 587.9h0M180.7 587.6h0M180.5 591.8h0M186.8 578.7h0M183.5 596.3h0M185.7 601.4h0M184.7 595.6h0M182.3 592.2h0M180.2 595.3h0M187.3 583.1h0M192.8 583.9h0M185.1 594.9h0M182.9 584.3h0M182.3 591.1h0M192.1 582.1h0M181.9 586.2h0M189.1 585.0h0M186.4 595.9h0M192.9 580.8h0M181.6 594.0h0M180.6 587.6h0M191.1 578.0h0M185.4 582.6h0M184.2 585.4h0M186.5 586.9h0M181.8 589.7h0M180.1 590.5h0M186.0 586.0h0M189.0 580.6h0M183.3 590.9h0M186.0 592.9h0M182.7 590.5h0M183.8 592.0h0M184.7 585.7h0M181.1 588.5h0M184.1 594.1h0M179.9 588.9h0M186.7 584.1h0M182.5 585.9h0M189.7 579.4h0M186.1 582.5h0M187.3 582.4h0M188.5 580.8h0M185.1 586.0h0M183.7 593.8h0M188.2 579.7h0M192.3 580.9h0M184.1 587.4h0M186.2 590.3h0M181.2 584.2h0M184.0 586.3h0M181.9 590.4h0M187.1 582.8h0M193.1 583.9h0M186.5 582.4h0M195.5 581.1h0M192.3 580.4h0M184.3 585.5h0M185.4 585.7h0M186.3 585.1h0M184.1 590.2h0M183.3 585.8h0M184.1 588.2h0M180.6 590.4h0M179.7 589.6h0M187.1 586.9h0M182.4 592.4h0M184.5 592.3h0M184.3 586.4h0M180.4 586.4h0M183.0 593.2h0M188.6 594.2h0M192.8 581.9h0M182.9 584.1h0M183.3 587.5h0M179.6 589.5h0M183.2 584.1h0M184.9 580.1h0M193.0 583.7h0M182.3 587.8h0M183.4 587.9h0M181.5 579.4h0M182.5 582.3h0M182.9 595.9h0M190.7 581.0h0M188.6 580.7h0M181.1 593.4h0M191.2 584.0h0M189.6 584.2h0M181.9 591.6h0M184.5 582.0h0M189.1 579.3h0M188.1 593.7h0M183.8 583.4h0M182.1 585.5h0M184.0 596.5h0M183.4 585.1h0M185.0 586.3h0M179.5 592.1h0M183.8 590.4h0M183.7 594.9h0M180.6 586.0h0M183.4 593.3h0M187.9 580.5h0M193.0 582.9h0M186.2 596.1h0M189.0 579.1h0M187.3 584.9h0M182.9 585.0h0M187.7 582.8h0M180.2 585.4h0M183.8 590.0h0M181.2 590.6h0M184.6 590.0h0M183.7 594.1h0M182.8 589.2h0M185.4 586.9h0M184.9 597.0h0M186.4 582.5h0M186.7 596.5h0M187.9 579.1h0M190.1 582.5h0M182.8 587.9h0M190.4 582.7h0M186.5 579.6h0M187.8 583.2h0M188.5 580.2h0M183.4 585.5h0M189.4 579.6h0M180.8 582.1h0M183.1 586.4h0M185.5 593.9h0M181.3 586.7h0M185.0 595.1h0M190.5 581.6h0M182.2 590.6h0M189.6 583.0h0M187.9 580.6h0M183.4 589.3h0M184.4 589.5h0M187.7 601.7h0M188.9 599.5h0M187.6 602.6h0M189.8 603.1h0M185.6 602.1h0M185.2 600.4h0M186.8 604.2h0M185.4 603.0h0M190.1 603.2h0M188.4 604.2h0M185.5 601.4h0M188.3 600.8h0M187.1 603.2h0M187.4 602.5h0M187.2 599.9h0M187.0 600.2h0M186.9 602.3h0M189.7 601.4h0M186.1 599.7h0M187.4 602.0h0M187.9 604.1h0M185.5 602.3h0M188.0 601.8h0M188.4 604.2h0M187.1 603.9h0M185.9 601.4h0M186.8 603.1h0M186.7 600.3h0M188.2 603.1h0M186.5 603.8h0M185.0 600.7h0M186.4 603.8h0M190.0 603.2h0M188.6 602.4h0M187.0 599.6h0M186.6 602.5h0M185.4 600.4h0M187.8 602.6h0M188.5 602.5h0M189.4 602.6h0M185.1 602.9h0M186.4 600.2h0M188.8 599.6h0M186.8 603.3h0M189.6 601.9h0M187.1 600.1h0M188.4 599.1h0M185.8 600.4h0M187.5 602.1h0M186.7 600.5h0M187.0 602.4h0M188.2 599.9h0M185.6 600.2h0M187.8 600.7h0M185.0 601.0h0M185.9 601.8h0M187.4 600.8h0M184.7 601.5h0M189.0 599.8h0M189.0 601.4h0M188.5 603.8h0M187.7 602.6h0M186.9 599.8h0M189.3 601.1h0" stroke="#1eaadc" stroke-width="1.35" stroke-linecap="round" fill="none"/>
<path d="M206.9 577.5h0M217.0 575.6h0M216.4 574.0h0M206.2 573.9h0M212.0 582.6h0M221.8 575.9h0M205.7 571.6h0M214.6 572.7h0M217.0 573.3h0M208.1 574.2h0M216.1 583.5h0M218.8 579.2h0M214.3 579.4h0M221.6 573.0h0M209.9 582.7h0M212.0 569.3h0M207.6 573.3h0M221.1 577.0h0M207.9 577.1h0M209.2 578.9h0M215.9 582.0h0M212.1 582.4h0M209.1 581.8h0M220.0 577.9h0M217.4 581.8h0M205.0 571.2h0M207.1 579.4h0M209.9 570.0h0M212.7 568.8h0M219.3 576.1h0M218.0 570.0h0M207.0 578.5h0M218.5 572.7h0M205.9 575.3h0M217.8 573.1h0M217.9 578.0h0M219.2 572.0h0M206.0 572.1h0M209.9 583.2h0M219.2 579.0h0M208.5 577.6h0M207.3 579.9h0M211.3 572.9h0M213.1 582.4h0M208.3 579.3h0M217.3 578.2h0M221.6 574.5h0M217.8 571.1h0M214.8 571.0h0M212.5 571.7h0M218.5 572.6h0M213.8 572.5h0M208.3 575.3h0M222.1 576.3h0M211.1 580.7h0M217.9 578.2h0M216.3 568.8h0M208.9 580.6h0M219.6 578.1h0M215.8 574.2h0M207.1 576.3h0M221.9 575.1h0M214.4 581.9h0M217.5 574.0h0M215.7 584.0h0M207.3 582.5h0M215.7 581.5h0M221.6 576.0h0M209.3 573.0h0M216.2 573.3h0M215.8 578.5h0M209.5 583.0h0M218.9 570.3h0M217.9 581.7h0M219.9 573.6h0M218.2 579.0h0M210.9 580.5h0M215.3 583.0h0M213.1 580.5h0M214.6 569.6h0M209.5 571.7h0M205.0 571.9h0M211.1 580.6h0M208.0 569.0h0M209.2 572.5h0M216.8 575.9h0M206.4 575.3h0M219.3 578.0h0M211.1 582.7h0M214.4 571.8h0M211.7 580.0h0M212.9 583.7h0M207.5 574.8h0M216.5 573.7h0M222.1 578.1h0M212.7 570.4h0M218.1 573.9h0M215.5 581.7h0M208.3 571.3h0M209.5 571.8h0M204.3 575.5h0M216.4 571.3h0M204.9 575.4h0M217.0 583.8h0M216.9 582.8h0M213.3 582.9h0M213.6 570.6h0M214.8 568.9h0M207.6 576.6h0M208.3 574.1h0M219.2 577.6h0M211.0 569.9h0M217.6 571.7h0M215.4 579.8h0M208.9 576.3h0M206.8 578.3h0M214.2 571.7h0M216.1 574.2h0M205.8 574.5h0M213.3 583.9h0M210.9 580.1h0M211.1 579.5h0M205.3 575.2h0M208.2 573.7h0M214.5 572.8h0M212.5 580.5h0M211.0 572.4h0M214.6 568.6h0M209.2 578.2h0M213.9 581.4h0M221.9 578.5h0M213.1 570.3h0M218.6 583.1h0M212.4 570.5h0M212.9 579.8h0M218.4 582.6h0M210.8 581.5h0M218.2 578.9h0M216.5 576.2h0M211.8 568.8h0M212.5 580.8h0M213.0 582.6h0M218.5 573.9h0M209.6 580.8h0M205.3 570.7h0M209.4 578.3h0M219.7 578.7h0M210.7 571.4h0M205.2 571.9h0M203.9 578.2h0M216.0 571.7h0M213.8 571.0h0M209.8 579.9h0M208.1 574.9h0M214.0 580.3h0M207.8 577.2h0M207.4 577.9h0M208.5 568.4h0M215.1 583.9h0M218.0 578.6h0M207.5 581.6h0M217.9 576.8h0M212.3 580.6h0M218.0 573.7h0M211.7 583.4h0M216.0 580.6h0M206.7 582.8h0M211.3 568.9h0M221.7 577.3h0M208.4 579.6h0M215.7 573.7h0M213.4 571.2h0M219.1 578.3h0M213.1 581.7h0M214.9 579.1h0M219.8 577.6h0M207.7 578.6h0M217.2 581.0h0M212.1 583.4h0M208.6 570.0h0M213.9 580.2h0M211.4 571.6h0M208.0 579.9h0M214.0 584.2h0M209.6 580.3h0M217.5 577.4h0M210.0 573.7h0M215.2 570.3h0M209.8 584.5h0M219.4 572.9h0M210.8 572.1h0M220.0 574.3h0M213.5 584.3h0M219.0 579.9h0M207.8 579.8h0M209.6 578.7h0M207.0 576.4h0M215.6 580.3h0M206.6 577.1h0M210.3 572.6h0M216.9 578.8h0M207.6 578.7h0M208.7 574.2h0M205.2 573.9h0M220.5 577.3h0M208.7 580.4h0M209.3 578.3h0M208.6 576.4h0M205.6 577.5h0M212.5 581.3h0M210.5 579.1h0M204.3 573.0h0M210.1 572.1h0M207.9 577.1h0M219.7 574.4h0M207.4 573.8h0M213.9 567.9h0M207.2 571.6h0M207.3 579.1h0M215.2 572.0h0M206.0 581.7h0M221.6 578.2h0M208.2 576.1h0M209.1 580.1h0M218.3 583.2h0M213.3 580.6h0M213.4 583.2h0M209.1 575.4h0M213.1 581.7h0M208.7 571.4h0M207.7 571.8h0M216.1 570.7h0M207.9 583.7h0M217.0 572.9h0M211.5 571.4h0M209.6 569.7h0M216.9 568.6h0M209.3 573.4h0M206.5 573.9h0M211.3 581.5h0M204.6 574.7h0M212.7 580.9h0M215.1 580.8h0M217.4 580.6h0M216.3 577.8h0M211.4 572.5h0M208.5 577.4h0M204.4 577.2h0M215.8 573.1h0M221.1 578.9h0M207.4 576.0h0M206.0 581.1h0M212.6 583.5h0M208.9 582.6h0M213.0 571.1h0M216.8 569.3h0M206.4 579.3h0M207.0 571.3h0M215.4 568.8h0M209.5 579.1h0M213.6 583.2h0M217.4 576.6h0M219.4 573.9h0M219.0 582.7h0M205.8 579.7h0M206.7 580.3h0M221.9 575.7h0M211.7 572.8h0M216.9 577.3h0M212.0 571.4h0M219.7 582.2h0M218.2 577.1h0M205.7 576.9h0M210.5 581.2h0M217.1 569.7h0M208.5 579.3h0M213.4 569.6h0M205.3 581.8h0M205.1 574.2h0M217.8 582.4h0M216.3 578.9h0M212.6 584.7h0M217.5 580.4h0M218.2 576.9h0M217.0 581.3h0M211.5 582.9h0M207.6 576.8h0M212.3 581.6h0M216.3 577.7h0M209.3 583.9h0M214.4 579.7h0M219.2 576.2h0M215.9 573.0h0M207.0 579.3h0M205.9 580.9h0M208.8 575.1h0M207.2 571.4h0M217.6 574.5h0M221.5 576.0h0M215.8 571.3h0M216.3 582.7h0M214.5 579.3h0M216.6 578.1h0M212.8 571.0h0M207.1 575.8h0M213.6 579.5h0M222.1 576.9h0M215.2 570.5h0M211.9 568.7h0M214.6 571.1h0M213.6 568.5h0M220.4 581.4h0M204.9 581.2h0M212.6 583.4h0M221.7 577.5h0M213.7 582.6h0M208.5 580.2h0M215.5 569.9h0M208.8 572.2h0M211.6 581.4h0M208.7 583.7h0M210.5 579.6h0M214.6 583.4h0M204.8 574.2h0M216.1 582.6h0M215.3 579.3h0M207.4 578.5h0M208.9 576.2h0M210.0 581.2h0M219.3 574.4h0M216.2 573.2h0M212.8 571.2h0M217.0 576.0h0M218.8 574.9h0M208.5 578.7h0M216.1 582.7h0M210.3 572.0h0M208.5 583.9h0M209.7 579.6h0M218.4 583.2h0M207.2 581.0h0M214.4 582.9h0M218.3 571.9h0M206.5 570.5h0M206.5 573.8h0M214.9 572.9h0M205.1 578.3h0M205.9 579.6h0M213.4 581.6h0M206.1 573.4h0M219.3 577.5h0M205.6 578.5h0M206.6 572.6h0M218.0 583.1h0M219.1 576.0h0M209.5 583.0h0M220.8 575.8h0M216.8 572.2h0M217.1 576.0h0M213.3 582.2h0M207.5 569.9h0M217.1 568.9h0M204.2 575.7h0M221.5 579.7h0M210.5 568.4h0M214.5 571.9h0M206.4 575.0h0M215.6 583.8h0M209.3 572.5h0M208.8 575.0h0M204.2 576.7h0M214.2 571.9h0M213.8 568.4h0M218.5 572.7h0M217.6 582.5h0M217.4 579.4h0M210.4 579.2h0M217.1 569.3h0M214.5 579.9h0M216.2 571.9h0M218.7 572.4h0M216.7 576.0h0M209.3 573.0h0M211.4 568.3h0M210.3 572.4h0M218.9 576.8h0M210.4 581.0h0M211.3 582.9h0M210.2 570.1h0M216.0 579.4h0M205.0 577.7h0M216.0 578.9h0M205.4 570.9h0M214.6 581.2h0M209.2 568.1h0M207.5 581.9h0M208.0 579.0h0M209.5 573.2h0M215.3 571.2h0M206.7 577.7h0M215.0 575.2h0M212.1 574.3h0M211.1 575.3h0M214.0 574.8h0M213.8 574.7h0M209.8 576.7h0M209.8 578.1h0M210.1 574.3h0M214.8 576.8h0M212.2 578.0h0M214.9 575.4h0M212.0 574.4h0M202.9 596.9h0M209.8 586.2h0M205.2 593.0h0M199.7 598.6h0M210.0 585.8h0M205.8 591.7h0M202.0 597.4h0M200.4 601.0h0M204.8 593.3h0M206.8 589.0h0M201.4 600.8h0M206.9 590.3h0M202.8 596.6h0M204.6 593.1h0M208.9 588.1h0M207.1 591.5h0M202.4 597.5h0M202.2 594.8h0M208.5 587.6h0M202.1 598.5h0M211.8 583.0h0M200.7 600.0h0M204.2 593.7h0M201.0 599.0h0M209.0 586.3h0M209.2 585.7h0M201.5 598.7h0M210.4 586.0h0M202.8 594.5h0M209.9 585.7h0M198.2 601.0h0M204.9 593.5h0M206.6 591.6h0M200.8 597.3h0M208.9 587.0h0M208.9 588.1h0M203.4 595.4h0M206.6 592.0h0M210.2 585.8h0M204.2 591.6h0M198.4 600.4h0M199.3 600.4h0M201.9 598.0h0M205.2 592.0h0M205.6 592.0h0M201.6 599.2h0M204.0 594.3h0M209.2 586.5h0M205.4 594.1h0M206.0 592.9h0M200.1 601.1h0M198.4 601.8h0M206.3 591.9h0M203.5 595.5h0M204.8 593.1h0M209.8 586.5h0M199.9 598.9h0M206.0 592.6h0M211.3 585.6h0M206.6 591.5h0M201.2 597.8h0M202.7 598.0h0M205.4 593.5h0M211.8 584.0h0M205.3 594.5h0M205.1 589.7h0M200.9 600.9h0M205.8 591.3h0M205.3 592.4h0M207.2 589.7h0M210.1 585.3h0M204.7 594.2h0M208.3 589.5h0M199.8 601.1h0M204.8 593.4h0M200.0 599.5h0M205.0 592.8h0M198.3 600.5h0M206.5 590.8h0M202.5 598.2h0M208.3 588.2h0M206.1 590.0h0M205.1 590.5h0M206.0 590.2h0M198.3 602.4h0M208.1 589.7h0M204.1 594.7h0M200.0 599.5h0M205.1 591.3h0M199.6 600.8h0M205.3 594.2h0M209.1 587.5h0M210.1 583.8h0M204.1 594.4h0M199.4 599.4h0M209.8 585.4h0M207.5 587.6h0M209.6 585.3h0M201.0 599.4h0M207.9 590.4h0M208.4 588.5h0M207.9 589.1h0M204.5 594.4h0M208.6 589.4h0M207.6 589.7h0M205.2 592.9h0M201.1 598.4h0M204.4 592.9h0M204.2 595.2h0M209.7 589.5h0M206.9 590.2h0M204.7 593.2h0M198.3 600.7h0M207.1 592.4h0M210.7 585.7h0M210.3 585.3h0M205.9 595.9h0M207.6 589.6h0M203.1 596.1h0M205.3 594.2h0M200.7 598.3h0M209.5 585.5h0M204.1 594.3h0M208.4 587.0h0M206.0 593.3h0M205.3 593.9h0M209.1 587.3h0M204.5 595.8h0M201.1 602.7h0M201.0 602.9h0M197.1 603.9h0M196.5 602.0h0M195.3 602.5h0M200.9 605.2h0M200.4 603.4h0M198.2 604.2h0M201.2 603.2h0M198.3 604.0h0M196.3 601.7h0M195.2 603.0h0M198.9 601.7h0M197.8 603.9h0M201.1 603.5h0M194.7 605.2h0M196.4 605.1h0M197.7 603.6h0M195.9 603.2h0M196.2 605.5h0M194.6 604.5h0M199.1 603.0h0M198.6 604.8h0M195.7 604.1h0M195.9 605.9h0M196.6 602.8h0M195.7 603.7h0M199.1 603.0h0M197.9 605.0h0M196.6 605.1h0M196.1 601.9h0M194.3 603.3h0M197.8 603.1h0M198.1 605.2h0M200.2 603.8h0M196.2 605.1h0M201.4 603.7h0M199.3 605.1h0M198.4 601.6h0M198.2 602.4h0M197.1 605.5h0M197.5 601.9h0M198.8 602.2h0M197.2 603.9h0M199.9 604.5h0M200.0 605.9h0M199.0 603.1h0M201.2 602.8h0M199.8 603.2h0M197.3 602.9h0M199.0 606.3h0M197.0 603.0h0M197.1 601.4h0M194.0 604.6h0M199.4 605.0h0M199.6 603.4h0M198.1 604.5h0M199.9 604.4h0M198.6 605.2h0M196.3 603.7h0M195.0 603.1h0M194.3 603.5h0M201.0 605.1h0M199.3 604.5h0M197.8 602.4h0M193.9 603.8h0M196.9 604.8h0M196.9 605.8h0M201.1 603.5h0M195.5 602.8h0M194.1 604.4h0M199.3 603.5h0M201.5 604.3h0M194.9 605.2h0M198.1 604.4h0M197.5 602.8h0M199.5 604.0h0M198.2 602.7h0M196.1 602.4h0M198.8 605.5h0" stroke="#b98f2e" stroke-width="1.35" stroke-linecap="round" fill="none"/>
<path d="M193.6 608.8h0M198.4 613.8h0M203.6 618.4h0M202.0 615.8h0M201.8 617.5h0M201.1 615.8h0M217.6 625.6h0M194.4 611.9h0M200.3 616.3h0M198.0 613.5h0M216.8 627.6h0M209.0 623.9h0M205.6 618.9h0M202.7 617.0h0M198.1 614.1h0M204.7 619.2h0M202.9 617.3h0M199.1 615.0h0M212.9 626.4h0M212.6 626.6h0M203.9 620.0h0M215.8 627.3h0M200.2 614.3h0M201.0 616.9h0M214.5 623.1h0M215.4 625.3h0M210.9 622.0h0M197.5 611.7h0M198.8 613.9h0M204.3 620.9h0M209.3 620.6h0M209.6 622.8h0M197.4 610.6h0M200.6 616.8h0M212.8 624.0h0M196.0 610.9h0M214.8 624.4h0M212.9 625.2h0M207.5 622.2h0M201.6 616.6h0M212.8 626.0h0M211.7 623.5h0M200.1 616.3h0M207.7 620.5h0M202.2 615.2h0M200.8 614.8h0M217.4 626.7h0M198.4 614.7h0M194.8 608.3h0M204.1 618.2h0M197.1 612.6h0M200.7 616.1h0M199.1 616.2h0M207.6 622.6h0M196.3 614.2h0M194.8 611.6h0M210.6 623.8h0M217.1 626.7h0M206.9 620.2h0M197.5 612.4h0M196.0 611.6h0M210.4 622.8h0M211.0 623.2h0M203.3 618.7h0M205.9 618.4h0M195.2 609.8h0M209.4 623.3h0M201.6 617.3h0M201.6 616.5h0M209.0 622.1h0M197.0 611.6h0M194.5 609.0h0M205.7 620.1h0M213.1 625.8h0M200.6 615.7h0M200.3 617.1h0M204.3 620.1h0M215.1 627.8h0M209.4 623.6h0M202.5 618.4h0M207.3 622.3h0M211.1 624.7h0M214.2 626.4h0M217.0 626.2h0M201.6 616.2h0M199.4 613.2h0M208.3 621.7h0M208.9 623.9h0M206.6 620.1h0M211.2 623.5h0M211.8 625.5h0M196.0 615.1h0M197.9 612.7h0M207.6 619.6h0M200.9 616.5h0M211.7 623.1h0M198.5 613.1h0M206.4 620.3h0M211.6 625.7h0M216.7 628.4h0M205.0 620.0h0M209.0 621.1h0M199.9 614.2h0M195.7 611.1h0M206.7 620.0h0M216.1 628.5h0M194.6 611.3h0M210.1 622.3h0M198.6 615.5h0M193.0 609.7h0M195.9 613.4h0M216.5 627.5h0M197.2 611.8h0M211.0 624.8h0M211.4 623.4h0M214.7 627.1h0M209.1 624.7h0M197.3 613.5h0M203.7 617.2h0M208.2 621.5h0M197.8 613.2h0M216.8 628.3h0M203.9 616.4h0M209.7 623.5h0M210.5 625.0h0M214.9 626.8h0M198.3 613.4h0M211.4 623.8h0M205.6 620.1h0M192.8 611.2h0M207.5 621.2h0M196.9 610.8h0M197.0 613.7h0M209.4 624.0h0M198.9 614.8h0M201.3 617.4h0M199.7 614.5h0M207.1 621.7h0M213.0 625.8h0M201.2 614.7h0M207.2 620.8h0M204.1 619.9h0M203.9 619.7h0M206.1 618.3h0M198.9 613.6h0M194.4 607.8h0M200.2 616.6h0M213.2 624.2h0M210.4 624.2h0M208.1 618.7h0M216.2 626.4h0M199.7 613.9h0M204.5 621.3h0M205.6 619.7h0M218.6 628.0h0M201.7 616.9h0M207.2 620.3h0M210.8 623.6h0M195.3 612.7h0M209.5 623.7h0M205.3 621.3h0M208.7 622.1h0M208.9 622.8h0M210.6 626.1h0M207.3 621.3h0M199.6 613.2h0M211.8 624.2h0M213.1 625.2h0M194.5 609.8h0M216.8 628.0h0M214.0 626.4h0M207.9 621.6h0M205.2 621.7h0M198.7 613.7h0M205.3 619.2h0M200.5 614.2h0M195.0 610.4h0M200.4 614.0h0M217.2 626.7h0M201.6 616.1h0M193.8 609.7h0M205.8 620.1h0M217.3 628.4h0M195.0 610.7h0M196.2 612.5h0M211.2 624.0h0M197.4 612.4h0M215.1 626.0h0M204.6 617.8h0M211.3 622.6h0M194.7 609.0h0M197.1 612.1h0M214.6 626.3h0M195.0 608.4h0M216.4 626.8h0M199.7 615.4h0M197.4 612.6h0M196.2 612.0h0M195.7 611.3h0M201.7 617.2h0M208.0 622.4h0M194.4 607.7h0M200.1 616.8h0M195.2 612.2h0M201.1 615.1h0M194.1 609.9h0M211.7 622.7h0M216.5 627.6h0M214.3 625.3h0M217.6 626.0h0M199.6 615.4h0M213.9 625.6h0M218.9 627.0h0M217.7 628.1h0M207.4 621.8h0M194.2 609.2h0M199.9 615.5h0M205.0 616.4h0M198.2 615.4h0M197.8 612.3h0M206.2 620.6h0M194.1 608.3h0M200.5 614.7h0M194.6 609.2h0M204.0 617.4h0M215.8 627.4h0M201.7 618.7h0M203.7 618.2h0M212.8 624.4h0M207.9 621.9h0M203.2 619.0h0M205.6 618.9h0M194.8 609.7h0M204.3 617.5h0M206.5 619.7h0M195.7 610.7h0M198.8 613.8h0M194.3 609.6h0M207.8 620.8h0M195.3 609.9h0M219.5 630.8h0M227.4 627.8h0M229.6 628.9h0M225.0 628.6h0M220.6 632.3h0M224.4 630.8h0M222.3 630.1h0M220.8 631.5h0M226.1 631.0h0M222.5 628.5h0M225.7 626.8h0M222.1 631.9h0M225.8 627.8h0M227.9 628.7h0M222.1 632.9h0M223.0 633.2h0M230.9 630.2h0M228.5 630.8h0M228.4 632.2h0M223.2 631.7h0M224.7 627.7h0M224.5 633.1h0M227.3 628.5h0M227.7 630.0h0M219.6 632.3h0M226.6 631.2h0M224.1 627.2h0M224.1 629.9h0M222.6 631.8h0M229.5 630.3h0M222.9 634.3h0M225.1 629.1h0M226.9 630.4h0M220.5 632.3h0M225.6 626.9h0M227.7 630.4h0M220.7 632.2h0M227.5 628.9h0M223.0 629.7h0M226.3 629.8h0M220.2 629.3h0M223.9 628.7h0M225.7 626.9h0M223.8 630.9h0M222.8 630.7h0M228.1 627.0h0M222.1 630.7h0M227.1 631.9h0M224.5 627.4h0M222.3 632.3h0M223.6 627.8h0M228.3 631.5h0M226.1 631.3h0M219.7 632.0h0M222.4 633.5h0M227.1 632.1h0M219.9 629.6h0M224.1 629.5h0M221.1 629.7h0M220.5 629.6h0M230.2 628.6h0M222.3 629.3h0M222.3 632.5h0M222.4 629.4h0M223.3 632.8h0M225.9 627.0h0M227.0 627.5h0M222.3 629.4h0M224.2 632.5h0M225.3 629.4h0M224.0 634.3h0M228.0 631.4h0M223.3 629.9h0M230.2 631.1h0M224.7 628.7h0M226.7 628.9h0M221.7 631.8h0M224.7 632.3h0M224.9 633.0h0M230.0 629.9h0M225.8 627.5h0M226.7 632.2h0M226.9 630.7h0M220.3 629.7h0M224.3 630.9h0M223.7 633.6h0M224.1 631.1h0M228.3 629.3h0M227.8 628.8h0M219.7 630.3h0M225.4 629.2h0M223.3 630.6h0M226.7 630.8h0M227.6 631.9h0M219.4 630.2h0M230.1 628.3h0M221.3 628.9h0M225.1 628.0h0M228.2 632.4h0M221.7 632.9h0M223.4 628.3h0M220.3 630.4h0M226.6 627.2h0M226.3 631.2h0M225.8 631.1h0M223.7 634.4h0M221.3 632.1h0M224.9 633.4h0M223.2 634.0h0M226.0 627.0h0M224.8 630.6h0M226.1 629.5h0M225.1 631.6h0M220.2 630.0h0M221.3 633.1h0M226.8 632.7h0M225.4 633.0h0M229.2 631.4h0M226.0 631.7h0M220.9 630.3h0M225.3 630.5h0M221.7 633.8h0M225.7 629.0h0M228.3 633.1h0M226.4 627.2h0M227.3 633.5h0M226.3 631.4h0M227.0 629.0h0M219.6 632.5h0M224.0 631.9h0M222.9 629.6h0M225.0 627.4h0M221.4 632.2h0M222.7 633.1h0M222.9 628.8h0M223.4 633.8h0M228.2 632.0h0M224.2 631.3h0M228.5 630.1h0M223.6 631.4h0M227.2 626.9h0M224.7 631.3h0M224.2 632.9h0M223.0 630.3h0M221.6 633.8h0M227.2 631.0h0M225.0 630.1h0M224.1 629.0h0M229.9 631.0h0M224.3 632.3h0M223.8 627.6h0M222.1 631.9h0M221.7 631.8h0M225.4 633.8h0M229.2 627.9h0M229.2 628.8h0M228.5 632.9h0M227.6 633.5h0M229.4 631.8h0M222.2 632.0h0M222.0 628.2h0M226.9 629.1h0M219.5 631.8h0M224.9 631.4h0M222.5 632.2h0M219.8 629.8h0M230.1 630.8h0M224.2 628.9h0M226.0 632.5h0M226.5 630.5h0M221.2 630.8h0M221.4 630.6h0M228.2 630.0h0M223.2 633.7h0M222.5 633.1h0M228.0 630.4h0M224.5 632.7h0M227.0 630.3h0M229.1 629.9h0M222.1 634.0h0M221.0 631.2h0M225.8 630.7h0M219.8 630.7h0M223.2 633.2h0M219.9 631.8h0M227.0 627.2h0M223.3 627.5h0M220.5 632.5h0M220.9 630.3h0M226.2 627.8h0M230.4 630.3h0M220.7 629.5h0M228.4 628.1h0M223.7 631.0h0M228.2 629.0h0M222.7 630.6h0M224.7 629.2h0M224.0 628.2h0M227.1 628.6h0M225.1 630.9h0" stroke="#52ad3f" stroke-width="1.35" stroke-linecap="round" fill="none"/>
<path d="M159.3 613.6h0M157.1 618.2h0M157.3 614.6h0M159.8 616.5h0M154.7 614.9h0M157.0 615.5h0M158.8 616.6h0M160.0 614.3h0M156.5 615.8h0M156.8 614.0h0M157.0 616.4h0M155.7 615.8h0M155.9 614.3h0M160.0 614.2h0M158.8 612.8h0M157.5 617.0h0M156.3 613.8h0M156.2 617.4h0M156.4 618.4h0M157.8 615.7h0M157.3 614.0h0M160.0 616.2h0M157.5 617.0h0M159.5 613.8h0M158.7 616.4h0M160.3 614.9h0M155.1 615.9h0M157.8 612.7h0M157.2 617.7h0M156.4 613.5h0M156.4 614.1h0M158.6 615.2h0M157.7 616.9h0M160.2 614.5h0M159.0 612.9h0M158.6 612.8h0M159.4 616.5h0M158.7 613.1h0M160.0 616.2h0M157.4 614.7h0M159.1 614.1h0M154.8 616.5h0M156.3 613.2h0M155.9 617.4h0M159.6 616.5h0M157.0 612.5h0M155.0 616.1h0M156.2 615.9h0M155.2 614.7h0M158.4 615.5h0M157.5 617.4h0M157.7 616.9h0M156.9 613.5h0M156.3 612.8h0M157.8 615.1h0M157.2 613.0h0M156.1 617.4h0M159.0 616.3h0M159.7 616.3h0M159.5 614.1h0M155.6 613.9h0M160.0 614.7h0M160.1 615.3h0M159.4 615.6h0M156.0 613.6h0M155.4 613.6h0M159.2 615.5h0M177.8 612.1h0M177.6 612.3h0M178.6 611.3h0M177.8 613.0h0M178.2 613.2h0M178.9 612.3h0M179.6 611.7h0M179.0 612.7h0M180.0 612.1h0M178.5 612.7h0M178.4 612.2h0M178.9 611.5h0M179.6 611.7h0M178.3 612.4h0" stroke="#8b7fd0" stroke-width="1.35" stroke-linecap="round" fill="none"/>
<path d="M198.4 576.4h0M198.2 576.1h0M196.6 577.0h0M197.6 577.3h0M198.8 576.5h0M197.5 577.2h0M197.5 575.8h0M196.2 576.6h0M197.2 575.9h0M197.9 576.7h0M198.2 575.8h0M197.6 575.7h0M196.9 576.7h0M196.3 576.6h0" stroke="#ee5f5f" stroke-width="1.35" stroke-linecap="round" fill="none"/>
<path d="M219.0 572.1h0M220.0 573.1h0M219.5 574.2h0M219.0 582.6h0M217.9 583.9h0M218.4 583.1h0M202.5 604.3h0M202.1 603.4h0M197.9 601.6h0M207.1 574.0h0M216.3 570.5h0M187.4 605.2h0" stroke="#c85fc0" stroke-width="1.7" stroke-linecap="round" fill="none"/>
<path d="M220.9 571.8h0M220.4 578.9h0M204.5 578.6h0M203.8 594.4h0M200.6 599.0h0M207.8 568.8h0M220.0 574.7h0M185.2 605.6h0" stroke="#2bb08a" stroke-width="1.6" stroke-linecap="round" fill="none"/>
<path d="M157.2 616.5h0M156.2 614.8h0" stroke="#52ad3f" stroke-width="1.1" stroke-linecap="round" fill="none"/>
<path d="M158.3 614.4h0M199.9 577.6h0" stroke="#1eaadc" stroke-width="1.1" stroke-linecap="round" fill="none"/>
<path d="M179.9 611.8h0" stroke="#b98f2e" stroke-width="1.2" stroke-linecap="round" fill="none"/>
<line x1="151.70" y1="558.70" x2="151.70" y2="641.70" stroke="#000" stroke-width="1.3"/>
<line x1="151.10" y1="641.10" x2="233.40" y2="641.10" stroke="#000" stroke-width="1.3"/>
<text x="193.50" y="648.90" font-size="8.0" text-anchor="middle" fill="#1a1a1a">UMAP 1</text>
<text x="148.60" y="598.50" font-size="8.2" text-anchor="middle" fill="#1a1a1a" transform="rotate(-90 148.60 598.50)">UMAP 2</text>
<text x="137.00" y="600.00" font-size="8.2" text-anchor="middle" fill="#1a1a1a" transform="rotate(-90 137.00 600.00)">Seurat</text>
<circle cx="134.70" cy="656.80" r="1.95" fill="#ee5f5f"/>
<text x="141.30" y="659.80" font-size="7.3" text-anchor="start" fill="#111">Acinar</text>
<circle cx="173.20" cy="656.80" r="1.95" fill="#2bb08a"/>
<text x="180.10" y="659.80" font-size="7.3" text-anchor="start" fill="#111">Delta</text>
<circle cx="215.10" cy="656.80" r="1.95" fill="#c85fc0"/>
<text x="222.00" y="659.80" font-size="7.3" text-anchor="start" fill="#111">PP</text>
<circle cx="134.70" cy="664.30" r="1.95" fill="#b98f2e"/>
<text x="141.30" y="667.30" font-size="7.3" text-anchor="start" fill="#111">Alpha</text>
<circle cx="173.20" cy="664.30" r="1.95" fill="#1eaadc"/>
<text x="180.10" y="667.30" font-size="7.3" text-anchor="start" fill="#111">Duct</text>
<circle cx="134.70" cy="672.80" r="1.95" fill="#52ad3f"/>
<text x="141.30" y="675.80" font-size="7.3" text-anchor="start" fill="#111">Beta</text>
<circle cx="173.20" cy="672.80" r="1.95" fill="#8b7fd0"/>
<text x="180.10" y="675.80" font-size="7.3" text-anchor="start" fill="#111">Mesenchyme</text>
<path d="M224.2 696.0h0M224.0 697.5h0M221.6 695.0h0M223.8 687.8h0M223.2 699.9h0M222.0 698.9h0M223.9 695.7h0M224.3 692.6h0M223.9 688.2h0M223.8 699.7h0M220.8 691.3h0M224.7 689.4h0M225.9 697.3h0M220.9 689.3h0M223.8 698.3h0M225.0 696.5h0M225.3 689.1h0M221.5 698.8h0M218.8 691.2h0M224.8 688.8h0M219.9 696.5h0M219.5 696.2h0M221.9 696.6h0M226.2 695.6h0M221.9 693.0h0M220.3 693.2h0M220.9 697.9h0M223.9 700.4h0M223.3 698.2h0M221.9 699.3h0M222.5 689.9h0M220.2 692.6h0M225.8 697.8h0M222.6 695.7h0M219.7 690.1h0M221.5 696.9h0M220.7 694.7h0M222.2 692.7h0M226.4 692.2h0M226.1 692.5h0M222.4 694.9h0M223.2 687.4h0M225.1 692.5h0M223.9 689.1h0M223.3 697.4h0M224.4 697.4h0M225.1 693.0h0M225.0 694.2h0M222.9 695.3h0M220.0 698.6h0M224.4 696.1h0M218.7 697.1h0M224.3 695.1h0M223.0 695.4h0M224.6 698.5h0M221.6 694.1h0M224.6 693.9h0M221.0 693.6h0M219.3 697.2h0M218.3 694.9h0M220.7 695.8h0M221.8 694.6h0M224.1 691.8h0M218.6 694.1h0M222.5 695.2h0M223.1 697.2h0M223.9 691.6h0M224.0 694.8h0M218.7 691.4h0M219.0 697.9h0M220.2 688.7h0M222.4 688.0h0M225.0 696.6h0M223.9 691.8h0M226.1 691.1h0M221.1 690.7h0M220.1 689.3h0M218.7 692.9h0M221.1 688.9h0M224.5 692.4h0M226.3 697.0h0M226.6 692.4h0M225.9 695.5h0M225.3 698.6h0M220.4 688.2h0M223.0 695.5h0M219.4 691.7h0M225.8 691.4h0M224.5 694.1h0M226.6 694.5h0M225.5 698.2h0M223.3 688.0h0M218.7 692.0h0M223.7 700.1h0M220.8 698.9h0M223.1 687.6h0M219.6 693.2h0M223.2 694.2h0M219.2 694.4h0M219.4 690.0h0M221.5 695.9h0M218.8 693.1h0M222.7 693.4h0M225.9 697.2h0M220.2 697.4h0M221.1 699.6h0M220.4 694.3h0M226.0 697.8h0M221.4 692.4h0M218.5 693.5h0M224.3 690.5h0M226.0 696.4h0M223.8 700.0h0M223.7 690.8h0M223.3 689.8h0M223.7 692.0h0M223.6 696.3h0M220.9 698.1h0M225.1 691.2h0M226.1 694.2h0M220.2 692.9h0M221.9 689.4h0M225.2 696.2h0M223.7 691.2h0M222.8 690.0h0M219.5 689.2h0M219.8 690.4h0M224.6 692.0h0M225.0 691.5h0M224.1 691.2h0M219.6 690.1h0M224.3 697.5h0M220.1 698.5h0M224.8 698.1h0M223.3 695.5h0M224.2 699.5h0M219.7 698.7h0M220.6 698.2h0M225.3 697.0h0M225.0 692.3h0M221.5 691.6h0M221.7 697.7h0M223.1 694.1h0M224.5 688.2h0M223.9 688.3h0M224.8 699.6h0M219.2 694.2h0M225.5 692.0h0M226.2 692.8h0M221.6 692.1h0" stroke="#b98f2e" stroke-width="1.35" stroke-linecap="round" fill="none"/>
<path d="M161.0 714.3h0M162.5 714.7h0M162.9 716.2h0M159.2 715.8h0M160.1 714.0h0M161.4 718.8h0M159.6 715.7h0M164.1 715.0h0M159.2 718.2h0M160.4 719.9h0M163.5 717.2h0M159.6 716.6h0M158.8 715.2h0M163.2 716.4h0M162.7 719.2h0M162.0 716.9h0M164.3 715.4h0M160.0 719.4h0M161.0 718.0h0M162.7 716.3h0M161.7 713.9h0M161.2 718.3h0M163.0 716.4h0M161.5 715.7h0M158.2 716.2h0M160.8 720.2h0M162.6 719.0h0M162.2 717.2h0M162.6 718.3h0M162.0 717.0h0M162.6 715.9h0M160.7 714.3h0M164.0 716.2h0M160.4 714.0h0M160.1 714.7h0M158.1 716.1h0M162.6 718.9h0M157.7 717.3h0M161.6 717.7h0M161.0 720.1h0M160.1 715.1h0M159.5 719.7h0M159.1 718.0h0M161.5 716.6h0M161.6 716.9h0M161.9 718.1h0M162.6 714.3h0M159.4 716.5h0M160.6 714.8h0M161.8 715.7h0M160.1 713.8h0M164.4 715.8h0M162.4 715.3h0M158.2 715.4h0M160.2 716.3h0M159.9 720.0h0M163.5 715.4h0M163.9 717.6h0M161.0 719.6h0M159.3 714.4h0M162.7 715.9h0M159.5 719.2h0M163.7 715.1h0M163.7 714.9h0M160.1 714.5h0M158.3 716.6h0M158.9 719.6h0M160.9 716.1h0M158.6 716.3h0M161.1 719.6h0M162.6 717.6h0M163.8 715.4h0M163.4 718.8h0M162.8 714.1h0M163.7 717.0h0M158.7 714.9h0M164.0 717.3h0M164.2 717.6h0M162.7 718.8h0M162.8 715.7h0M162.4 714.4h0M159.6 718.2h0M163.9 717.5h0M163.4 716.7h0M163.2 714.8h0M160.4 715.3h0M160.2 714.2h0M162.2 718.9h0M161.5 716.7h0M160.5 720.1h0M158.4 718.6h0M162.7 714.8h0M159.6 715.7h0M159.2 716.9h0M161.0 717.6h0M162.8 716.1h0M161.2 715.8h0M162.2 716.9h0M162.4 717.7h0M162.7 716.4h0M163.4 715.3h0M163.1 718.5h0M159.0 717.5h0M162.9 719.8h0M162.1 715.6h0M162.3 716.8h0M159.3 716.3h0M163.6 715.5h0M161.7 716.3h0M160.8 715.6h0" stroke="#1eaadc" stroke-width="1.35" stroke-linecap="round" fill="none"/>
<path d="M224.1 753.6h0M224.4 755.6h0M223.7 754.8h0M225.9 754.0h0M222.3 756.3h0M225.6 757.3h0M225.5 753.8h0M222.7 751.1h0M227.1 755.4h0M223.1 751.0h0M225.5 751.8h0M224.3 755.3h0M222.7 754.4h0M221.6 753.5h0M223.9 752.1h0M224.2 751.0h0M224.4 754.8h0M224.1 755.8h0M224.9 756.7h0M222.5 756.5h0M223.5 752.2h0M225.2 757.4h0M226.0 754.0h0M225.5 754.5h0M224.7 752.8h0M226.7 753.1h0M226.3 754.8h0M223.6 752.3h0M225.4 755.9h0M222.0 754.7h0M222.1 754.9h0M225.2 754.4h0M223.7 751.1h0M225.7 755.7h0M222.3 753.5h0M220.8 754.6h0M220.7 753.6h0M222.9 753.2h0M221.9 752.6h0M226.9 754.6h0M224.7 752.0h0M225.2 754.5h0M223.7 755.7h0M223.1 756.3h0M225.3 756.6h0M223.1 752.4h0M226.4 753.5h0M223.8 757.6h0M222.1 753.7h0M222.3 756.1h0M225.0 757.3h0M225.7 755.8h0M221.4 752.3h0M226.1 756.9h0M221.6 752.5h0M224.3 753.5h0M226.8 755.8h0M224.7 750.9h0M221.5 753.5h0M225.6 754.8h0M225.6 752.4h0M222.5 754.5h0M223.3 752.5h0M226.5 752.0h0M222.4 755.1h0M223.8 754.2h0M225.8 751.5h0M223.2 754.6h0M223.1 754.7h0M223.3 757.5h0M227.0 753.3h0M224.9 757.2h0M226.9 752.6h0M227.4 754.4h0M223.9 754.4h0M221.8 755.4h0M223.3 753.4h0M222.1 752.1h0M221.7 753.4h0M226.6 755.3h0M225.5 755.9h0M224.1 753.1h0M223.0 755.9h0M222.5 753.2h0M223.3 753.3h0M224.9 753.9h0M224.1 752.8h0M221.8 755.4h0M222.8 755.7h0M221.1 753.7h0M224.0 756.8h0M225.3 756.6h0M222.6 752.2h0M221.8 752.9h0M224.9 756.7h0M222.7 751.1h0M226.8 753.4h0M222.9 756.2h0M223.2 756.0h0M223.2 756.0h0" stroke="#52ad3f" stroke-width="1.35" stroke-linecap="round" fill="none"/>
<path d="M218.2 691.0h0M218.2 692.6h0M218.2 694.2h0M218.2 695.8h0M218.2 697.4h0M218.2 699.0h0" stroke="#c85fc0" stroke-width="1.3" stroke-linecap="round" fill="none"/>
<path d="M161.1 721.9h0" stroke="#ee5f5f" stroke-width="1.7" stroke-linecap="round" fill="none"/>
<path d="M169.1 716.5h0" stroke="#8b7fd0" stroke-width="1.8" stroke-linecap="round" fill="none"/>
<path d="M182.6 712.7h0M183.0 713.3h0M182.1 713.2h0" stroke="#1eaadc" stroke-width="1.5" stroke-linecap="round" fill="none"/>
<path d="M181.7 713.9h0M182.3 714.0h0" stroke="#8b7fd0" stroke-width="1.5" stroke-linecap="round" fill="none"/>
<path d="M181.0 714.9h0M181.5 715.3h0" stroke="#b98f2e" stroke-width="1.5" stroke-linecap="round" fill="none"/>
<line x1="151.90" y1="683.40" x2="151.90" y2="765.90" stroke="#000" stroke-width="1.3"/>
<line x1="151.30" y1="765.30" x2="234.10" y2="765.30" stroke="#000" stroke-width="1.3"/>
<text x="193.00" y="774.40" font-size="8.0" text-anchor="middle" fill="#1a1a1a">UMAP 1</text>
<text x="148.60" y="728.00" font-size="8.2" text-anchor="middle" fill="#1a1a1a" transform="rotate(-90 148.60 728.00)">UMAP 2</text>
<text x="137.00" y="727.20" font-size="8.2" text-anchor="middle" fill="#1a1a1a" transform="rotate(-90 137.00 727.20)">CellScope</text>
<text x="248.50" y="552.50" font-size="12.5" text-anchor="start" fill="#1a1a1a">g</text>
<path d="M291.7 601.1h0M315.0 572.1h0M314.0 588.1h0M288.2 588.5h0M330.8 627.1h0M289.7 596.0h0M292.0 594.1h0M286.9 588.7h0M292.1 584.4h0M293.0 583.7h0M295.0 600.4h0M286.7 595.9h0M265.0 616.8h0M314.3 577.1h0M294.6 601.5h0M294.2 587.3h0M295.9 582.0h0M291.8 594.5h0M311.2 582.5h0M287.8 590.5h0M327.6 630.6h0M315.9 622.7h0M306.5 603.8h0M267.9 617.0h0M313.4 589.7h0M286.8 589.8h0M295.8 601.0h0M291.5 587.6h0M287.7 584.1h0M309.3 578.4h0M292.7 605.2h0M266.4 617.5h0M317.9 624.4h0" stroke="#8e80c7" stroke-width="2.5" stroke-linecap="round" fill="none"/>
<path d="M296.1 597.7h0M291.9 601.9h0M318.3 579.3h0M288.0 587.3h0M295.2 584.2h0M314.9 623.8h0" stroke="#bdb5d8" stroke-width="2.5" stroke-linecap="round" fill="none"/>
<path d="M312.0 582.6h0" stroke="#d6d5e2" stroke-width="2.5" stroke-linecap="round" fill="none"/>
<path d="M308.2 596.4h0" stroke="#3f55af" stroke-width="2.5" stroke-linecap="round" fill="none"/>
<path d="M265.4 618.3h0M315.0 588.0h0M309.7 620.2h0M327.0 626.2h0M291.7 589.3h0M295.0 598.3h0M313.8 621.7h0M295.8 581.3h0M306.2 601.4h0" stroke="#a59ad0" stroke-width="2.5" stroke-linecap="round" fill="none"/>
<path d="M311.9 577.5h0M314.4 579.9h0M317.8 624.9h0M320.8 577.5h0M316.6 582.5h0M302.2 611.9h0M328.2 627.3h0M317.7 580.6h0M320.4 576.6h0M307.2 597.5h0M318.3 574.1h0M309.1 596.9h0M314.8 581.5h0M306.9 618.0h0M315.8 581.9h0M304.5 614.0h0M307.4 601.0h0M308.7 574.7h0M326.9 631.7h0M314.8 578.3h0M315.6 574.4h0M309.5 580.4h0M318.2 581.0h0M311.3 594.9h0M330.4 630.6h0" stroke="#5a55b0" stroke-width="2.5" stroke-linecap="round" fill="none"/>
<path d="M294.3 586.5h0M317.9 582.7h0M290.5 590.6h0M296.7 585.4h0M294.2 602.2h0M307.3 604.9h0M314.5 577.9h0M264.3 615.1h0M267.6 617.9h0M307.9 615.9h0M307.5 580.6h0M295.8 586.5h0M290.0 598.3h0M266.6 616.3h0M322.8 583.6h0M285.7 612.8h0M314.1 620.5h0M296.9 584.4h0M293.3 584.2h0M315.0 622.4h0M290.2 585.3h0M313.0 590.2h0M316.2 577.4h0M292.1 603.9h0M310.9 621.0h0M268.6 616.2h0M311.0 593.2h0M321.4 577.2h0M316.5 570.8h0M328.1 628.3h0M324.0 632.6h0M311.7 585.8h0M302.9 611.3h0M315.2 577.0h0M309.8 594.4h0M264.9 614.5h0M311.4 582.2h0M318.6 585.8h0M313.7 575.6h0M316.2 580.6h0M306.3 617.2h0M317.6 579.9h0M311.9 620.2h0" stroke="#7b6ebe" stroke-width="2.5" stroke-linecap="round" fill="none"/>
<path d="M329.7 630.2h0M315.9 576.7h0M310.9 593.6h0M320.6 574.9h0M307.7 579.6h0M302.4 611.1h0M327.2 627.7h0M291.4 592.2h0M317.9 579.8h0M288.4 596.2h0M295.5 599.8h0M317.1 571.4h0M322.5 629.4h0M328.8 631.7h0M286.3 612.9h0M315.1 575.6h0M314.7 576.6h0M293.6 583.6h0M267.4 613.2h0M325.2 627.1h0M289.9 595.9h0M324.3 628.4h0M312.1 586.0h0M331.4 629.4h0M310.8 595.1h0M314.6 572.2h0M298.3 583.0h0M309.6 595.5h0M266.0 612.9h0M307.1 601.1h0M311.5 582.3h0M285.2 613.3h0M331.1 627.9h0M325.1 631.5h0M300.5 605.4h0M327.5 628.8h0M296.8 601.0h0M321.9 573.7h0M304.1 579.5h0" stroke="#6960b6" stroke-width="2.5" stroke-linecap="round" fill="none"/>
<path d="M316.4 585.1h0M316.8 584.8h0M314.9 585.0h0M307.9 596.0h0M322.2 573.2h0" stroke="#4d53ae" stroke-width="2.5" stroke-linecap="round" fill="none"/>
<path d="M314.8 576.2h0" stroke="#2a62b8" stroke-width="2.5" stroke-linecap="round" fill="none"/>
<path d="M298.3 581.2h0M328.9 631.8h0M322.8 632.1h0M309.2 596.9h0M311.9 621.0h0M312.0 571.9h0M303.2 603.9h0M307.9 616.1h0M311.0 594.2h0M311.2 620.5h0M314.8 590.8h0M327.4 627.0h0M294.8 600.3h0M305.4 613.1h0M316.9 581.1h0M317.6 580.5h0M324.5 630.0h0M268.2 616.3h0M328.6 627.3h0M263.9 616.9h0M314.4 585.4h0M291.3 594.8h0M318.0 623.9h0M318.2 585.6h0M316.4 623.9h0M310.2 584.7h0M310.7 594.4h0M288.5 594.5h0M312.1 621.0h0M326.7 627.9h0M320.3 572.3h0M310.4 618.9h0M303.8 578.7h0M330.1 629.5h0M313.1 577.1h0M267.4 613.0h0M320.8 577.1h0M319.2 578.0h0M328.3 626.3h0M326.2 632.8h0M291.8 586.2h0" stroke="#6960b6" stroke-width="2.5" stroke-linecap="round" fill="none"/>
<path d="M324.3 582.2h0" stroke="#3f55af" stroke-width="2.5" stroke-linecap="round" fill="none"/>
<path d="M320.0 585.8h0M313.6 580.3h0M294.5 604.2h0M290.3 596.8h0" stroke="#d6d5e2" stroke-width="2.5" stroke-linecap="round" fill="none"/>
<path d="M292.0 595.1h0M310.4 580.1h0M288.2 591.7h0M328.7 632.3h0M310.9 618.6h0" stroke="#bdb5d8" stroke-width="2.5" stroke-linecap="round" fill="none"/>
<path d="M322.0 579.6h0M319.9 625.8h0M328.3 628.5h0M291.5 587.4h0M306.1 601.3h0M319.6 576.0h0M321.6 581.0h0M315.7 586.0h0M324.5 629.4h0M315.0 583.3h0M309.7 582.4h0M315.7 580.7h0M324.1 629.4h0M318.8 577.7h0M314.1 579.7h0M294.3 584.6h0M312.7 580.9h0M310.7 580.1h0M302.8 612.4h0M303.8 601.9h0M328.9 626.2h0" stroke="#5a55b0" stroke-width="2.5" stroke-linecap="round" fill="none"/>
<path d="M265.8 614.6h0M294.2 586.5h0M318.0 577.7h0M287.8 598.5h0M297.5 584.0h0M319.7 582.9h0M304.0 579.7h0M307.6 616.8h0M321.8 574.4h0M287.9 598.0h0M314.6 622.0h0M324.8 627.0h0M265.2 616.1h0M303.4 612.6h0M326.4 626.8h0M302.8 613.7h0M325.0 628.3h0M314.2 580.0h0M329.4 631.6h0M319.1 625.2h0M303.4 579.0h0M266.5 614.9h0M292.7 597.1h0M315.2 581.5h0M312.2 591.8h0M307.3 616.5h0M290.0 586.3h0M294.3 595.8h0M315.4 571.6h0M317.4 581.6h0M302.6 611.4h0M290.7 587.2h0M293.9 600.0h0M294.0 590.3h0M317.5 580.5h0M304.0 613.8h0" stroke="#7b6ebe" stroke-width="2.5" stroke-linecap="round" fill="none"/>
<path d="M292.1 600.8h0M313.0 579.6h0M285.9 591.1h0M311.3 581.1h0M301.9 606.2h0M296.7 582.2h0M298.7 583.4h0M312.5 620.7h0M317.9 578.4h0M297.2 585.7h0M298.7 579.8h0M327.9 628.9h0M289.0 589.3h0M319.7 625.5h0M314.4 581.3h0M289.8 590.2h0M306.7 615.3h0M319.9 625.4h0" stroke="#a59ad0" stroke-width="2.5" stroke-linecap="round" fill="none"/>
<path d="M315.2 574.3h0" stroke="#2a62b8" stroke-width="2.5" stroke-linecap="round" fill="none"/>
<path d="M317.8 577.0h0M309.0 597.3h0M294.3 583.5h0M330.8 629.8h0M311.3 581.7h0M266.1 618.1h0M313.6 573.8h0M316.3 622.9h0M294.1 584.6h0M314.8 580.6h0M293.4 585.1h0M289.2 586.2h0M293.9 585.6h0M312.6 581.6h0M266.8 613.0h0M265.6 616.1h0M292.1 602.0h0M292.1 591.3h0M312.7 581.0h0M294.1 599.9h0M313.1 582.3h0M321.4 625.8h0M323.7 582.5h0M315.9 582.6h0M294.4 601.7h0M291.0 590.7h0M312.5 583.5h0M322.1 584.1h0M307.5 618.4h0M310.8 580.7h0M296.2 587.3h0M290.1 595.8h0M313.9 576.4h0M294.3 600.9h0M289.4 599.2h0" stroke="#8e80c7" stroke-width="2.5" stroke-linecap="round" fill="none"/>
<path d="M305.9 606.7h0M317.2 572.3h0M303.8 605.5h0M319.9 580.7h0M313.0 578.5h0M316.1 576.5h0M313.6 575.4h0M328.5 626.8h0M306.1 604.5h0M319.2 576.2h0M306.6 604.9h0M301.5 604.3h0M326.2 627.1h0M311.0 578.7h0" stroke="#4d53ae" stroke-width="2.5" stroke-linecap="round" fill="none"/>
<path d="M290.7 585.1h0M297.4 584.9h0M323.4 630.9h0M316.4 574.3h0M320.6 575.2h0M323.3 577.3h0M321.6 627.3h0M315.0 623.1h0M322.4 579.0h0M313.2 574.0h0M292.4 587.7h0M321.8 584.5h0M301.8 606.7h0" stroke="#a59ad0" stroke-width="2.5" stroke-linecap="round" fill="none"/>
<path d="M309.3 581.2h0" stroke="#2a62b8" stroke-width="2.5" stroke-linecap="round" fill="none"/>
<path d="M330.7 630.3h0M323.4 575.0h0M289.9 582.5h0M309.2 579.0h0M307.5 617.1h0M325.9 627.3h0M292.7 588.1h0M313.9 577.8h0M288.6 592.7h0M311.0 618.2h0M311.6 581.5h0M301.8 608.7h0M264.6 617.6h0M303.0 611.9h0M313.7 591.2h0M316.5 622.9h0M297.1 585.2h0M316.1 572.3h0" stroke="#6960b6" stroke-width="2.5" stroke-linecap="round" fill="none"/>
<path d="M315.6 588.5h0M312.3 574.5h0M315.9 576.8h0M321.2 577.9h0M312.8 572.1h0" stroke="#3f55af" stroke-width="2.5" stroke-linecap="round" fill="none"/>
<path d="M292.1 602.8h0M299.5 608.7h0M311.7 584.7h0M314.2 622.4h0M310.2 595.3h0M293.9 583.0h0M321.9 585.4h0M292.2 586.5h0M327.7 632.2h0M306.2 599.8h0M303.5 605.9h0M263.7 616.9h0M324.4 627.2h0M293.6 584.2h0M308.6 581.6h0M289.3 596.4h0M292.9 590.5h0M325.6 631.9h0M318.2 578.4h0M319.3 576.8h0M329.6 628.1h0M316.6 581.7h0M292.3 601.9h0M286.9 612.5h0M299.1 608.7h0M313.7 577.9h0M303.7 613.1h0M302.6 602.4h0M327.2 629.6h0M324.8 627.4h0M315.2 573.3h0" stroke="#7b6ebe" stroke-width="2.5" stroke-linecap="round" fill="none"/>
<path d="M303.2 612.8h0M307.2 605.4h0M325.7 631.6h0M325.2 628.2h0M312.2 576.0h0M285.7 590.3h0M301.6 604.9h0M316.6 583.3h0M296.6 603.0h0M329.2 631.3h0M311.8 620.8h0M302.2 604.3h0M294.6 583.7h0" stroke="#5a55b0" stroke-width="2.5" stroke-linecap="round" fill="none"/>
<path d="M297.7 603.6h0M317.8 583.8h0M289.1 586.6h0M329.1 627.7h0" stroke="#d6d5e2" stroke-width="2.5" stroke-linecap="round" fill="none"/>
<path d="M303.6 613.4h0M313.4 622.0h0M264.2 614.9h0M305.1 614.8h0M322.8 632.1h0M290.0 587.5h0M289.8 581.5h0M329.4 630.9h0M321.5 585.4h0M291.4 592.2h0M314.3 578.6h0M318.9 625.9h0M311.9 589.6h0M325.2 631.3h0M323.7 575.5h0M314.7 622.7h0M266.6 616.9h0M301.6 602.8h0M292.1 581.6h0M313.7 623.5h0M308.8 597.4h0M323.6 629.9h0M320.8 576.3h0M290.7 586.8h0M294.1 603.1h0M295.9 581.0h0M313.0 592.6h0M307.3 580.4h0M318.6 581.0h0M313.1 622.0h0M313.2 590.5h0M294.9 583.1h0M293.3 590.6h0M329.8 630.7h0M312.5 583.5h0M287.8 588.9h0M329.4 628.5h0M331.0 628.5h0M291.9 595.4h0M302.3 611.6h0M324.3 627.8h0M324.8 631.9h0" stroke="#8e80c7" stroke-width="2.5" stroke-linecap="round" fill="none"/>
<path d="M313.1 591.0h0M321.8 582.6h0M327.1 629.1h0M318.1 579.4h0M315.5 581.6h0M323.8 583.1h0M315.3 576.8h0" stroke="#4d53ae" stroke-width="2.5" stroke-linecap="round" fill="none"/>
<path d="M309.8 575.6h0M305.5 615.9h0M298.8 587.8h0M318.7 581.5h0M292.1 602.3h0M313.4 578.7h0M288.0 590.5h0" stroke="#bdb5d8" stroke-width="2.5" stroke-linecap="round" fill="none"/>
<path d="M313.2 621.4h0M314.4 579.2h0" stroke="#3f55af" stroke-width="2.5" stroke-linecap="round" fill="none"/>
<path d="M315.3 574.3h0M323.0 631.4h0M321.2 573.5h0M318.3 576.0h0M314.3 622.5h0M307.8 579.9h0M311.8 580.7h0M321.2 580.0h0M312.4 584.4h0M303.0 604.8h0M317.2 580.4h0M324.7 581.8h0M316.2 584.4h0M304.3 604.3h0M318.9 580.6h0M315.9 586.8h0M309.7 595.1h0M307.5 599.1h0M323.5 630.5h0M308.0 595.5h0M319.8 627.4h0M313.8 579.3h0M310.7 574.1h0M318.9 578.3h0M313.4 577.8h0M317.5 575.3h0" stroke="#5a55b0" stroke-width="2.5" stroke-linecap="round" fill="none"/>
<path d="M291.4 591.7h0M295.3 584.0h0M319.2 579.6h0M309.4 597.7h0M286.6 587.1h0M305.7 604.4h0M310.4 581.7h0M312.8 621.0h0M296.5 583.2h0M292.3 595.5h0M317.2 581.5h0M315.7 586.3h0M325.9 631.8h0M329.4 628.1h0M318.7 580.4h0M315.3 587.0h0M305.7 614.7h0M325.0 628.3h0M306.4 614.5h0M290.8 596.9h0M315.3 623.3h0M321.5 581.5h0M316.0 575.4h0M330.7 630.6h0M289.8 587.8h0M303.4 606.6h0M317.5 624.0h0M300.8 581.4h0M294.5 605.1h0M287.3 593.6h0M299.9 583.6h0M291.7 587.5h0M313.6 622.0h0" stroke="#8e80c7" stroke-width="2.5" stroke-linecap="round" fill="none"/>
<path d="M308.5 595.3h0M290.0 587.8h0M295.6 602.1h0M286.8 598.5h0M290.5 584.7h0M307.5 616.5h0M323.6 632.7h0M307.1 617.3h0M292.6 601.0h0M266.4 613.6h0M312.3 578.3h0M290.9 588.7h0M291.0 588.5h0M309.3 595.4h0M293.9 604.8h0M311.8 594.3h0M290.5 587.5h0M266.9 617.1h0M326.0 630.0h0M306.0 603.7h0M322.0 577.2h0M314.9 583.7h0M329.7 627.9h0M305.6 601.1h0M309.6 579.7h0M308.4 617.8h0M293.0 586.9h0M313.1 619.4h0M301.9 604.9h0M296.4 583.0h0M311.4 620.2h0M291.8 587.6h0M313.6 620.9h0M331.6 628.8h0M303.1 603.1h0M309.6 596.2h0M287.6 585.2h0M325.3 628.7h0M289.7 591.3h0M295.6 586.9h0M310.4 594.2h0M311.3 590.0h0M325.3 632.8h0M303.1 606.8h0M316.2 623.6h0" stroke="#7b6ebe" stroke-width="2.5" stroke-linecap="round" fill="none"/>
<path d="M317.0 577.1h0M314.7 577.6h0M314.6 574.7h0M302.7 602.4h0M290.7 586.6h0M320.7 627.2h0M304.6 603.0h0M321.0 573.4h0M312.6 592.0h0" stroke="#4d53ae" stroke-width="2.5" stroke-linecap="round" fill="none"/>
<path d="M320.1 574.8h0M294.4 600.0h0" stroke="#bdb5d8" stroke-width="2.5" stroke-linecap="round" fill="none"/>
<path d="M314.4 576.4h0M291.6 596.6h0M300.8 604.7h0M303.2 579.4h0M306.9 616.8h0M321.2 581.6h0M320.1 573.1h0M290.7 592.5h0M292.3 604.2h0M330.0 627.9h0M314.9 579.8h0M295.9 583.4h0M292.3 587.8h0M292.3 584.3h0M316.7 585.4h0M290.5 593.6h0M292.0 585.6h0M293.7 603.2h0M294.9 581.9h0" stroke="#a59ad0" stroke-width="2.5" stroke-linecap="round" fill="none"/>
<path d="M308.1 578.2h0" stroke="#2a62b8" stroke-width="2.5" stroke-linecap="round" fill="none"/>
<path d="M312.5 620.1h0M306.5 606.2h0M310.3 596.0h0M294.0 588.2h0M287.6 587.4h0M310.8 620.9h0M317.2 577.1h0M317.8 624.8h0M314.2 621.6h0M305.8 616.6h0M286.0 612.9h0M304.0 612.3h0M311.1 573.6h0M315.1 581.9h0M309.4 618.1h0M320.8 626.4h0M319.4 625.1h0M306.3 604.2h0M305.1 604.7h0M290.3 585.3h0M311.9 579.2h0M318.0 577.4h0M318.7 586.3h0M323.0 632.3h0M303.8 605.3h0M307.5 616.4h0M314.4 581.9h0" stroke="#6960b6" stroke-width="2.5" stroke-linecap="round" fill="none"/>
<path d="M291.8 597.0h0" stroke="#d6d5e2" stroke-width="2.5" stroke-linecap="round" fill="none"/>
<line x1="258.20" y1="564.50" x2="258.20" y2="637.90" stroke="#000" stroke-width="1.3"/>
<line x1="257.60" y1="637.30" x2="340.20" y2="637.30" stroke="#000" stroke-width="1.3"/>
<text x="297.70" y="559.80" font-size="6.8" text-anchor="middle" fill="#1a1a1a">SST</text>
<text x="302.20" y="647.60" font-size="7.9" text-anchor="middle" fill="#1a1a1a">UMAP 1</text>
<path d="M400.2 623.9h0M391.8 595.5h0M391.9 578.2h0M387.4 613.4h0M391.2 601.0h0M398.2 579.2h0M394.0 584.7h0M386.4 602.4h0M406.3 629.4h0M406.6 583.6h0M395.5 584.7h0M386.0 611.9h0M411.3 628.8h0M402.7 580.6h0M400.0 623.6h0M405.7 573.7h0M389.8 603.7h0M409.8 630.0h0M398.2 576.4h0M400.0 580.6h0" stroke="#6960b6" stroke-width="2.5" stroke-linecap="round" fill="none"/>
<path d="M400.4 581.7h0M402.1 576.0h0M398.5 577.6h0M389.9 601.3h0M402.5 586.3h0M397.4 573.8h0M399.2 571.6h0M398.7 585.0h0M403.0 576.2h0M401.0 580.4h0M395.5 585.8h0M397.4 622.0h0" stroke="#3f55af" stroke-width="2.5" stroke-linecap="round" fill="none"/>
<path d="M409.0 628.2h0M390.7 618.0h0M412.6 631.7h0M414.9 627.9h0M395.7 621.0h0M349.6 614.6h0M369.5 612.8h0" stroke="#a59ad0" stroke-width="2.5" stroke-linecap="round" fill="none"/>
<path d="M408.3 629.4h0M388.3 614.0h0M397.6 621.7h0M403.2 625.1h0M397.8 588.1h0M348.0 614.9h0M393.5 620.2h0M393.4 579.7h0M387.8 613.8h0M397.2 589.7h0M405.6 574.4h0M395.9 621.0h0M393.2 618.1h0" stroke="#8e80c7" stroke-width="2.5" stroke-linecap="round" fill="none"/>
<path d="M370.6 598.5h0M351.2 613.2h0M402.7 625.9h0M374.6 596.9h0M377.9 584.6h0M376.8 583.7h0M375.2 592.2h0M372.0 591.7h0M371.5 584.1h0M412.1 626.3h0M385.7 604.9h0M376.1 601.9h0M350.2 613.6h0M373.1 596.4h0M375.9 602.0h0M349.9 618.1h0M373.6 590.2h0M373.9 595.8h0M373.6 581.5h0M373.5 596.0h0" stroke="#bdb5d8" stroke-width="2.5" stroke-linecap="round" fill="none"/>
<path d="M401.8 577.4h0M404.2 576.6h0M397.5 577.9h0M406.2 579.0h0M394.6 580.7h0M398.7 583.7h0M403.0 579.6h0M407.2 575.0h0M393.5 582.4h0M387.6 605.3h0M387.0 612.8h0M396.9 619.4h0M397.7 577.8h0M396.4 592.0h0M399.7 576.8h0" stroke="#4d53ae" stroke-width="2.5" stroke-linecap="round" fill="none"/>
<path d="M404.1 572.3h0M404.6 577.5h0" stroke="#2a62b8" stroke-width="2.5" stroke-linecap="round" fill="none"/>
<path d="M370.7 588.7h0M377.4 584.2h0M370.1 612.9h0M380.0 587.3h0M379.6 601.0h0M381.0 585.7h0M371.4 585.2h0M378.1 600.9h0M375.1 594.8h0M375.4 596.6h0M373.2 599.2h0M373.6 587.8h0M380.6 601.0h0M375.9 603.9h0M380.5 585.4h0M378.1 583.5h0M378.7 581.9h0M387.0 579.4h0M380.5 582.2h0M387.2 612.6h0M378.1 595.8h0M375.2 592.2h0M377.4 583.6h0M387.2 579.0h0M376.1 584.3h0M371.7 598.0h0M375.9 591.3h0M375.6 587.6h0M377.9 603.1h0M379.1 584.0h0M381.2 584.9h0M400.3 622.9h0" stroke="#d6d5e2" stroke-width="2.5" stroke-linecap="round" fill="none"/>
<path d="M390.3 606.2h0M392.5 574.7h0M412.1 628.5h0M386.5 602.4h0M411.9 628.3h0M396.3 620.1h0M399.7 576.7h0M408.1 627.8h0M386.9 603.1h0M410.5 627.9h0M394.7 593.6h0M383.3 608.7h0M401.3 580.5h0M414.6 627.1h0M347.7 616.9h0M389.5 614.7h0M410.9 629.1h0" stroke="#7b6ebe" stroke-width="2.5" stroke-linecap="round" fill="none"/>
<path d="M390.7 616.8h0M401.5 580.6h0M407.2 630.9h0M401.0 572.3h0M405.3 585.4h0M393.4 595.5h0M398.8 583.3h0M395.7 620.2h0M401.0 581.5h0M407.8 632.6h0M407.6 583.1h0M396.8 579.6h0M400.4 583.3h0M398.4 622.0h0M408.6 631.9h0M398.6 580.6h0M394.2 581.7h0M385.4 602.8h0M403.7 580.7h0M408.6 627.4h0M395.3 582.3h0M398.9 581.9h0M403.7 625.4h0M385.3 604.3h0M394.6 595.1h0M398.2 581.9h0M402.4 581.0h0M405.0 577.9h0M413.4 628.1h0" stroke="#5a55b0" stroke-width="2.5" stroke-linecap="round" fill="none"/>
<path d="M405.8 579.6h0M393.1 581.2h0M401.2 581.6h0M410.0 632.8h0M401.9 579.4h0M400.3 570.8h0M397.4 575.4h0M391.1 604.9h0M386.9 606.8h0M399.0 573.3h0M407.4 632.7h0M396.8 578.5h0M402.5 580.4h0M401.7 582.7h0M394.5 580.1h0M396.5 581.0h0M387.6 605.5h0M390.1 604.2h0" stroke="#5a55b0" stroke-width="2.5" stroke-linecap="round" fill="none"/>
<path d="M391.6 579.9h0M392.9 596.9h0M397.5 575.6h0M399.1 576.8h0M393.1 578.4h0M404.4 574.9h0M395.7 589.6h0M399.7 586.8h0M400.5 585.4h0M384.6 604.7h0M405.9 584.1h0M391.0 597.5h0M396.1 574.5h0M405.3 581.5h0" stroke="#4d53ae" stroke-width="2.5" stroke-linecap="round" fill="none"/>
<path d="M414.2 630.6h0M348.7 614.5h0M412.5 632.3h0M350.6 613.0h0M352.4 616.2h0M391.3 617.1h0M397.9 620.5h0M406.8 631.4h0M391.4 616.8h0M408.3 630.0h0M409.4 631.9h0M397.2 622.0h0M392.8 597.3h0M387.6 578.7h0M411.0 627.7h0M407.4 629.9h0" stroke="#a59ad0" stroke-width="2.5" stroke-linecap="round" fill="none"/>
<path d="M401.7 579.8h0M398.6 576.2h0M394.2 580.1h0M401.7 624.4h0M402.0 578.4h0M401.7 578.4h0M396.3 583.5h0M411.7 628.9h0M414.5 630.6h0M391.3 616.5h0M399.1 623.3h0M394.5 574.1h0" stroke="#6960b6" stroke-width="2.5" stroke-linecap="round" fill="none"/>
<path d="M408.2 627.2h0M413.5 627.9h0M395.9 586.0h0M411.5 632.2h0M391.3 616.4h0M391.3 618.4h0M406.6 632.1h0M396.0 576.0h0M405.2 625.8h0M413.8 627.9h0M393.4 596.2h0M399.0 581.5h0M402.9 625.2h0M414.6 629.8h0M413.2 631.6h0M386.1 611.6h0M399.0 577.0h0M398.2 581.3h0" stroke="#7b6ebe" stroke-width="2.5" stroke-linecap="round" fill="none"/>
<path d="M396.2 584.4h0M404.6 576.3h0M395.8 571.9h0M396.3 583.5h0M398.0 580.0h0M395.0 582.5h0M395.7 579.2h0M394.8 593.2h0M400.6 584.8h0" stroke="#3f55af" stroke-width="2.5" stroke-linecap="round" fill="none"/>
<path d="M391.7 616.1h0M399.4 588.5h0M408.6 627.0h0M389.3 615.9h0M413.9 629.5h0M391.7 615.9h0M398.5 622.7h0M408.9 631.5h0M412.3 626.8h0M394.5 594.4h0M390.3 603.8h0M389.5 604.4h0M413.6 630.7h0M389.7 606.7h0M391.0 605.4h0M351.7 617.0h0M390.0 601.4h0" stroke="#8e80c7" stroke-width="2.5" stroke-linecap="round" fill="none"/>
<path d="M370.4 587.1h0M409.0 627.1h0M378.3 604.2h0M379.7 581.0h0M378.4 583.7h0M375.9 602.8h0M373.7 595.9h0M352.0 616.3h0M348.4 617.6h0M392.3 595.3h0M374.8 590.7h0M380.9 585.2h0M373.8 586.3h0M378.0 602.2h0M384.6 581.4h0M377.7 583.0h0M375.2 591.7h0" stroke="#bdb5d8" stroke-width="2.5" stroke-linecap="round" fill="none"/>
<path d="M408.8 628.3h0M378.0 587.3h0M375.8 594.1h0M375.3 587.4h0M377.9 599.9h0M375.9 602.3h0M371.8 587.3h0M369.7 591.1h0M381.3 584.0h0M375.5 601.1h0M383.7 583.6h0M372.8 589.3h0M374.3 593.6h0M378.2 600.0h0M378.4 601.5h0M374.7 588.7h0M376.4 601.0h0M380.7 584.4h0M382.1 583.0h0M377.8 590.3h0M349.8 612.9h0M370.7 612.5h0M410.2 626.8h0M377.7 585.6h0M379.9 597.7h0M410.8 626.2h0M376.2 587.7h0M375.9 584.4h0M376.1 595.5h0M372.4 592.7h0" stroke="#d6d5e2" stroke-width="2.5" stroke-linecap="round" fill="none"/>
<path d="M379.6 586.5h0M376.1 587.8h0M374.3 587.5h0M369.5 590.3h0M377.2 585.1h0M375.9 581.6h0M350.3 614.9h0M375.3 587.6h0M369.0 613.3h0M382.5 583.4h0M373.8 587.5h0M390.9 617.3h0M398.0 621.6h0M371.6 590.5h0M375.8 585.6h0M374.3 590.6h0M374.5 586.8h0M347.5 616.9h0M374.8 588.5h0M371.1 593.6h0M414.5 630.3h0" stroke="#bdb5d8" stroke-width="2.5" stroke-linecap="round" fill="none"/>
<path d="M407.9 629.4h0M398.8 622.4h0M390.2 614.5h0M405.0 581.6h0M398.6 581.5h0M410.7 631.7h0M398.9 575.6h0M386.6 612.4h0M393.6 575.6h0M406.6 632.1h0M393.0 596.9h0M387.3 605.9h0M404.6 626.4h0M388.9 604.7h0M406.0 573.2h0M396.9 582.3h0M393.1 595.4h0M395.1 581.7h0M402.6 577.7h0M405.6 582.6h0M385.6 606.7h0M405.2 577.2h0M388.1 604.3h0M386.8 604.8h0M412.0 627.3h0M399.9 572.3h0M395.0 620.5h0M396.4 581.6h0M407.5 582.5h0M393.5 595.1h0M387.6 601.9h0M411.2 627.0h0" stroke="#6960b6" stroke-width="2.5" stroke-linecap="round" fill="none"/>
<path d="M378.1 586.5h0M378.1 584.6h0M372.3 594.5h0M379.4 602.1h0M385.7 606.2h0M387.9 579.5h0M375.7 595.4h0M379.4 586.9h0M378.8 598.3h0M376.1 604.2h0M377.7 604.8h0M379.6 581.3h0M375.8 595.1h0M375.6 586.2h0M373.0 586.2h0M370.6 589.8h0M374.5 592.5h0M375.5 587.5h0M377.7 600.0h0M375.6 597.0h0M374.3 584.7h0M379.7 583.4h0M378.3 605.1h0M374.1 596.8h0M377.1 584.2h0" stroke="#d6d5e2" stroke-width="2.5" stroke-linecap="round" fill="none"/>
<path d="M409.1 628.7h0M395.1 594.9h0M390.0 599.8h0M404.5 627.2h0M398.7 579.8h0M415.2 629.4h0M392.2 617.8h0M414.8 628.5h0M401.6 624.9h0M390.5 615.3h0M382.9 608.7h0M389.2 613.1h0M394.2 618.9h0M397.4 620.9h0M408.8 628.3h0M413.2 630.9h0M390.1 617.2h0M413.2 628.5h0" stroke="#7b6ebe" stroke-width="2.5" stroke-linecap="round" fill="none"/>
<path d="M399.5 586.3h0M403.6 627.4h0M393.0 579.0h0M394.8 578.7h0M398.1 577.1h0M401.6 624.8h0M404.8 573.4h0M395.2 582.2h0M400.0 577.4h0M394.7 618.6h0M405.4 581.0h0" stroke="#4d53ae" stroke-width="2.5" stroke-linecap="round" fill="none"/>
<path d="M397.2 577.8h0M402.4 585.8h0M392.4 581.6h0M399.1 587.0h0M397.9 579.7h0M401.3 575.3h0M391.3 580.6h0M403.1 576.8h0M399.0 574.3h0" stroke="#3f55af" stroke-width="2.5" stroke-linecap="round" fill="none"/>
<path d="M388.9 614.8h0M350.2 617.5h0M389.4 601.1h0M412.7 631.8h0M395.2 620.2h0M394.8 618.2h0M409.7 627.3h0M350.4 616.9h0" stroke="#a59ad0" stroke-width="2.5" stroke-linecap="round" fill="none"/>
<path d="M412.9 627.7h0M407.5 575.5h0M394.7 621.0h0M405.7 585.4h0M403.8 585.8h0M405.8 577.2h0M386.0 604.3h0M392.6 597.4h0M396.8 592.6h0M401.4 579.9h0M403.0 578.0h0M395.6 594.3h0M398.6 578.3h0M398.1 578.6h0M399.5 586.0h0M405.0 573.5h0" stroke="#5a55b0" stroke-width="2.5" stroke-linecap="round" fill="none"/>
<path d="M409.5 631.6h0M386.4 611.4h0M398.8 623.1h0M385.4 604.9h0M413.2 628.1h0M387.5 613.1h0M403.5 625.5h0M387.8 612.3h0M408.1 628.4h0M411.4 630.6h0M351.4 617.9h0M396.0 591.8h0M395.6 620.8h0M351.2 613.0h0M397.5 591.2h0M386.7 611.3h0M349.0 616.1h0M399.7 622.7h0" stroke="#8e80c7" stroke-width="2.5" stroke-linecap="round" fill="none"/>
<path d="M407.3 630.5h0M391.7 596.0h0M409.1 632.8h0M410.0 627.1h0M387.8 579.7h0M390.4 604.9h0M386.2 611.1h0M394.8 594.2h0M389.6 616.6h0" stroke="#a59ad0" stroke-width="2.5" stroke-linecap="round" fill="none"/>
<path d="M399.5 580.7h0M402.0 585.6h0M396.9 591.0h0M392.0 596.4h0M397.2 578.7h0M403.4 576.0h0M395.1 590.0h0M403.5 582.9h0M400.1 622.9h0M399.4 574.4h0M398.2 585.4h0" stroke="#3f55af" stroke-width="2.5" stroke-linecap="round" fill="none"/>
<path d="M386.6 613.7h0M391.1 580.4h0M400.2 585.1h0M398.1 622.5h0M396.6 621.0h0M413.0 631.3h0M412.7 626.2h0M400.8 577.1h0M386.8 611.9h0M397.5 623.5h0M391.3 599.1h0M401.3 624.0h0M385.6 608.7h0" stroke="#7b6ebe" stroke-width="2.5" stroke-linecap="round" fill="none"/>
<path d="M399.8 575.4h0M396.8 590.2h0M398.4 572.2h0M394.0 595.3h0M387.0 603.9h0M396.1 578.3h0M403.9 573.1h0M393.6 594.4h0M395.6 580.7h0M400.4 582.5h0M398.2 579.9h0M389.9 604.5h0M400.7 581.1h0M396.9 622.0h0M396.9 577.1h0M394.2 594.2h0M407.1 577.3h0M402.0 581.0h0M412.4 627.3h0M395.8 582.6h0M397.0 590.5h0M395.1 581.1h0" stroke="#6960b6" stroke-width="2.5" stroke-linecap="round" fill="none"/>
<path d="M375.7 601.9h0M382.5 579.8h0M350.7 617.1h0M372.9 586.6h0M380.2 583.0h0M378.7 583.1h0M374.1 585.3h0M372.2 596.2h0M371.6 588.9h0M369.8 612.9h0M380.4 603.0h0M349.2 618.3h0M377.5 603.2h0M398.6 590.8h0M374.5 586.6h0M378.6 600.3h0M373.8 587.8h0M371.8 590.5h0M391.1 616.5h0" stroke="#bdb5d8" stroke-width="2.5" stroke-linecap="round" fill="none"/>
<path d="M393.3 580.4h0M400.9 571.4h0M405.6 584.5h0M398.3 577.9h0M398.8 572.1h0M393.2 597.7h0M396.5 580.9h0M404.4 575.2h0M397.6 579.3h0M402.7 578.3h0M391.5 579.6h0M404.6 577.1h0M406.8 632.3h0M405.0 580.0h0M408.5 581.8h0M397.4 580.3h0M399.7 582.6h0M394.9 573.6h0M401.0 577.1h0M397.0 574.0h0M395.4 581.5h0M398.5 576.6h0M408.1 582.2h0M411.0 629.6h0M401.6 577.0h0" stroke="#4d53ae" stroke-width="2.5" stroke-linecap="round" fill="none"/>
<path d="M400.2 574.3h0" stroke="#2a62b8" stroke-width="2.5" stroke-linecap="round" fill="none"/>
<path d="M378.2 601.7h0M380.3 583.2h0M396.3 620.7h0M381.5 603.6h0M376.5 588.1h0M382.6 587.8h0M371.6 598.5h0M376.8 586.9h0M373.5 591.3h0M375.5 589.3h0M394.6 620.9h0M375.9 600.8h0M370.5 595.9h0M376.7 590.5h0M348.8 616.8h0M379.3 599.8h0M376.0 586.5h0M377.1 590.6h0M374.0 585.3h0M348.1 615.1h0M374.5 585.1h0M382.1 581.2h0M373.8 598.3h0M375.6 594.5h0M378.8 600.4h0M349.4 616.1h0M379.7 582.0h0M372.0 588.5h0M376.5 597.1h0M373.7 582.5h0M379.0 584.2h0M376.5 605.2h0M371.4 587.4h0M374.5 587.2h0M378.0 586.5h0M377.8 588.2h0" stroke="#d6d5e2" stroke-width="2.5" stroke-linecap="round" fill="none"/>
<path d="M384.3 605.4h0M397.0 621.4h0M394.1 596.0h0M401.8 577.7h0M350.4 616.3h0M387.2 606.6h0M390.9 601.1h0M413.5 630.2h0M403.7 625.8h0M401.8 623.9h0M398.7 623.8h0M409.0 631.3h0M405.4 627.3h0" stroke="#8e80c7" stroke-width="2.5" stroke-linecap="round" fill="none"/>
<path d="M398.4 574.7h0M397.7 576.4h0M395.7 577.5h0M399.1 574.3h0M400.0 584.4h0M399.6 581.9h0M399.9 576.5h0M402.1 574.1h0M409.7 631.8h0M402.1 579.3h0M398.0 622.4h0M403.9 574.8h0M399.3 581.6h0M388.4 603.0h0M396.6 572.1h0M415.4 628.8h0M401.4 580.5h0M398.8 588.0h0M402.5 581.5h0M401.6 583.8h0" stroke="#5a55b0" stroke-width="2.5" stroke-linecap="round" fill="none"/>
<line x1="342.00" y1="564.50" x2="342.00" y2="637.90" stroke="#000" stroke-width="1.3"/>
<line x1="341.40" y1="637.30" x2="424.00" y2="637.30" stroke="#000" stroke-width="1.3"/>
<text x="381.50" y="559.80" font-size="6.8" text-anchor="middle" fill="#1a1a1a">PPY</text>
<text x="386.00" y="647.60" font-size="7.9" text-anchor="middle" fill="#1a1a1a">UMAP 1</text>
<path d="M485.5 582.7h0M485.0 581.6h0M481.4 579.3h0M479.6 571.9h0M478.4 580.7h0M488.8 581.6h0" stroke="#d6d5e2" stroke-width="2.5" stroke-linecap="round" fill="none"/>
<path d="M436.2 616.2h0M455.4 598.5h0M460.6 586.9h0M486.3 581.5h0M476.9 595.4h0" stroke="#4d53ae" stroke-width="2.5" stroke-linecap="round" fill="none"/>
<path d="M473.4 616.6h0M496.7 627.7h0M459.3 601.1h0M483.7 576.5h0M465.0 584.9h0M461.7 599.9h0M488.2 574.9h0M464.3 585.4h0M485.6 577.4h0M485.4 624.8h0M484.0 574.3h0M483.5 576.8h0M481.2 575.4h0M469.8 611.9h0M475.1 616.5h0M490.9 577.3h0M481.9 577.1h0M497.7 629.5h0M485.1 624.0h0M483.8 577.4h0M464.3 582.2h0M461.9 584.6h0M476.8 596.9h0M475.8 596.4h0M483.5 622.7h0M455.8 591.7h0M478.9 590.0h0M464.0 583.0h0M458.6 590.7h0M478.0 594.2h0M478.3 594.4h0" stroke="#8e80c7" stroke-width="2.5" stroke-linecap="round" fill="none"/>
<path d="M487.4 627.4h0M498.7 627.9h0M492.4 631.9h0M488.4 576.3h0M482.9 574.3h0M480.1 620.7h0M455.6 587.3h0M474.5 616.8h0M486.2 585.8h0M478.9 581.1h0M454.9 593.6h0M453.3 590.3h0M485.9 576.0h0M479.5 577.5h0M463.5 581.0h0M484.8 581.5h0M482.5 623.8h0M453.6 612.9h0M481.6 588.1h0M493.8 627.1h0M472.7 604.7h0M459.0 592.2h0M434.4 613.0h0M481.8 621.6h0M475.5 596.0h0M482.4 578.3h0M478.6 593.2h0M457.8 585.3h0M469.1 604.3h0M498.3 630.6h0M497.6 627.9h0M470.2 602.4h0M485.1 575.3h0M483.0 571.6h0M488.4 577.1h0M480.7 619.4h0M458.1 584.7h0M482.2 622.0h0M459.7 602.3h0M481.9 622.5h0" stroke="#6960b6" stroke-width="2.5" stroke-linecap="round" fill="none"/>
<path d="M457.9 585.3h0M494.5 631.7h0M491.9 582.2h0M489.6 579.6h0M461.8 602.2h0M454.4 589.8h0M494.8 629.6h0M458.1 587.5h0M488.4 626.4h0M488.4 577.5h0M434.5 617.1h0M435.2 617.9h0M461.5 585.6h0M454.5 612.5h0M494.0 626.8h0M469.2 602.8h0M497.0 630.9h0M462.5 583.1h0M463.4 581.3h0M458.1 590.6h0M478.5 593.6h0M463.2 586.9h0M488.8 573.5h0" stroke="#5a55b0" stroke-width="2.5" stroke-linecap="round" fill="none"/>
<path d="M481.7 579.7h0M482.1 577.9h0M482.0 581.3h0M486.2 581.0h0M486.3 580.4h0" stroke="#bdb5d8" stroke-width="2.5" stroke-linecap="round" fill="none"/>
<path d="M484.3 585.4h0M455.3 584.1h0M476.0 617.8h0M483.3 586.0h0M482.0 579.2h0M493.3 631.6h0M478.6 578.7h0M490.0 579.0h0M489.5 585.4h0M462.0 600.0h0M482.6 583.3h0M469.9 611.6h0" stroke="#a59ad0" stroke-width="2.5" stroke-linecap="round" fill="none"/>
<path d="M457.4 587.8h0M485.2 580.5h0M480.6 592.6h0M498.4 629.8h0M461.9 583.5h0M457.3 591.3h0M468.4 581.4h0M495.8 627.3h0M494.8 627.7h0M497.3 630.2h0M492.0 627.2h0M481.8 622.4h0M477.0 618.1h0M456.7 586.6h0M472.2 603.0h0M466.4 587.8h0M462.5 581.9h0M491.1 630.5h0M492.6 628.3h0M479.0 582.2h0M476.7 596.9h0M471.7 579.5h0M475.6 595.5h0M483.3 580.7h0M455.6 590.5h0M479.9 574.5h0M495.9 628.5h0M480.7 577.1h0M482.9 623.3h0M482.4 580.6h0M479.5 620.2h0M482.4 590.8h0M486.9 576.8h0M458.1 593.6h0M462.0 601.7h0M473.5 606.7h0M456.6 589.3h0M479.5 589.6h0M459.9 595.5h0M489.0 625.8h0M459.7 584.4h0M490.4 632.1h0M482.0 576.4h0M481.0 589.7h0M463.5 582.0h0M454.5 588.7h0M433.6 612.9h0" stroke="#7b6ebe" stroke-width="2.5" stroke-linecap="round" fill="none"/>
<path d="M459.9 604.2h0M491.2 632.7h0M495.0 627.0h0M480.2 592.0h0M461.5 583.0h0M455.2 587.4h0M459.8 586.5h0M483.2 574.4h0M456.2 592.7h0M479.6 582.6h0M476.6 597.3h0M461.2 584.2h0M471.6 612.3h0M477.8 595.3h0M461.6 590.3h0M464.4 601.0h0M492.9 632.8h0M482.8 581.5h0M496.2 627.3h0M455.8 588.5h0M474.5 618.0h0M472.1 614.0h0M480.8 621.4h0M481.5 576.4h0M479.4 580.7h0M497.3 627.9h0M484.2 583.3h0M475.3 579.6h0M454.3 595.9h0M479.4 594.3h0M483.4 581.9h0M477.3 582.4h0M478.4 620.9h0" stroke="#8e80c7" stroke-width="2.5" stroke-linecap="round" fill="none"/>
<path d="M487.7 573.1h0M476.2 581.6h0M481.3 577.9h0M470.7 606.8h0M483.1 581.6h0M482.2 572.2h0" stroke="#4d53ae" stroke-width="2.5" stroke-linecap="round" fill="none"/>
<path d="M498.0 630.6h0M491.3 575.5h0M435.0 613.2h0M432.5 614.5h0M495.7 628.3h0M485.4 624.9h0M481.0 577.8h0M475.1 580.6h0M497.0 628.5h0M487.3 582.9h0M462.8 584.2h0M486.8 578.0h0M458.3 586.6h0M492.8 627.1h0M459.9 587.8h0M480.8 590.5h0M460.9 590.6h0M475.0 601.0h0M474.8 597.5h0M482.7 575.6h0M461.9 600.9h0M492.3 581.8h0M462.2 601.5h0M477.4 594.4h0M474.7 601.1h0M458.3 586.8h0M492.7 631.5h0M474.0 614.5h0M471.0 579.0h0M471.2 613.4h0M481.0 622.0h0M468.4 604.7h0M482.8 573.3h0M474.1 603.8h0M487.7 574.8h0M453.3 612.8h0M493.5 627.3h0M478.3 574.1h0M459.0 592.2h0M477.3 620.2h0M459.5 595.4h0M491.0 630.9h0M481.9 578.6h0M470.8 579.4h0" stroke="#7b6ebe" stroke-width="2.5" stroke-linecap="round" fill="none"/>
<path d="M488.6 573.4h0M485.5 579.8h0M479.3 584.7h0" stroke="#d6d5e2" stroke-width="2.5" stroke-linecap="round" fill="none"/>
<path d="M478.0 581.7h0M434.0 617.5h0M469.5 604.9h0M489.4 582.6h0M457.7 595.8h0M473.7 601.3h0M480.0 584.4h0M465.1 584.0h0M484.4 584.8h0M459.1 587.6h0M478.0 618.9h0M461.9 586.5h0M474.1 606.2h0M459.9 601.9h0M459.4 594.5h0M461.8 587.3h0M489.4 574.4h0M486.5 580.6h0" stroke="#5a55b0" stroke-width="2.5" stroke-linecap="round" fill="none"/>
<path d="M482.0 579.9h0M470.0 611.1h0M486.5 578.3h0M470.6 611.9h0M483.2 588.5h0M480.1 620.1h0M432.2 617.6h0M475.1 599.1h0M484.2 581.7h0M484.1 570.8h0M477.2 596.2h0M494.6 626.2h0M479.3 585.8h0M460.3 605.2h0M471.4 578.7h0M491.4 583.1h0M457.6 587.8h0M433.2 616.1h0M497.0 628.1h0M455.2 585.2h0M489.2 627.3h0M433.4 614.6h0M452.8 613.3h0M457.9 596.8h0M435.0 613.0h0M486.7 625.2h0M476.8 579.0h0M458.9 594.8h0M474.2 604.9h0M457.5 595.9h0M461.7 603.1h0M431.8 614.9h0M492.1 629.4h0" stroke="#6960b6" stroke-width="2.5" stroke-linecap="round" fill="none"/>
<path d="M473.0 613.1h0M484.2 582.5h0M489.1 581.5h0M475.4 579.9h0M483.5 586.8h0M463.5 583.4h0M485.9 579.3h0M497.0 631.6h0M486.4 577.7h0" stroke="#bdb5d8" stroke-width="2.5" stroke-linecap="round" fill="none"/>
<path d="M482.8 577.0h0M481.3 575.6h0M462.1 605.1h0M461.5 600.0h0M482.4 581.5h0M474.8 605.4h0M465.9 583.0h0M477.1 580.4h0M482.6 572.1h0M490.6 632.3h0M480.4 621.0h0" stroke="#a59ad0" stroke-width="2.5" stroke-linecap="round" fill="none"/>
<path d="M483.8 580.6h0M498.6 628.5h0M481.2 620.9h0M459.4 587.6h0M475.2 616.8h0M474.3 615.3h0M470.5 611.3h0M478.0 580.1h0M462.2 583.7h0M431.5 616.9h0M473.6 603.7h0M482.3 622.7h0M491.9 627.8h0M456.1 594.5h0M483.7 572.3h0M478.6 594.2h0M495.5 628.9h0M462.4 600.3h0M459.0 591.7h0M498.4 627.1h0M459.7 581.6h0M486.8 576.2h0M456.9 596.4h0M462.6 600.4h0M476.9 581.2h0M433.0 618.3h0M471.0 612.6h0M457.6 587.5h0M458.3 592.5h0M481.5 577.8h0M493.6 630.0h0M482.6 588.0h0M478.8 582.5h0M460.6 583.7h0M470.6 604.8h0M453.5 591.1h0M453.9 612.9h0M470.4 613.7h0M456.8 586.2h0M487.6 585.8h0" stroke="#7b6ebe" stroke-width="2.5" stroke-linecap="round" fill="none"/>
<path d="M455.4 590.5h0M457.6 586.3h0M482.9 587.0h0M463.1 599.8h0" stroke="#4d53ae" stroke-width="2.5" stroke-linecap="round" fill="none"/>
<path d="M487.5 580.7h0M484.0 585.1h0M494.7 629.1h0M496.8 631.3h0M477.4 575.6h0M482.0 581.9h0M482.6 622.4h0" stroke="#bdb5d8" stroke-width="2.5" stroke-linecap="round" fill="none"/>
<path d="M499.2 628.8h0M473.3 604.4h0M463.8 587.3h0M461.6 588.2h0M432.8 616.1h0M491.3 582.5h0M460.2 601.0h0M468.1 605.4h0M458.6 588.5h0M492.9 628.7h0M469.4 608.7h0M495.2 630.6h0M459.4 597.0h0M493.2 631.9h0M477.3 595.1h0M489.5 573.7h0M471.0 606.6h0M470.4 612.4h0" stroke="#5a55b0" stroke-width="2.5" stroke-linecap="round" fill="none"/>
<path d="M479.5 621.0h0M484.5 581.1h0M482.4 576.2h0M480.1 583.5h0M478.9 581.7h0M466.7 608.7h0M482.6 623.1h0M487.0 625.1h0M461.7 584.6h0M480.4 572.1h0M458.3 585.1h0M475.5 616.1h0M457.4 590.2h0" stroke="#a59ad0" stroke-width="2.5" stroke-linecap="round" fill="none"/>
<path d="M496.5 626.2h0M434.2 616.3h0M459.5 601.9h0M459.6 585.6h0M494.3 627.9h0M473.1 615.9h0M476.9 578.4h0M473.8 599.8h0M487.2 576.0h0M471.6 579.7h0M490.1 629.4h0M455.4 588.9h0M457.5 582.5h0M476.1 595.3h0M467.1 608.7h0M457.0 599.2h0M463.4 586.5h0M465.9 581.2h0M484.1 622.9h0M480.3 581.0h0M461.3 603.2h0M490.4 632.1h0M474.9 604.9h0M459.1 587.4h0M460.3 588.1h0M471.4 601.9h0M480.6 578.5h0M458.5 588.7h0M464.1 583.2h0M475.7 578.2h0M484.6 577.1h0M457.6 598.3h0M472.7 614.8h0M432.6 616.8h0M485.6 623.9h0M479.0 620.2h0M481.2 580.3h0M496.1 626.8h0M464.8 585.7h0M478.5 618.6h0M434.0 613.6h0M460.3 597.1h0M457.4 581.5h0M482.5 585.0h0" stroke="#6960b6" stroke-width="2.5" stroke-linecap="round" fill="none"/>
<path d="M474.9 616.5h0M481.3 623.5h0M488.0 576.6h0M497.4 630.7h0M482.5 583.7h0M480.7 582.3h0M483.8 623.6h0M497.2 628.1h0M463.2 602.1h0M469.2 604.9h0M474.7 617.3h0M489.2 581.0h0M476.4 597.4h0M479.8 576.0h0M487.3 625.5h0M478.4 595.1h0M479.2 581.5h0M461.8 586.5h0M488.8 580.0h0M485.4 583.8h0M477.9 596.0h0M483.9 622.9h0M490.6 631.4h0M488.8 577.9h0M473.7 604.5h0M482.9 576.8h0M471.9 604.3h0M496.3 632.3h0M459.7 602.8h0M486.3 586.3h0M479.5 579.2h0M491.2 629.9h0" stroke="#8e80c7" stroke-width="2.5" stroke-linecap="round" fill="none"/>
<path d="M486.8 579.6h0M478.7 573.6h0M479.9 578.3h0M489.7 584.1h0M477.8 584.7h0M485.5 578.4h0" stroke="#d6d5e2" stroke-width="2.5" stroke-linecap="round" fill="none"/>
<path d="M493.8 632.8h0M473.9 617.2h0M481.3 591.2h0M475.1 616.4h0M499.0 629.4h0M470.7 603.1h0M475.1 617.1h0M481.8 580.0h0M466.3 579.8h0M435.5 617.0h0M434.2 616.9h0M485.4 577.0h0M471.1 605.9h0M458.3 587.2h0M460.0 587.7h0M473.3 614.7h0M492.4 627.0h0M484.8 577.1h0M495.9 626.3h0M464.2 603.0h0M431.3 616.9h0M458.4 596.9h0M485.2 579.9h0M482.5 579.8h0M480.8 574.0h0M478.6 618.2h0M480.7 591.0h0M467.5 583.6h0M478.5 621.0h0M470.2 611.4h0M473.2 601.1h0M481.2 622.0h0M463.7 597.7h0" stroke="#6960b6" stroke-width="2.5" stroke-linecap="round" fill="none"/>
<path d="M483.5 582.6h0M489.8 573.2h0M495.3 632.2h0M459.2 596.6h0M454.2 587.1h0M477.0 597.7h0M496.4 631.7h0M479.7 621.0h0M431.9 615.1h0M470.3 602.4h0M479.7 586.0h0M481.7 620.5h0M463.4 601.0h0M459.9 584.3h0M495.1 628.8h0M474.9 580.4h0M475.1 618.4h0M459.6 595.1h0M476.3 574.7h0M464.7 585.2h0M492.1 630.0h0M493.5 631.8h0M460.5 590.5h0M456.0 596.2h0M487.9 572.3h0M488.3 627.2h0M475.5 615.9h0M481.2 573.8h0M480.6 579.6h0M462.9 584.0h0M487.5 625.4h0M485.5 624.4h0M461.2 583.6h0M480.1 583.5h0M482.3 576.6h0M489.0 577.2h0M466.3 583.4h0M482.3 577.6h0M491.7 629.4h0M469.4 606.7h0M491.6 632.6h0M484.8 580.4h0M486.5 625.9h0M483.3 586.3h0M473.9 604.2h0M483.5 576.7h0" stroke="#7b6ebe" stroke-width="2.5" stroke-linecap="round" fill="none"/>
<path d="M435.8 616.3h0M462.6 598.3h0M479.1 582.3h0M465.3 603.6h0M433.7 618.1h0M454.4 598.5h0M461.9 595.8h0M488.2 575.2h0M459.4 586.2h0M492.8 631.3h0M498.3 630.3h0M455.5 598.0h0M478.3 580.1h0M457.3 596.0h0M459.6 594.1h0M478.8 620.5h0M485.8 581.0h0M459.7 591.3h0M434.1 614.9h0M492.8 628.2h0M459.3 589.3h0M471.4 605.5h0M485.1 580.5h0M477.2 595.5h0M471.6 613.8h0" stroke="#5a55b0" stroke-width="2.5" stroke-linecap="round" fill="none"/>
<path d="M492.6 628.3h0M485.9 574.1h0M485.8 578.4h0M482.7 581.9h0M487.5 625.8h0M473.8 601.4h0M470.8 603.9h0M469.8 604.3h0M462.1 604.2h0M459.7 600.8h0M481.0 578.7h0M478.9 594.9h0M484.8 572.3h0M471.3 613.1h0M459.7 602.0h0M480.7 622.0h0M461.0 585.1h0M461.5 604.8h0" stroke="#8e80c7" stroke-width="2.5" stroke-linecap="round" fill="none"/>
<path d="M491.9 628.4h0M482.2 574.7h0M492.4 627.4h0M480.3 580.9h0M482.0 585.4h0M489.4 584.5h0M489.6 577.2h0M485.3 580.6h0" stroke="#bdb5d8" stroke-width="2.5" stroke-linecap="round" fill="none"/>
<path d="M491.0 575.0h0M489.1 585.4h0M480.2 581.6h0M485.7 579.4h0" stroke="#d6d5e2" stroke-width="2.5" stroke-linecap="round" fill="none"/>
<path d="M479.8 591.8h0M484.7 571.4h0M469.5 606.2h0M480.6 590.2h0M484.0 623.9h0M485.6 577.7h0" stroke="#4d53ae" stroke-width="2.5" stroke-linecap="round" fill="none"/>
<path d="M482.8 574.3h0M459.3 587.5h0M470.8 612.8h0M490.4 583.6h0M479.4 620.8h0M483.8 584.4h0M477.2 579.7h0M464.5 584.4h0M460.9 584.2h0M471.4 605.3h0M496.5 631.8h0M483.6 575.4h0M485.8 585.6h0M481.4 621.7h0M459.7 603.9h0" stroke="#a59ad0" stroke-width="2.5" stroke-linecap="round" fill="none"/>
<line x1="425.80" y1="564.50" x2="425.80" y2="637.90" stroke="#000" stroke-width="1.3"/>
<line x1="425.20" y1="637.30" x2="507.80" y2="637.30" stroke="#000" stroke-width="1.3"/>
<text x="465.30" y="559.80" font-size="6.8" text-anchor="middle" fill="#1a1a1a">REG1A</text>
<text x="469.80" y="647.60" font-size="7.9" text-anchor="middle" fill="#1a1a1a">UMAP 1</text>
<path d="M562.0 580.7h0M573.1 573.7h0M555.5 604.3h0M568.4 572.3h0M569.9 581.5h0M576.5 632.8h0M566.3 575.6h0M569.2 577.7h0M573.3 584.1h0M564.6 577.8h0M560.3 596.9h0M565.0 579.3h0M566.0 578.3h0M560.9 582.4h0M557.4 599.8h0M566.4 581.5h0M561.4 595.3h0M564.3 582.3h0M569.1 582.7h0M560.6 597.7h0M580.1 631.8h0M566.1 585.0h0M568.8 579.9h0M574.9 582.5h0M556.3 604.7h0M563.3 586.0h0M559.3 578.2h0M567.3 572.3h0M570.8 576.0h0M573.2 579.6h0" stroke="#4d53ae" stroke-width="2.5" stroke-linecap="round" fill="none"/>
<path d="M569.9 580.4h0M550.7 608.7h0M564.9 577.9h0M563.7 583.5h0M579.3 628.3h0M563.3 621.0h0M575.5 628.4h0M558.1 616.8h0M569.3 579.4h0M564.8 620.9h0M563.1 589.6h0M577.1 627.3h0M563.7 583.5h0M515.4 614.9h0M561.5 596.0h0M518.6 613.2h0M577.2 630.0h0M559.1 616.1h0M577.4 627.1h0M567.1 622.7h0M552.8 602.8h0M558.7 617.1h0M576.0 631.9h0M567.8 583.3h0M516.4 616.1h0M582.3 627.9h0M566.9 586.3h0" stroke="#6960b6" stroke-width="2.5" stroke-linecap="round" fill="none"/>
<path d="M538.9 584.1h0M542.6 592.2h0M558.7 616.5h0M515.8 617.6h0M517.0 614.6h0M516.1 614.5h0M545.3 603.1h0M545.4 587.3h0" stroke="#8e80c7" stroke-width="2.5" stroke-linecap="round" fill="none"/>
<path d="M574.2 631.4h0M581.9 630.3h0M572.6 625.8h0M516.8 616.1h0M578.3 629.1h0M543.2 595.1h0M516.2 616.8h0" stroke="#7b6ebe" stroke-width="2.5" stroke-linecap="round" fill="none"/>
<path d="M541.0 587.8h0M543.5 604.2h0M547.9 582.2h0M545.3 599.9h0M515.1 616.9h0M545.7 605.1h0M545.8 601.5h0M540.9 596.0h0M541.5 585.3h0M542.8 596.6h0M542.6 591.7h0M546.4 584.2h0M543.2 594.1h0" stroke="#a59ad0" stroke-width="2.5" stroke-linecap="round" fill="none"/>
<path d="M542.9 601.1h0M544.6 585.1h0M545.4 586.5h0M547.6 583.0h0M547.1 583.4h0M549.5 581.2h0M545.3 584.6h0M542.9 587.5h0M545.5 595.8h0M545.5 600.9h0M544.5 584.2h0M548.4 585.7h0M543.5 601.9h0" stroke="#bdb5d8" stroke-width="2.5" stroke-linecap="round" fill="none"/>
<path d="M564.2 579.6h0M554.8 613.4h0M554.6 606.6h0M558.9 579.6h0M561.9 594.4h0M573.2 577.2h0M560.8 579.7h0M563.1 577.5h0M554.0 613.7h0M563.0 580.7h0M566.8 574.4h0M559.7 595.3h0M574.6 575.0h0" stroke="#3f55af" stroke-width="2.5" stroke-linecap="round" fill="none"/>
<path d="M556.8 601.1h0M563.5 578.3h0M562.7 582.3h0M566.4 574.3h0M569.5 574.1h0M557.8 604.9h0M569.0 583.8h0M567.1 576.8h0M567.6 623.9h0M567.7 622.9h0M570.1 625.9h0M569.1 578.4h0M572.4 573.5h0M564.3 619.4h0M564.2 578.5h0M560.9 620.2h0M565.9 577.6h0M574.0 583.6h0M574.2 632.3h0M567.1 576.7h0M571.8 575.2h0M560.4 596.9h0M569.2 623.9h0M564.4 574.0h0M572.4 580.0h0M568.3 571.4h0M580.6 631.6h0M572.2 573.4h0M566.4 577.0h0M567.8 582.5h0M567.5 622.9h0M555.7 614.0h0M569.8 581.0h0M568.1 581.1h0M560.0 597.4h0M562.6 582.2h0" stroke="#5a55b0" stroke-width="2.5" stroke-linecap="round" fill="none"/>
<path d="M554.3 606.8h0" stroke="#2a62b8" stroke-width="2.5" stroke-linecap="round" fill="none"/>
<path d="M545.7 604.2h0M543.9 588.1h0M547.1 581.0h0M538.8 587.4h0M540.5 596.4h0M546.1 581.9h0M539.0 590.5h0M545.5 583.5h0M542.2 590.7h0M541.1 582.5h0M545.4 602.2h0" stroke="#d6d5e2" stroke-width="2.5" stroke-linecap="round" fill="none"/>
<path d="M575.0 583.1h0M560.5 595.4h0M557.2 603.7h0M553.0 608.7h0M518.8 617.9h0M568.6 581.6h0M567.4 623.6h0M579.1 628.9h0M564.4 621.4h0M553.8 611.4h0M578.4 629.6h0M576.4 631.3h0M578.7 628.8h0M580.6 630.9h0M554.9 613.1h0M557.7 606.2h0M572.8 627.3h0M576.4 627.1h0M560.5 581.2h0M519.1 617.0h0M570.3 625.2h0M574.0 632.1h0M566.0 581.5h0M562.3 573.6h0M560.8 596.2h0M564.3 622.0h0" stroke="#6960b6" stroke-width="2.5" stroke-linecap="round" fill="none"/>
<path d="M555.2 613.8h0M579.7 626.8h0M539.4 591.7h0M537.5 612.9h0M558.7 616.4h0M542.5 594.8h0M576.5 628.7h0" stroke="#8e80c7" stroke-width="2.5" stroke-linecap="round" fill="none"/>
<path d="M546.7 599.8h0M539.0 588.9h0M545.1 583.0h0M541.3 595.8h0M543.0 586.2h0M543.3 603.9h0M545.1 604.8h0M543.5 595.5h0M543.3 602.3h0M541.0 590.2h0" stroke="#a59ad0" stroke-width="2.5" stroke-linecap="round" fill="none"/>
<path d="M558.3 617.3h0" stroke="#2a62b8" stroke-width="2.5" stroke-linecap="round" fill="none"/>
<path d="M566.1 579.8h0M555.0 605.3h0M572.7 585.4h0M552.0 604.7h0M568.2 577.1h0M575.9 581.8h0M552.7 604.3h0M553.0 606.7h0M554.1 611.3h0M568.7 580.5h0M568.4 577.1h0M568.4 581.5h0M562.8 581.5h0M566.2 572.1h0M570.1 580.6h0M569.2 577.4h0M563.9 581.0h0M557.9 615.3h0M562.5 581.7h0M570.5 576.8h0M565.6 581.3h0M565.0 621.7h0M566.5 574.3h0M564.6 589.7h0M563.1 579.2h0M555.8 603.0h0M569.9 586.3h0M572.0 626.4h0M564.8 580.3h0" stroke="#4d53ae" stroke-width="2.5" stroke-linecap="round" fill="none"/>
<path d="M561.6 581.7h0M559.2 595.5h0M566.2 583.3h0M560.6 618.1h0M558.5 604.9h0M567.7 570.8h0M558.7 580.6h0M563.9 580.9h0M555.0 605.5h0M565.2 588.1h0" stroke="#3f55af" stroke-width="2.5" stroke-linecap="round" fill="none"/>
<path d="M547.0 586.5h0M542.7 587.4h0M537.1 591.1h0M546.1 583.1h0M541.7 587.5h0M548.9 603.6h0M544.5 590.6h0M547.0 581.3h0M543.3 602.8h0M537.8 587.1h0M555.3 579.5h0" stroke="#bdb5d8" stroke-width="2.5" stroke-linecap="round" fill="none"/>
<path d="M541.2 587.8h0M538.0 598.5h0M541.0 581.5h0M548.3 585.2h0M539.8 592.7h0M541.2 586.3h0M542.0 596.9h0M546.8 586.9h0M549.5 583.0h0M543.3 602.0h0" stroke="#d6d5e2" stroke-width="2.5" stroke-linecap="round" fill="none"/>
<path d="M558.5 580.4h0M575.6 627.2h0M573.0 574.4h0M563.2 571.9h0M562.2 618.2h0M577.6 626.8h0M572.8 581.0h0M554.2 604.8h0M561.0 575.6h0M570.9 582.9h0M563.8 592.0h0M581.3 629.5h0M554.6 612.6h0M568.9 580.6h0M558.4 597.5h0M562.6 620.2h0M564.0 621.0h0M574.8 632.7h0M563.1 621.0h0M575.3 629.4h0M572.0 577.1h0M571.5 572.3h0M564.2 590.2h0M565.1 576.4h0M576.0 627.0h0M557.3 601.3h0M564.9 623.5h0M559.1 615.9h0M562.2 594.2h0M566.9 580.7h0M559.9 574.7h0M574.9 575.5h0M519.4 616.3h0M565.6 579.2h0M561.6 580.1h0M565.7 577.9h0M557.1 606.7h0M578.8 630.6h0M578.9 632.2h0M569.4 578.4h0" stroke="#5a55b0" stroke-width="2.5" stroke-linecap="round" fill="none"/>
<path d="M519.8 616.2h0M539.6 596.2h0M566.5 623.3h0M549.9 579.8h0M569.1 624.4h0M557.4 601.4h0M576.2 628.3h0M582.0 629.8h0M569.0 624.8h0M580.4 631.3h0M571.0 627.4h0M541.7 593.6h0" stroke="#7b6ebe" stroke-width="2.5" stroke-linecap="round" fill="none"/>
<path d="M564.6 622.0h0M576.4 628.2h0M553.5 611.6h0M566.2 623.1h0M571.1 625.4h0M570.4 579.6h0M580.9 627.9h0M579.4 627.3h0M551.7 605.4h0M542.6 592.2h0M576.0 627.4h0M571.1 625.8h0M566.2 622.4h0M576.3 631.5h0M579.8 627.3h0M572.7 581.5h0M568.7 624.0h0M575.2 632.6h0M580.3 627.7h0M558.8 616.8h0M558.7 599.1h0" stroke="#6960b6" stroke-width="2.5" stroke-linecap="round" fill="none"/>
<path d="M543.6 587.7h0M541.7 584.7h0M545.6 601.7h0M536.4 613.3h0M545.8 583.7h0M517.8 616.9h0M541.9 586.8h0M540.6 599.2h0M539.7 594.5h0M545.5 584.6h0M545.2 590.3h0" stroke="#a59ad0" stroke-width="2.5" stroke-linecap="round" fill="none"/>
<path d="M543.4 586.5h0M545.1 600.0h0M543.3 591.3h0M551.1 583.6h0M552.0 581.4h0M544.2 586.9h0M545.1 585.6h0M541.2 598.3h0M541.9 587.2h0M539.0 598.5h0M544.8 583.6h0M543.3 600.8h0M543.2 585.6h0" stroke="#d6d5e2" stroke-width="2.5" stroke-linecap="round" fill="none"/>
<path d="M555.2 579.7h0M543.8 601.0h0M515.5 615.1h0M518.6 613.0h0M548.6 584.9h0M543.1 601.9h0M538.1 612.5h0M543.3 581.6h0M543.5 587.8h0M543.0 597.0h0M542.9 589.3h0M554.0 612.4h0M550.0 587.8h0M540.2 589.3h0M554.6 579.0h0" stroke="#8e80c7" stroke-width="2.5" stroke-linecap="round" fill="none"/>
<path d="M571.1 580.7h0M563.2 582.6h0M561.0 594.4h0M566.7 581.6h0M565.5 577.1h0M580.6 628.1h0M567.1 586.8h0M553.1 606.2h0M553.8 602.4h0M560.5 578.4h0M575.5 582.2h0M569.4 585.6h0M518.0 613.0h0M572.0 577.5h0M554.7 605.9h0M566.0 576.2h0M566.8 588.5h0M567.6 574.3h0M559.6 617.8h0M565.6 585.4h0M559.0 579.9h0M561.6 594.2h0M565.3 579.7h0M558.7 618.4h0M566.3 581.9h0M555.0 601.9h0M559.4 596.4h0M573.6 579.0h0M565.9 576.6h0M573.1 585.4h0M565.4 621.6h0M565.8 574.7h0M570.9 625.5h0M566.0 580.6h0M516.6 618.3h0M567.1 582.6h0M571.3 573.1h0M564.8 573.8h0M581.2 627.9h0M554.3 603.1h0" stroke="#4d53ae" stroke-width="2.5" stroke-linecap="round" fill="none"/>
<path d="M577.4 632.8h0M571.9 627.2h0M563.1 620.2h0M565.8 622.0h0M562.1 618.6h0M565.5 622.5h0M543.1 595.4h0M557.0 616.6h0" stroke="#7b6ebe" stroke-width="2.5" stroke-linecap="round" fill="none"/>
<path d="M564.8 622.0h0M553.6 611.1h0M561.9 574.1h0M556.9 614.7h0M557.3 604.5h0M563.4 591.8h0M564.6 578.7h0M562.2 578.7h0M569.4 581.0h0M572.6 577.2h0M571.8 574.9h0M564.0 572.1h0M561.9 580.1h0" stroke="#3f55af" stroke-width="2.5" stroke-linecap="round" fill="none"/>
<path d="M548.7 584.0h0M545.6 600.0h0M543.3 584.4h0M547.7 583.2h0M536.9 590.3h0M540.4 586.2h0M545.5 586.5h0M538.1 588.7h0M542.2 588.5h0M541.7 590.6h0M544.9 603.2h0M541.2 587.5h0" stroke="#bdb5d8" stroke-width="2.5" stroke-linecap="round" fill="none"/>
<path d="M554.2 611.9h0M576.9 631.6h0M573.7 629.4h0M576.8 631.9h0M577.9 627.9h0M578.2 626.2h0M568.4 580.4h0M565.6 581.9h0M571.3 574.8h0M564.2 592.6h0M578.1 631.7h0M567.4 580.6h0M565.6 576.4h0M569.0 577.0h0M560.2 597.3h0M559.1 596.0h0M574.8 629.9h0M566.1 623.8h0M565.4 622.4h0M582.0 627.1h0M576.2 628.3h0M543.0 587.6h0M558.4 605.4h0M565.5 578.6h0M567.2 575.4h0M572.4 577.9h0M571.6 576.6h0M556.3 614.8h0M573.0 582.6h0M565.8 572.2h0M563.7 620.1h0M564.8 575.4h0M566.5 576.8h0M574.7 630.5h0M566.0 590.8h0M581.0 630.7h0" stroke="#5a55b0" stroke-width="2.5" stroke-linecap="round" fill="none"/>
<path d="M543.9 605.2h0M546.0 600.3h0M544.1 590.5h0M538.0 589.8h0M540.3 586.6h0M547.0 601.0h0M539.2 587.3h0M538.5 593.6h0M544.2 583.7h0M547.9 585.4h0M541.9 585.1h0M541.5 596.8h0M546.8 602.1h0M547.8 603.0h0M538.8 585.2h0M548.1 584.4h0" stroke="#bdb5d8" stroke-width="2.5" stroke-linecap="round" fill="none"/>
<path d="M540.9 591.3h0M541.9 586.6h0M543.0 594.5h0M541.9 592.5h0M546.2 600.4h0M548.0 601.0h0M542.7 587.6h0M543.9 597.1h0M539.2 590.5h0M539.1 598.0h0M549.9 583.4h0M537.9 595.9h0M547.4 587.3h0M554.4 579.4h0" stroke="#d6d5e2" stroke-width="2.5" stroke-linecap="round" fill="none"/>
<path d="M556.6 613.1h0M550.3 608.7h0M582.2 628.5h0M574.6 630.9h0M574.0 632.1h0M517.8 616.3h0M547.1 582.0h0M547.3 597.7h0M575.5 627.8h0M517.3 618.1h0" stroke="#7b6ebe" stroke-width="2.5" stroke-linecap="round" fill="none"/>
<path d="M567.4 584.4h0M579.9 632.3h0M570.6 625.1h0M563.6 584.4h0M558.1 618.0h0M517.6 613.6h0M574.5 577.3h0M517.2 612.9h0M566.1 583.7h0M556.7 615.9h0M569.1 579.8h0M569.8 585.8h0M557.5 617.2h0M565.3 620.5h0M567.6 585.1h0M555.2 612.3h0M562.4 620.5h0M578.4 627.7h0M564.9 575.6h0M563.7 620.7h0M580.1 626.2h0M567.4 577.4h0M577.1 631.8h0M518.1 617.1h0" stroke="#6960b6" stroke-width="2.5" stroke-linecap="round" fill="none"/>
<path d="M541.1 595.9h0M546.5 584.0h0M536.9 612.8h0M543.5 584.3h0M542.1 588.7h0M537.2 612.9h0M517.7 614.9h0" stroke="#8e80c7" stroke-width="2.5" stroke-linecap="round" fill="none"/>
<path d="M565.4 580.0h0" stroke="#2a62b8" stroke-width="2.5" stroke-linecap="round" fill="none"/>
<path d="M563.8 581.6h0M575.7 629.4h0M575.7 630.0h0M553.9 602.4h0M553.1 604.9h0M562.4 582.5h0M560.4 579.0h0M566.5 587.0h0M578.6 627.0h0M567.9 585.4h0M563.0 594.3h0M561.6 618.9h0M557.5 604.2h0M563.4 576.0h0M582.8 628.8h0M553.4 611.9h0M554.4 612.8h0M567.0 581.9h0M514.9 616.9h0M562.0 595.1h0M563.5 574.5h0M558.5 616.5h0M564.3 577.1h0M573.4 573.2h0M582.6 629.4h0M579.5 628.5h0M567.8 581.7h0M579.5 626.3h0M566.9 586.0h0M563.0 620.8h0M568.0 584.8h0M565.6 579.9h0M559.8 581.6h0M580.8 628.1h0M571.2 585.8h0M556.9 604.4h0M562.1 621.0h0M570.1 578.3h0M564.4 590.5h0M562.9 585.8h0M572.4 581.6h0M560.8 595.5h0" stroke="#5a55b0" stroke-width="2.5" stroke-linecap="round" fill="none"/>
<path d="M555.0 578.7h0M541.4 585.3h0M544.8 584.2h0M546.2 598.3h0M539.4 588.5h0M545.2 588.2h0M517.6 617.5h0" stroke="#a59ad0" stroke-width="2.5" stroke-linecap="round" fill="none"/>
<path d="M552.8 604.9h0M558.3 601.1h0M562.2 593.2h0M560.7 580.4h0M569.5 579.3h0M562.1 593.6h0M562.5 590.0h0M570.4 576.2h0M564.9 591.2h0M566.2 588.0h0M562.5 581.1h0M569.5 576.0h0M566.4 573.3h0M569.0 624.9h0" stroke="#3f55af" stroke-width="2.5" stroke-linecap="round" fill="none"/>
<path d="M580.6 628.5h0M570.0 577.7h0M570.4 578.0h0M554.4 603.9h0M566.6 571.6h0M562.9 584.7h0M581.6 630.6h0M560.9 595.1h0M564.3 591.0h0M565.9 622.7h0M581.9 630.6h0M580.0 631.7h0M558.6 601.0h0M557.6 614.5h0M580.9 630.2h0M568.7 575.3h0M562.5 594.9h0M567.3 576.5h0M573.0 584.5h0M553.4 604.3h0M568.8 580.5h0M572.0 576.3h0M561.4 584.7h0M565.1 577.8h0M557.7 603.8h0M562.0 620.9h0" stroke="#4d53ae" stroke-width="2.5" stroke-linecap="round" fill="none"/>
<line x1="509.40" y1="564.50" x2="509.40" y2="637.90" stroke="#000" stroke-width="1.3"/>
<line x1="508.80" y1="637.30" x2="591.40" y2="637.30" stroke="#000" stroke-width="1.3"/>
<text x="548.90" y="559.80" font-size="6.8" text-anchor="middle" fill="#1a1a1a">SCG2</text>
<text x="553.40" y="647.60" font-size="7.9" text-anchor="middle" fill="#1a1a1a">UMAP 1</text>
<path d="M633.6 587.8h0M657.8 631.4h0M645.2 581.7h0M626.5 587.5h0M657.6 632.1h0M663.1 628.5h0M638.0 603.9h0M630.4 586.9h0M662.5 632.2h0M626.9 602.3h0M626.9 602.8h0M652.3 580.5h0M646.9 621.0h0M654.5 582.9h0M647.4 592.0h0M643.8 597.3h0M642.9 578.2h0M623.2 596.2h0M646.5 585.8h0M647.4 581.6h0M625.1 585.3h0M649.1 578.6h0M621.7 588.7h0M642.3 617.1h0M645.5 594.4h0M649.2 581.3h0M623.3 594.5h0M625.3 593.6h0M602.2 613.2h0M628.1 584.2h0M646.7 589.6h0M642.7 596.0h0M641.4 604.9h0M652.7 624.4h0M652.0 577.1h0M636.7 606.2h0M629.4 583.7h0M654.8 585.8h0M624.7 595.9h0M653.7 625.9h0M656.7 585.4h0M649.8 583.3h0" stroke="#a59ad0" stroke-width="2.5" stroke-linecap="round" fill="none"/>
<path d="M638.2 579.0h0" stroke="#6960b6" stroke-width="2.5" stroke-linecap="round" fill="none"/>
<path d="M638.6 578.7h0" stroke="#4d53ae" stroke-width="2.5" stroke-linecap="round" fill="none"/>
<path d="M657.6 583.6h0M627.4 601.0h0M660.7 631.8h0M649.7 623.8h0M624.8 586.3h0M651.4 583.3h0M648.7 576.4h0" stroke="#8e80c7" stroke-width="2.5" stroke-linecap="round" fill="none"/>
<path d="M652.4 580.5h0M660.0 628.2h0M649.8 572.1h0M648.2 622.0h0M650.0 573.3h0M636.4 602.8h0M649.4 572.2h0M651.0 580.6h0M656.6 584.5h0M650.0 574.3h0M649.0 622.4h0M661.0 627.1h0M646.7 621.0h0M653.1 574.1h0M654.7 625.8h0M645.6 580.7h0M650.8 575.4h0M649.2 576.4h0M630.6 586.5h0M649.2 579.9h0M645.8 594.2h0M627.2 587.7h0M666.4 628.8h0M639.9 614.8h0M627.1 584.3h0M648.0 574.0h0M620.8 612.9h0M630.6 581.3h0M599.1 615.1h0M636.3 604.3h0M642.1 580.4h0M649.1 622.5h0M638.2 606.6h0M643.4 581.6h0M665.6 627.1h0M651.1 622.9h0M646.8 571.9h0M642.7 616.1h0M647.3 620.7h0M662.0 629.6h0M649.2 579.2h0M628.7 585.6h0M641.3 606.2h0M650.7 586.8h0M645.1 596.0h0M640.2 613.1h0M643.9 596.9h0M621.1 612.9h0M645.6 620.9h0M633.9 608.7h0M649.8 623.1h0M636.6 606.7h0M638.6 605.3h0M659.8 628.3h0M647.9 591.0h0M654.6 627.4h0M648.4 573.8h0M659.1 628.4h0M649.6 578.3h0M664.2 628.1h0M656.9 584.1h0M631.4 603.0h0M631.3 583.2h0M637.0 604.3h0M656.0 581.6h0M650.6 581.9h0M652.6 583.8h0M628.1 590.6h0M659.3 629.4h0M662.3 628.8h0M664.0 631.3h0M663.9 627.7h0M599.7 614.5h0M637.2 611.1h0M649.1 577.1h0M626.7 595.4h0M625.8 588.5h0M660.1 628.7h0" stroke="#bdb5d8" stroke-width="2.5" stroke-linecap="round" fill="none"/>
<path d="M661.9 629.1h0M621.6 598.5h0M620.7 591.1h0M649.9 581.9h0M655.5 627.2h0M648.4 622.0h0M657.8 632.3h0M650.7 582.6h0M628.4 583.6h0M631.7 584.4h0M646.8 582.6h0M626.9 602.0h0M631.6 601.0h0M650.3 581.6h0M641.3 603.8h0M624.5 596.0h0M626.2 591.7h0M656.2 625.8h0M653.1 579.3h0M648.5 623.5h0M635.6 604.7h0M629.1 595.8h0M648.2 577.8h0M644.1 595.4h0M641.1 617.2h0M643.0 596.4h0M627.8 583.7h0M655.6 576.3h0M628.7 604.8h0M622.6 598.5h0M620.5 590.3h0M630.4 602.1h0M649.2 585.4h0M631.5 585.4h0M640.5 604.4h0M664.2 628.5h0M655.8 573.4h0" stroke="#d6d5e2" stroke-width="2.5" stroke-linecap="round" fill="none"/>
<path d="M630.7 581.0h0" stroke="#7b6ebe" stroke-width="2.5" stroke-linecap="round" fill="none"/>
<path d="M638.8 579.7h0" stroke="#6960b6" stroke-width="2.5" stroke-linecap="round" fill="none"/>
<path d="M636.7 604.9h0M636.6 608.7h0M660.1 632.8h0M652.8 577.4h0M656.6 574.4h0M658.5 582.5h0M648.5 577.9h0M645.2 618.9h0M627.5 597.1h0M649.2 581.9h0M649.7 583.7h0M652.7 582.7h0M647.8 579.6h0M626.5 601.1h0M645.0 584.7h0M635.3 605.4h0M627.7 590.5h0M629.1 583.5h0M652.6 624.8h0M651.2 585.1h0M649.8 588.0h0M665.8 628.5h0M639.1 604.3h0M626.3 587.4h0M654.0 576.2h0M626.6 587.6h0M663.7 626.2h0M642.3 616.4h0M627.0 586.5h0M602.2 613.0h0M650.5 580.7h0M660.4 631.9h0M658.6 583.1h0M628.7 583.0h0M656.3 585.4h0M665.9 627.9h0M626.2 592.2h0M655.6 577.5h0M601.2 617.5h0M641.0 601.4h0M642.8 595.5h0" stroke="#a59ad0" stroke-width="2.5" stroke-linecap="round" fill="none"/>
<path d="M629.8 598.3h0M633.5 583.4h0M658.2 575.0h0M625.3 584.7h0M623.8 589.3h0M629.1 586.5h0M654.7 580.7h0M625.5 586.6h0M642.6 579.9h0M664.2 631.6h0M654.0 579.6h0M644.0 596.9h0M659.1 627.8h0M647.2 584.4h0M628.8 588.2h0M627.1 601.9h0M641.7 618.0h0M622.7 598.0h0M622.4 587.4h0M653.5 586.3h0M651.2 574.3h0M626.7 601.9h0M626.8 585.6h0M599.0 614.9h0M634.3 608.7h0M622.6 590.5h0M647.9 577.1h0M642.2 601.0h0M647.8 578.5h0M640.6 616.6h0M650.7 622.7h0M655.4 574.9h0M651.4 582.5h0" stroke="#d6d5e2" stroke-width="2.5" stroke-linecap="round" fill="none"/>
<path d="M662.0 627.7h0M637.9 606.8h0M601.4 616.3h0M661.0 632.8h0M648.0 621.4h0M650.0 577.0h0M647.9 619.4h0M647.9 622.0h0M656.0 573.5h0M652.9 579.4h0M662.2 627.0h0M637.0 611.9h0M628.8 590.3h0M638.2 612.6h0M629.6 600.3h0M644.4 595.5h0M601.2 613.6h0M644.5 620.2h0M645.9 573.6h0M660.7 627.3h0M660.0 631.3h0M624.8 587.8h0M656.8 577.2h0M664.5 630.2h0M637.1 611.6h0M648.0 590.5h0M622.4 585.2h0M627.5 588.1h0M625.3 590.6h0M656.0 577.9h0M624.7 582.5h0M652.7 578.4h0M628.9 584.6h0M637.7 611.3h0M600.2 618.3h0M645.5 574.1h0M649.6 590.8h0M643.3 595.3h0M647.3 583.5h0M637.5 602.4h0M638.5 613.1h0M648.8 588.1h0M640.9 601.3h0M657.6 632.1h0M656.4 581.0h0M620.0 613.3h0M649.7 585.0h0M644.1 578.4h0M661.5 627.9h0M647.5 581.0h0M644.6 594.4h0M650.5 586.3h0M651.7 581.1h0M655.2 576.6h0M626.6 594.5h0M654.0 578.0h0M626.6 597.0h0M653.0 581.0h0M631.0 587.3h0M598.5 616.9h0M648.9 579.7h0M661.2 626.8h0M652.3 624.0h0M646.6 620.8h0M653.4 585.8h0M647.5 580.9h0M601.4 616.9h0M663.4 627.3h0M645.8 618.2h0M653.6 577.7h0M625.6 596.9h0M599.4 617.6h0M624.2 599.2h0M647.8 592.6h0M661.8 626.2h0M639.4 603.0h0M656.4 627.3h0M644.3 580.4h0M637.8 604.8h0M652.5 580.6h0M647.0 576.0h0M648.6 579.3h0" stroke="#bdb5d8" stroke-width="2.5" stroke-linecap="round" fill="none"/>
<path d="M626.9 603.9h0M641.7 616.8h0M627.1 604.2h0M633.1 583.0h0M629.1 584.6h0M648.2 578.7h0M653.7 578.3h0M630.7 583.4h0M654.1 576.8h0" stroke="#8e80c7" stroke-width="2.5" stroke-linecap="round" fill="none"/>
<path d="M624.6 590.2h0" stroke="#7b6ebe" stroke-width="2.5" stroke-linecap="round" fill="none"/>
<path d="M632.2 584.9h0" stroke="#6960b6" stroke-width="2.5" stroke-linecap="round" fill="none"/>
<path d="M625.5 587.2h0M647.3 620.1h0M648.2 589.7h0M646.9 586.0h0M600.9 618.1h0M626.9 591.3h0M646.1 581.1h0M624.6 587.8h0M651.5 585.4h0M622.1 593.6h0M664.4 628.1h0M663.5 632.3h0M624.6 581.5h0M602.7 617.0h0M641.2 614.5h0M651.3 622.9h0M642.3 618.4h0M628.4 584.2h0M620.5 612.8h0M638.0 612.8h0M642.0 597.5h0M621.6 589.8h0M638.6 605.5h0M642.0 605.4h0M629.0 586.5h0M623.0 591.7h0M651.9 571.4h0M638.3 605.9h0M646.0 582.5h0M652.0 572.3h0M645.7 618.6h0M647.6 621.0h0M664.2 630.9h0M637.6 613.7h0M659.1 582.2h0M630.6 601.0h0M659.6 627.0h0M654.9 574.8h0M639.3 614.0h0M655.1 572.3h0M639.9 604.7h0M642.5 579.6h0M646.4 581.5h0M652.6 624.9h0M658.3 630.5h0M664.9 629.5h0M657.3 629.4h0M635.6 581.4h0M636.4 604.9h0M650.5 586.0h0M653.0 578.4h0M664.8 627.9h0M666.2 629.4h0M621.7 612.5h0M649.4 574.7h0M648.4 620.9h0M623.0 588.5h0M662.4 630.6h0M655.6 626.4h0M659.8 628.3h0M628.9 603.1h0M634.7 583.6h0M629.4 601.5h0M601.7 617.1h0M663.6 631.7h0" stroke="#bdb5d8" stroke-width="2.5" stroke-linecap="round" fill="none"/>
<path d="M644.1 581.2h0M657.2 579.0h0M625.1 596.8h0M652.4 579.9h0M647.9 582.3h0M632.5 603.6h0M649.6 580.6h0M626.1 594.8h0M622.8 587.3h0M625.0 585.3h0" stroke="#8e80c7" stroke-width="2.5" stroke-linecap="round" fill="none"/>
<path d="M623.4 592.7h0M626.6 586.2h0M649.9 575.6h0M663.3 626.8h0M643.2 617.8h0M652.6 577.0h0M637.9 603.1h0M626.2 592.2h0M659.3 630.0h0M641.0 599.8h0M658.8 632.6h0M626.8 595.1h0M630.3 599.8h0M659.5 581.8h0M650.1 587.0h0M629.8 600.4h0M642.4 616.8h0M648.9 620.5h0M637.8 611.9h0M644.0 579.0h0M641.9 601.1h0M642.3 616.5h0M622.8 590.5h0M629.3 605.1h0M663.1 626.3h0M656.2 577.2h0M659.9 631.5h0M651.0 623.6h0M633.1 581.2h0M629.2 601.7h0M645.6 595.1h0M662.9 628.3h0M631.9 585.2h0M652.0 580.4h0M654.4 576.0h0M650.9 576.5h0M654.2 625.1h0M628.7 600.0h0M638.6 601.9h0M656.8 579.6h0M647.1 578.3h0M645.8 593.2h0M601.3 614.9h0M665.2 630.6h0M629.0 602.2h0M603.0 616.3h0M641.5 615.3h0M641.9 617.3h0" stroke="#a59ad0" stroke-width="2.5" stroke-linecap="round" fill="none"/>
<path d="M631.2 583.0h0M640.4 601.1h0M664.5 627.9h0M649.5 576.6h0M650.7 576.8h0M645.7 593.6h0M658.4 632.7h0M649.5 577.6h0M645.0 595.3h0M630.0 584.2h0M649.0 621.6h0M654.7 625.4h0M648.5 575.6h0M632.0 585.7h0M648.6 621.7h0M624.1 596.4h0M626.9 581.6h0M644.4 596.2h0M644.4 579.7h0M626.4 596.6h0M627.1 587.8h0M624.0 586.2h0M653.9 625.2h0M630.7 582.0h0M651.3 570.8h0M657.0 573.2h0M625.5 592.5h0M648.5 591.2h0M652.2 581.6h0M656.0 580.0h0M644.2 597.7h0M642.1 616.5h0M622.5 584.1h0M645.2 594.2h0M651.2 623.9h0M622.6 588.9h0M645.8 578.7h0M626.9 584.4h0M653.1 576.0h0M644.5 595.1h0M651.4 581.7h0M631.5 582.2h0M659.2 627.2h0M626.3 587.6h0M646.6 594.3h0M647.8 590.2h0M648.7 577.8h0" stroke="#d6d5e2" stroke-width="2.5" stroke-linecap="round" fill="none"/>
<path d="M665.5 630.6h0M644.5 582.4h0M601.6 613.0h0M625.7 588.7h0M660.5 631.6h0M652.7 579.8h0M598.7 616.9h0M632.3 584.0h0M600.8 612.9h0M600.6 614.6h0M646.7 579.2h0M645.5 580.1h0M599.8 616.8h0M643.5 574.7h0M653.7 580.6h0M650.4 574.4h0M654.9 573.1h0M640.3 615.9h0M646.0 620.5h0M638.8 613.8h0M638.8 612.3h0M600.4 616.1h0M658.2 630.9h0M640.7 606.7h0M649.7 579.8h0M630.1 584.0h0M653.5 580.4h0M629.2 600.0h0M642.7 615.9h0M629.3 604.2h0M663.7 631.8h0M626.8 594.1h0M644.2 618.1h0M655.4 575.2h0M650.1 574.3h0M646.7 577.5h0" stroke="#a59ad0" stroke-width="2.5" stroke-linecap="round" fill="none"/>
<path d="M625.3 587.5h0" stroke="#7b6ebe" stroke-width="2.5" stroke-linecap="round" fill="none"/>
<path d="M626.5 589.3h0M628.9 599.9h0M624.9 595.8h0M627.8 586.9h0M656.3 581.5h0M652.8 623.9h0" stroke="#8e80c7" stroke-width="2.5" stroke-linecap="round" fill="none"/>
<path d="M652.0 581.5h0M637.4 602.4h0M649.8 622.4h0M629.7 583.1h0M653.4 581.0h0M651.0 577.4h0M656.7 573.7h0M633.5 579.8h0M640.5 614.7h0M625.8 590.7h0M642.1 604.9h0M625.5 585.1h0M621.4 587.1h0M645.2 580.1h0M647.3 583.5h0M650.1 576.8h0M650.4 588.5h0M654.5 625.5h0M658.5 575.5h0M626.9 600.8h0M651.8 577.1h0M652.8 577.7h0M658.9 629.4h0M660.8 630.0h0M628.5 603.2h0M646.5 584.7h0M662.7 628.9h0M648.4 580.3h0M650.7 576.7h0M660.0 627.1h0M637.6 612.4h0" stroke="#d6d5e2" stroke-width="2.5" stroke-linecap="round" fill="none"/>
<path d="M647.0 591.8h0M641.1 604.2h0M652.3 575.3h0M664.6 630.7h0M646.1 581.7h0M649.4 622.0h0M646.7 620.2h0M623.9 586.6h0M649.6 576.2h0M628.2 585.1h0M638.4 613.4h0M642.3 599.1h0M648.4 575.4h0M624.5 591.3h0M647.1 574.5h0M649.3 577.9h0M650.1 623.3h0M651.6 584.8h0M649.5 622.7h0M629.7 581.9h0M603.4 616.2h0M629.0 587.3h0M655.6 577.1h0M640.9 604.5h0M643.6 597.4h0M642.3 580.6h0M665.6 629.8h0M640.8 603.7h0M649.0 580.0h0M665.5 630.3h0M646.6 580.7h0M602.4 617.9h0M659.6 627.4h0M659.6 631.9h0M656.6 582.6h0M646.1 590.0h0M644.6 575.6h0M663.0 627.3h0M646.3 582.3h0M646.1 594.9h0M653.0 585.6h0M645.7 621.0h0M651.0 584.4h0M600.0 616.1h0M658.4 629.9h0M650.2 571.6h0M627.1 595.5h0M629.1 600.9h0M625.5 586.8h0M646.2 620.2h0M650.0 581.5h0M637.4 611.4h0M621.5 595.9h0M627.5 605.2h0M624.8 587.5h0M653.5 581.5h0M650.9 572.3h0M647.6 572.1h0M630.9 597.7h0M624.8 598.3h0M649.6 581.5h0M646.2 582.2h0M661.7 631.7h0M658.1 577.3h0" stroke="#bdb5d8" stroke-width="2.5" stroke-linecap="round" fill="none"/>
<path d="M638.0 579.4h0M638.9 579.5h0" stroke="#6960b6" stroke-width="2.5" stroke-linecap="round" fill="none"/>
<line x1="593.00" y1="564.50" x2="593.00" y2="637.90" stroke="#000" stroke-width="1.3"/>
<line x1="592.40" y1="637.30" x2="675.00" y2="637.30" stroke="#000" stroke-width="1.3"/>
<text x="632.50" y="559.80" font-size="6.8" text-anchor="middle" fill="#1a1a1a">CELA3B</text>
<text x="637.00" y="647.60" font-size="7.9" text-anchor="middle" fill="#1a1a1a">UMAP 1</text>
<text x="253.40" y="603.30" font-size="8.3" text-anchor="middle" fill="#1a1a1a" transform="rotate(-90 253.40 603.30)">UMAP 2</text>
<rect x="675.1" y="567.9" width="3.8" height="66.4" fill="url(#cb)"/>
<line x1="675.10" y1="577.30" x2="678.90" y2="577.30" stroke="#fff" stroke-width="0.4" stroke-opacity="0.7"/>
<text x="681.40" y="579.70" font-size="6.5" text-anchor="start" fill="#222">4</text>
<line x1="675.10" y1="592.60" x2="678.90" y2="592.60" stroke="#fff" stroke-width="0.4" stroke-opacity="0.7"/>
<text x="681.40" y="595.00" font-size="6.5" text-anchor="start" fill="#222">3</text>
<line x1="675.10" y1="609.80" x2="678.90" y2="609.80" stroke="#fff" stroke-width="0.4" stroke-opacity="0.7"/>
<text x="681.40" y="612.20" font-size="6.5" text-anchor="start" fill="#222">2</text>
<line x1="675.10" y1="625.50" x2="678.90" y2="625.50" stroke="#fff" stroke-width="0.4" stroke-opacity="0.7"/>
<text x="681.40" y="627.90" font-size="6.5" text-anchor="start" fill="#222">1</text>
<text x="248.50" y="677.50" font-size="12.5" text-anchor="start" fill="#1a1a1a">h</text>
<path d="M326.9 705.5h0M327.1 702.3h0M330.5 706.2h0" stroke="#6e67aa" stroke-width="1.9" stroke-linecap="round" fill="none"/>
<path d="M328.7 701.6h0" stroke="#beb8d3" stroke-width="1.9" stroke-linecap="round" fill="none"/>
<path d="M329.3 703.2h0" stroke="#5559a0" stroke-width="1.9" stroke-linecap="round" fill="none"/>
<path d="M265.2 721.9h0M267.1 721.6h0M331.3 755.5h0" stroke="#9186be" stroke-width="1.9" stroke-linecap="round" fill="none"/>
<path d="M329.6 701.6h0" stroke="#495aa0" stroke-width="1.9" stroke-linecap="round" fill="none"/>
<path d="M327.9 702.9h0M330.8 698.1h0M328.3 698.0h0M332.3 757.0h0" stroke="#7f75b3" stroke-width="1.9" stroke-linecap="round" fill="none"/>
<path d="M326.6 707.6h0M326.0 700.3h0M265.8 724.4h0M269.1 725.5h0M266.3 725.8h0M268.2 722.2h0M268.7 722.1h0M268.5 721.7h0M268.9 722.5h0M269.7 725.4h0M288.9 721.7h0M330.0 759.6h0M327.2 757.7h0M330.2 759.8h0" stroke="#a79fc9" stroke-width="1.9" stroke-linecap="round" fill="none"/>
<path d="M328.0 706.0h0M329.3 698.2h0M331.3 700.7h0" stroke="#605ca3" stroke-width="1.9" stroke-linecap="round" fill="none"/>
<path d="M331.7 700.2h0M331.9 757.9h0" stroke="#7f75b3" stroke-width="1.9" stroke-linecap="round" fill="none"/>
<path d="M324.0 702.9h0" stroke="#605ca3" stroke-width="1.9" stroke-linecap="round" fill="none"/>
<path d="M330.3 706.3h0M269.9 721.6h0M267.1 722.3h0M265.8 724.1h0M269.5 723.4h0M276.2 723.0h0M289.2 720.0h0M289.0 720.7h0M332.0 758.7h0M328.8 759.2h0M329.2 757.2h0M331.5 757.0h0" stroke="#9186be" stroke-width="1.9" stroke-linecap="round" fill="none"/>
<path d="M328.0 702.1h0M325.4 702.7h0M326.6 706.3h0" stroke="#6e67aa" stroke-width="1.9" stroke-linecap="round" fill="none"/>
<path d="M331.1 699.9h0M325.3 704.2h0M267.4 721.9h0M267.0 726.0h0M265.1 722.8h0M268.5 723.0h0M269.1 726.2h0M265.1 725.1h0M268.1 721.7h0M267.2 721.7h0M270.0 725.6h0" stroke="#a79fc9" stroke-width="1.9" stroke-linecap="round" fill="none"/>
<path d="M327.1 702.5h0M326.5 698.4h0M323.7 701.1h0" stroke="#beb8d3" stroke-width="1.9" stroke-linecap="round" fill="none"/>
<path d="M328.2 702.4h0M328.9 705.3h0M331.4 702.2h0" stroke="#605ca3" stroke-width="1.9" stroke-linecap="round" fill="none"/>
<path d="M329.8 706.6h0M330.2 705.6h0M328.2 704.9h0M327.7 702.0h0M328.6 701.9h0M328.5 703.6h0" stroke="#6e67aa" stroke-width="1.9" stroke-linecap="round" fill="none"/>
<path d="M332.0 703.1h0M326.5 703.1h0M266.4 722.6h0M270.5 727.4h0M287.9 720.6h0M328.5 758.2h0M329.8 758.7h0M328.0 759.3h0M327.8 757.8h0M328.2 756.2h0" stroke="#9186be" stroke-width="1.9" stroke-linecap="round" fill="none"/>
<path d="M327.9 706.3h0M329.6 701.3h0M329.1 705.4h0M330.0 700.7h0" stroke="#5559a0" stroke-width="1.9" stroke-linecap="round" fill="none"/>
<path d="M330.9 705.9h0M329.6 759.2h0" stroke="#7f75b3" stroke-width="1.9" stroke-linecap="round" fill="none"/>
<path d="M327.7 697.6h0M330.1 701.5h0M329.9 698.0h0M327.8 700.3h0M267.5 724.9h0M269.8 722.0h0M266.6 721.5h0M267.9 721.6h0M266.5 721.6h0M266.8 722.7h0M269.2 721.7h0M271.1 723.2h0M265.1 723.6h0M264.9 722.7h0M329.3 759.1h0M329.4 756.9h0M329.8 757.5h0M329.3 760.0h0" stroke="#a79fc9" stroke-width="1.9" stroke-linecap="round" fill="none"/>
<path d="M331.2 704.0h0M329.5 703.0h0M328.5 755.7h0M332.9 757.5h0" stroke="#7f75b3" stroke-width="1.9" stroke-linecap="round" fill="none"/>
<path d="M331.4 700.4h0M325.0 700.3h0M328.0 701.5h0M268.5 723.0h0M266.4 721.4h0M289.8 721.2h0M289.6 720.5h0M288.8 721.4h0M331.3 758.8h0M328.0 756.7h0M333.0 757.0h0M331.6 759.1h0M331.9 756.2h0M332.6 756.2h0M327.2 757.6h0M328.6 757.7h0M331.0 758.6h0" stroke="#9186be" stroke-width="1.9" stroke-linecap="round" fill="none"/>
<path d="M326.3 705.0h0" stroke="#d7d6e0" stroke-width="1.9" stroke-linecap="round" fill="none"/>
<path d="M328.6 697.7h0" stroke="#495aa0" stroke-width="1.9" stroke-linecap="round" fill="none"/>
<path d="M331.3 701.3h0M330.7 700.0h0" stroke="#6e67aa" stroke-width="1.9" stroke-linecap="round" fill="none"/>
<path d="M330.3 698.2h0M264.3 724.8h0M269.9 723.9h0M267.3 723.9h0M264.2 724.4h0M270.5 726.5h0M271.6 726.6h0M270.6 726.6h0M330.6 756.7h0M329.0 759.2h0M327.8 758.7h0" stroke="#a79fc9" stroke-width="1.9" stroke-linecap="round" fill="none"/>
<path d="M325.4 697.7h0M329.8 700.7h0M325.5 700.6h0M327.9 699.7h0" stroke="#5559a0" stroke-width="1.9" stroke-linecap="round" fill="none"/>
<path d="M327.1 703.8h0" stroke="#beb8d3" stroke-width="1.9" stroke-linecap="round" fill="none"/>
<line x1="257.50" y1="690.80" x2="257.50" y2="764.70" stroke="#000" stroke-width="1.3"/>
<line x1="256.90" y1="764.10" x2="339.70" y2="764.10" stroke="#000" stroke-width="1.3"/>
<text x="295.00" y="687.00" font-size="6.8" text-anchor="middle" fill="#1a1a1a">CRH</text>
<text x="301.10" y="774.20" font-size="7.9" text-anchor="middle" fill="#1a1a1a">UMAP 1</text>
<path d="M415.4 759.1h0M416.4 756.2h0M411.0 757.6h0M413.6 757.5h0" stroke="#5559a0" stroke-width="1.9" stroke-linecap="round" fill="none"/>
<path d="M413.0 757.2h0" stroke="#495aa0" stroke-width="1.9" stroke-linecap="round" fill="none"/>
<path d="M416.7 757.5h0M411.0 757.7h0" stroke="#605ca3" stroke-width="1.9" stroke-linecap="round" fill="none"/>
<path d="M415.1 701.3h0M415.2 702.2h0M371.7 720.6h0" stroke="#beb8d3" stroke-width="1.9" stroke-linecap="round" fill="none"/>
<path d="M414.1 706.3h0M407.8 702.9h0M415.5 700.2h0M413.3 703.0h0M351.0 721.7h0M360.0 723.0h0M373.0 720.0h0" stroke="#9186be" stroke-width="1.9" stroke-linecap="round" fill="none"/>
<path d="M416.1 757.0h0M413.1 760.0h0" stroke="#6e67aa" stroke-width="1.9" stroke-linecap="round" fill="none"/>
<path d="M414.9 699.9h0M413.4 701.3h0M410.9 703.8h0M412.7 705.3h0M353.7 721.6h0M352.9 725.5h0M352.3 723.0h0M353.8 725.6h0M354.3 727.4h0" stroke="#a79fc9" stroke-width="1.9" stroke-linecap="round" fill="none"/>
<path d="M416.8 757.0h0M415.3 757.0h0" stroke="#3964a7" stroke-width="1.9" stroke-linecap="round" fill="none"/>
<path d="M415.7 757.9h0M413.1 759.1h0" stroke="#605ca3" stroke-width="1.9" stroke-linecap="round" fill="none"/>
<path d="M408.8 700.3h0M414.0 705.6h0M415.0 704.0h0M414.5 700.0h0M412.4 697.7h0M348.1 724.8h0M353.7 723.9h0M351.1 723.9h0M372.7 721.7h0M372.6 721.4h0" stroke="#9186be" stroke-width="1.9" stroke-linecap="round" fill="none"/>
<path d="M412.3 758.2h0M414.0 759.8h0M412.0 756.2h0" stroke="#5559a0" stroke-width="1.9" stroke-linecap="round" fill="none"/>
<path d="M412.3 755.7h0" stroke="#495aa0" stroke-width="1.9" stroke-linecap="round" fill="none"/>
<path d="M415.8 703.1h0M412.0 702.4h0M351.9 721.7h0" stroke="#beb8d3" stroke-width="1.9" stroke-linecap="round" fill="none"/>
<path d="M413.6 700.7h0M411.8 702.1h0M410.3 698.4h0M410.4 707.6h0M409.8 700.3h0M409.3 700.6h0M411.7 699.7h0M410.1 705.0h0M410.4 706.3h0M409.1 704.2h0M410.9 702.3h0M352.0 722.2h0M351.7 721.6h0M350.9 722.3h0M349.6 724.1h0M350.3 721.6h0M350.6 722.7h0M350.2 721.4h0M354.9 723.2h0M348.9 723.6h0M352.9 726.2h0M348.7 722.7h0M353.5 725.4h0M354.4 726.6h0" stroke="#a79fc9" stroke-width="1.9" stroke-linecap="round" fill="none"/>
<path d="M412.8 759.2h0M412.6 759.2h0M411.8 759.3h0M413.8 759.6h0" stroke="#605ca3" stroke-width="1.9" stroke-linecap="round" fill="none"/>
<path d="M413.2 756.9h0M415.1 755.5h0" stroke="#5559a0" stroke-width="1.9" stroke-linecap="round" fill="none"/>
<path d="M415.2 700.4h0M410.9 702.5h0M411.7 702.9h0M412.0 704.9h0M413.9 701.5h0M413.7 698.0h0M411.8 701.5h0M413.4 701.6h0M413.8 700.7h0M412.3 703.6h0M411.8 706.0h0M350.1 725.8h0M351.3 724.9h0M353.6 722.0h0M350.4 721.5h0M348.9 722.8h0M352.3 721.7h0M353.0 721.7h0M354.3 726.5h0" stroke="#a79fc9" stroke-width="1.9" stroke-linecap="round" fill="none"/>
<path d="M414.1 698.2h0M407.5 701.1h0M413.1 698.2h0M414.3 706.2h0M415.1 700.7h0M353.3 723.4h0M350.9 721.6h0M373.6 721.2h0" stroke="#9186be" stroke-width="1.9" stroke-linecap="round" fill="none"/>
<path d="M414.7 705.9h0" stroke="#7f75b3" stroke-width="1.9" stroke-linecap="round" fill="none"/>
<path d="M415.7 756.2h0" stroke="#495aa0" stroke-width="1.9" stroke-linecap="round" fill="none"/>
<path d="M411.5 697.6h0" stroke="#beb8d3" stroke-width="1.9" stroke-linecap="round" fill="none"/>
<path d="M409.2 697.7h0M414.6 698.1h0M411.6 700.3h0M412.4 701.9h0M349.6 724.4h0M350.8 726.0h0M348.9 725.1h0M373.4 720.5h0M372.8 720.7h0" stroke="#9186be" stroke-width="1.9" stroke-linecap="round" fill="none"/>
<path d="M413.6 706.6h0M412.9 705.4h0M410.7 705.5h0M412.5 701.6h0" stroke="#beb8d3" stroke-width="1.9" stroke-linecap="round" fill="none"/>
<path d="M414.4 756.7h0M411.6 758.7h0M412.4 757.7h0" stroke="#605ca3" stroke-width="1.9" stroke-linecap="round" fill="none"/>
<path d="M411.8 756.7h0" stroke="#6e67aa" stroke-width="1.9" stroke-linecap="round" fill="none"/>
<path d="M415.8 758.7h0M413.6 758.7h0M413.4 759.2h0M414.8 758.6h0M411.6 757.8h0" stroke="#5559a0" stroke-width="1.9" stroke-linecap="round" fill="none"/>
<path d="M415.1 758.8h0" stroke="#495aa0" stroke-width="1.9" stroke-linecap="round" fill="none"/>
<path d="M411.7 706.3h0M413.1 703.2h0M411.5 702.0h0M409.2 702.7h0M412.1 698.0h0M410.3 703.1h0M352.3 723.0h0M351.2 721.9h0M349.0 721.9h0M352.5 722.1h0M350.2 722.6h0M352.7 722.5h0M348.0 724.4h0M355.4 726.6h0" stroke="#a79fc9" stroke-width="1.9" stroke-linecap="round" fill="none"/>
<line x1="341.30" y1="690.80" x2="341.30" y2="764.70" stroke="#000" stroke-width="1.3"/>
<line x1="340.70" y1="764.10" x2="423.50" y2="764.10" stroke="#000" stroke-width="1.3"/>
<text x="378.80" y="687.00" font-size="6.8" text-anchor="middle" fill="#1a1a1a">ENTPD3</text>
<text x="384.90" y="774.20" font-size="7.9" text-anchor="middle" fill="#1a1a1a">UMAP 1</text>
<path d="M437.4 722.0h0M435.8 722.2h0M436.8 721.7h0M431.8 724.4h0M456.5 721.7h0" stroke="#495aa0" stroke-width="1.9" stroke-linecap="round" fill="none"/>
<path d="M493.9 705.0h0" stroke="#7f75b3" stroke-width="1.9" stroke-linecap="round" fill="none"/>
<path d="M435.5 721.6h0M434.0 722.6h0M436.5 722.5h0" stroke="#605ca3" stroke-width="1.9" stroke-linecap="round" fill="none"/>
<path d="M493.0 697.7h0M495.8 704.9h0M494.1 698.4h0M496.7 705.4h0M496.5 705.3h0M496.3 701.6h0M499.6 758.7h0M496.6 759.2h0M499.9 757.0h0M494.8 757.7h0" stroke="#a79fc9" stroke-width="1.9" stroke-linecap="round" fill="none"/>
<path d="M499.0 700.4h0M492.6 700.3h0M497.9 706.3h0M498.9 701.3h0M494.2 707.6h0M493.6 700.3h0M493.0 702.7h0M497.9 698.2h0M497.1 703.0h0M496.4 759.2h0M495.8 756.2h0" stroke="#9186be" stroke-width="1.9" stroke-linecap="round" fill="none"/>
<path d="M434.1 721.6h0M436.7 726.2h0M457.4 721.2h0" stroke="#5559a0" stroke-width="1.9" stroke-linecap="round" fill="none"/>
<path d="M437.5 723.9h0" stroke="#3964a7" stroke-width="1.9" stroke-linecap="round" fill="none"/>
<path d="M497.2 701.3h0M495.6 701.5h0M495.8 702.4h0M496.2 701.9h0M495.6 706.0h0" stroke="#beb8d3" stroke-width="1.9" stroke-linecap="round" fill="none"/>
<path d="M495.5 702.9h0M497.4 706.6h0M497.7 701.5h0M497.2 701.6h0M494.7 703.8h0M497.6 700.7h0M497.0 756.9h0M495.4 757.8h0" stroke="#9186be" stroke-width="1.9" stroke-linecap="round" fill="none"/>
<path d="M437.5 721.6h0M433.9 725.8h0M434.9 723.9h0M457.2 720.5h0M455.5 720.6h0" stroke="#5559a0" stroke-width="1.9" stroke-linecap="round" fill="none"/>
<path d="M498.6 758.6h0" stroke="#beb8d3" stroke-width="1.9" stroke-linecap="round" fill="none"/>
<path d="M499.6 703.1h0M498.9 700.7h0M439.2 726.6h0M495.6 759.3h0M497.6 759.6h0M497.4 757.5h0" stroke="#7f75b3" stroke-width="1.9" stroke-linecap="round" fill="none"/>
<path d="M434.4 722.7h0M432.7 725.1h0M438.1 727.4h0" stroke="#495aa0" stroke-width="1.9" stroke-linecap="round" fill="none"/>
<path d="M498.7 699.9h0M494.7 702.5h0M498.4 698.1h0M497.5 698.0h0M499.3 700.2h0M495.9 698.0h0M491.3 701.1h0M494.7 702.3h0M500.5 757.5h0M499.2 759.1h0M497.4 758.7h0M498.9 755.5h0" stroke="#a79fc9" stroke-width="1.9" stroke-linecap="round" fill="none"/>
<path d="M432.8 721.9h0M434.2 721.5h0M434.0 721.4h0M436.1 723.0h0M456.4 721.4h0" stroke="#495aa0" stroke-width="1.9" stroke-linecap="round" fill="none"/>
<path d="M436.3 722.1h0" stroke="#3964a7" stroke-width="1.9" stroke-linecap="round" fill="none"/>
<path d="M438.1 726.5h0M443.8 723.0h0" stroke="#605ca3" stroke-width="1.9" stroke-linecap="round" fill="none"/>
<path d="M498.5 705.9h0M497.4 700.7h0M494.2 706.3h0M499.5 757.9h0M496.1 755.7h0M495.6 756.7h0M499.5 756.2h0M496.1 758.2h0M500.2 756.2h0M496.2 757.7h0" stroke="#a79fc9" stroke-width="1.9" stroke-linecap="round" fill="none"/>
<path d="M435.0 721.9h0M434.7 722.3h0M438.7 723.2h0M432.7 723.6h0M434.7 721.6h0M434.8 721.7h0M437.3 725.4h0M437.6 725.6h0M438.2 726.6h0" stroke="#5559a0" stroke-width="1.9" stroke-linecap="round" fill="none"/>
<path d="M496.1 703.6h0" stroke="#beb8d3" stroke-width="1.9" stroke-linecap="round" fill="none"/>
<path d="M495.3 702.0h0M491.6 702.9h0M498.8 704.0h0M498.1 706.2h0M496.2 697.7h0M494.1 703.1h0M494.8 757.6h0M496.9 759.1h0M497.2 759.2h0M499.1 757.0h0M496.9 760.0h0" stroke="#9186be" stroke-width="1.9" stroke-linecap="round" fill="none"/>
<path d="M496.9 698.2h0" stroke="#7f75b3" stroke-width="1.9" stroke-linecap="round" fill="none"/>
<path d="M492.9 704.2h0" stroke="#7f75b3" stroke-width="1.9" stroke-linecap="round" fill="none"/>
<path d="M436.1 723.0h0M433.4 724.4h0M431.9 724.8h0M434.6 726.0h0M437.1 723.4h0M432.5 722.7h0M435.7 721.7h0M456.6 720.7h0" stroke="#5559a0" stroke-width="1.9" stroke-linecap="round" fill="none"/>
<path d="M436.7 725.5h0M435.1 724.9h0M433.4 724.1h0" stroke="#605ca3" stroke-width="1.9" stroke-linecap="round" fill="none"/>
<path d="M495.3 697.6h0M497.8 705.6h0M495.4 700.3h0M498.3 700.0h0M499.0 702.2h0M498.9 758.8h0M500.6 757.0h0M496.8 757.2h0M497.8 759.8h0" stroke="#a79fc9" stroke-width="1.9" stroke-linecap="round" fill="none"/>
<path d="M436.1 721.7h0" stroke="#3964a7" stroke-width="1.9" stroke-linecap="round" fill="none"/>
<path d="M496.9 703.2h0M495.5 699.7h0" stroke="#beb8d3" stroke-width="1.9" stroke-linecap="round" fill="none"/>
<path d="M432.7 722.8h0M456.8 720.0h0" stroke="#495aa0" stroke-width="1.9" stroke-linecap="round" fill="none"/>
<path d="M495.5 706.3h0M495.6 702.1h0M494.5 705.5h0M493.1 700.6h0M498.2 756.7h0M495.4 758.7h0" stroke="#9186be" stroke-width="1.9" stroke-linecap="round" fill="none"/>
<line x1="425.10" y1="690.80" x2="425.10" y2="764.70" stroke="#000" stroke-width="1.3"/>
<line x1="424.50" y1="764.10" x2="507.30" y2="764.10" stroke="#000" stroke-width="1.3"/>
<text x="462.60" y="687.00" font-size="6.8" text-anchor="middle" fill="#1a1a1a">DUOXA2</text>
<text x="468.70" y="774.20" font-size="7.9" text-anchor="middle" fill="#1a1a1a">UMAP 1</text>
<path d="M539.3 720.6h0" stroke="#495aa0" stroke-width="1.9" stroke-linecap="round" fill="none"/>
<path d="M541.0 720.5h0" stroke="#5559a0" stroke-width="1.9" stroke-linecap="round" fill="none"/>
<path d="M582.5 699.9h0M581.0 701.3h0M575.4 702.9h0M578.0 706.3h0M584.0 756.2h0" stroke="#beb8d3" stroke-width="1.9" stroke-linecap="round" fill="none"/>
<path d="M518.9 724.9h0M518.2 722.7h0M519.9 721.7h0M582.4 758.6h0" stroke="#7f75b3" stroke-width="1.9" stroke-linecap="round" fill="none"/>
<path d="M579.1 697.6h0M581.5 701.5h0M579.1 702.0h0M576.8 702.7h0M579.2 700.3h0M580.3 705.3h0M578.5 702.3h0M577.9 703.1h0M520.5 725.5h0M583.7 757.0h0M579.2 758.7h0M581.2 758.7h0M581.0 759.2h0M579.6 756.2h0" stroke="#9186be" stroke-width="1.9" stroke-linecap="round" fill="none"/>
<path d="M579.3 702.9h0M581.2 700.7h0M582.6 704.0h0M583.1 700.2h0M577.7 705.0h0M579.7 698.0h0M582.0 756.7h0M580.0 757.7h0" stroke="#a79fc9" stroke-width="1.9" stroke-linecap="round" fill="none"/>
<path d="M581.2 706.6h0M578.3 705.5h0M578.5 703.8h0M582.8 702.2h0M518.8 721.9h0M521.3 723.9h0M516.5 722.8h0M522.0 726.6h0M583.3 757.9h0M580.4 759.2h0M579.4 759.3h0M580.7 759.1h0M580.8 756.9h0" stroke="#9186be" stroke-width="1.9" stroke-linecap="round" fill="none"/>
<path d="M578.0 707.6h0" stroke="#7f75b3" stroke-width="1.9" stroke-linecap="round" fill="none"/>
<path d="M579.3 706.3h0M582.2 698.1h0M582.7 701.3h0M581.0 701.6h0M579.3 699.7h0M580.0 701.9h0M582.1 700.0h0M581.4 700.7h0M517.7 725.8h0M520.1 722.1h0M517.8 721.4h0M516.3 722.7h0M523.0 726.6h0M578.6 757.7h0M582.9 757.0h0" stroke="#a79fc9" stroke-width="1.9" stroke-linecap="round" fill="none"/>
<path d="M540.4 720.7h0" stroke="#5559a0" stroke-width="1.9" stroke-linecap="round" fill="none"/>
<path d="M581.6 705.6h0M579.6 704.9h0M580.5 705.4h0M580.7 703.2h0M581.3 698.0h0M579.4 701.5h0M576.9 700.6h0M579.6 702.4h0M575.1 701.1h0M579.4 706.0h0M521.3 721.6h0M582.7 758.8h0M584.4 757.0h0M580.6 757.2h0M583.3 756.2h0M581.2 757.5h0M579.2 757.8h0" stroke="#a79fc9" stroke-width="1.9" stroke-linecap="round" fill="none"/>
<path d="M577.9 698.4h0M580.0 697.7h0" stroke="#beb8d3" stroke-width="1.9" stroke-linecap="round" fill="none"/>
<path d="M582.8 700.4h0M576.8 697.7h0M582.3 705.9h0M579.4 702.1h0M579.9 703.6h0M517.2 724.4h0M516.6 721.9h0M520.6 721.7h0M516.5 723.6h0M518.5 721.6h0M521.9 726.5h0M521.1 725.4h0M521.9 727.4h0M579.9 758.2h0M581.4 759.6h0" stroke="#9186be" stroke-width="1.9" stroke-linecap="round" fill="none"/>
<path d="M540.6 720.0h0" stroke="#5559a0" stroke-width="1.9" stroke-linecap="round" fill="none"/>
<path d="M541.2 721.2h0M540.2 721.4h0" stroke="#495aa0" stroke-width="1.9" stroke-linecap="round" fill="none"/>
<path d="M581.7 706.3h0M517.9 721.6h0M520.9 723.4h0M520.5 726.2h0M580.7 760.0h0" stroke="#7f75b3" stroke-width="1.9" stroke-linecap="round" fill="none"/>
<path d="M583.4 758.7h0M580.2 759.2h0" stroke="#beb8d3" stroke-width="1.9" stroke-linecap="round" fill="none"/>
<path d="M578.5 702.5h0M577.4 700.3h0M581.7 698.2h0M580.9 703.0h0M576.7 704.2h0M580.1 701.6h0M581.9 706.2h0M518.7 723.9h0M519.9 723.0h0M579.4 756.7h0" stroke="#a79fc9" stroke-width="1.9" stroke-linecap="round" fill="none"/>
<path d="M576.4 700.3h0M583.4 703.1h0M580.7 698.2h0M582.7 700.7h0M519.9 723.0h0M515.7 724.8h0M518.4 726.0h0M521.2 722.0h0M519.6 722.2h0M519.3 721.6h0M518.5 722.3h0M517.2 724.1h0M517.8 722.6h0M520.3 722.5h0M515.6 724.4h0M516.5 725.1h0M519.5 721.7h0M518.6 721.7h0M521.4 725.6h0M579.9 755.7h0M584.3 757.5h0M583.0 759.1h0M578.6 757.6h0M582.7 755.5h0M581.6 759.8h0" stroke="#9186be" stroke-width="1.9" stroke-linecap="round" fill="none"/>
<path d="M540.3 721.7h0" stroke="#5559a0" stroke-width="1.9" stroke-linecap="round" fill="none"/>
<path d="M527.6 723.0h0" stroke="#3964a7" stroke-width="1.9" stroke-linecap="round" fill="none"/>
<path d="M518.0 721.5h0M522.5 723.2h0" stroke="#7f75b3" stroke-width="1.9" stroke-linecap="round" fill="none"/>
<line x1="508.90" y1="690.80" x2="508.90" y2="764.70" stroke="#000" stroke-width="1.3"/>
<line x1="508.30" y1="764.10" x2="591.10" y2="764.10" stroke="#000" stroke-width="1.3"/>
<text x="546.40" y="687.00" font-size="6.8" text-anchor="middle" fill="#1a1a1a">NID1</text>
<text x="552.50" y="774.20" font-size="7.9" text-anchor="middle" fill="#1a1a1a">UMAP 1</text>
<path d="M624.4 720.0h0M624.2 720.7h0" stroke="#6e67aa" stroke-width="1.9" stroke-linecap="round" fill="none"/>
<path d="M664.3 705.4h0M667.2 703.1h0M666.5 755.5h0" stroke="#beb8d3" stroke-width="1.9" stroke-linecap="round" fill="none"/>
<path d="M665.5 706.3h0M665.3 701.5h0M660.6 702.7h0M663.2 701.5h0M660.7 700.6h0M663.1 699.7h0M665.2 700.7h0M604.3 725.5h0M600.4 721.9h0M603.1 721.6h0M667.2 758.7h0" stroke="#9186be" stroke-width="1.9" stroke-linecap="round" fill="none"/>
<path d="M666.3 699.9h0M660.2 700.3h0M662.9 702.0h0M662.1 705.5h0M663.5 698.0h0M665.9 700.0h0M658.9 701.1h0M663.9 701.6h0M602.3 722.3h0M606.8 726.6h0M665.8 756.7h0M664.5 759.1h0M664.5 760.0h0M663.4 756.2h0" stroke="#a79fc9" stroke-width="1.9" stroke-linecap="round" fill="none"/>
<path d="M664.8 701.6h0M663.0 700.3h0M665.7 706.2h0M603.4 722.2h0M603.7 723.0h0M602.4 721.7h0M664.6 756.9h0" stroke="#7f75b3" stroke-width="1.9" stroke-linecap="round" fill="none"/>
<path d="M661.7 698.4h0M666.9 700.2h0M665.5 698.2h0M663.8 701.9h0M663.2 706.0h0M666.5 700.7h0M599.5 724.8h0M604.7 723.4h0M605.7 726.5h0M664.2 759.2h0M663.0 758.7h0M668.1 757.5h0M663.8 757.7h0M664.8 759.2h0" stroke="#a79fc9" stroke-width="1.9" stroke-linecap="round" fill="none"/>
<path d="M664.5 698.2h0M601.7 721.6h0M601.6 722.6h0M600.1 722.7h0" stroke="#7f75b3" stroke-width="1.9" stroke-linecap="round" fill="none"/>
<path d="M623.1 720.6h0" stroke="#605ca3" stroke-width="1.9" stroke-linecap="round" fill="none"/>
<path d="M660.5 704.2h0M662.4 757.6h0" stroke="#beb8d3" stroke-width="1.9" stroke-linecap="round" fill="none"/>
<path d="M663.1 706.3h0M666.0 698.1h0M664.8 701.3h0M663.4 702.4h0M666.6 702.2h0M664.7 703.0h0M663.8 697.7h0M605.1 723.9h0M601.0 724.1h0M600.3 722.8h0M602.5 723.9h0M606.3 723.2h0M603.3 721.7h0M604.9 725.4h0M611.4 723.0h0M668.2 757.0h0M666.7 757.0h0" stroke="#9186be" stroke-width="1.9" stroke-linecap="round" fill="none"/>
<path d="M624.0 721.4h0" stroke="#605ca3" stroke-width="1.9" stroke-linecap="round" fill="none"/>
<path d="M666.1 705.9h0M661.8 707.6h0M665.1 698.0h0M662.3 703.8h0M664.1 705.3h0M661.7 703.1h0M603.7 723.0h0M605.1 721.6h0M602.0 722.7h0M603.9 722.1h0M603.7 721.7h0M604.4 721.7h0M604.1 722.5h0M601.6 721.4h0M602.3 721.6h0M604.3 726.2h0M605.2 725.6h0M625.0 721.2h0M667.5 757.0h0M663.7 755.7h0M663.2 756.7h0M662.4 757.7h0M665.4 759.8h0M663.0 757.8h0" stroke="#9186be" stroke-width="1.9" stroke-linecap="round" fill="none"/>
<path d="M662.3 702.5h0M601.5 725.8h0M664.0 759.2h0M664.4 757.2h0M663.7 758.2h0M665.0 758.7h0M667.8 756.2h0M665.2 759.6h0" stroke="#a79fc9" stroke-width="1.9" stroke-linecap="round" fill="none"/>
<path d="M663.4 704.9h0M664.5 703.2h0M599.4 724.4h0M600.3 725.1h0M624.8 720.5h0M624.1 721.7h0" stroke="#7f75b3" stroke-width="1.9" stroke-linecap="round" fill="none"/>
<path d="M666.6 700.4h0M663.1 702.9h0M666.4 704.0h0M667.1 756.2h0" stroke="#beb8d3" stroke-width="1.9" stroke-linecap="round" fill="none"/>
<path d="M663.7 703.6h0M605.8 726.6h0" stroke="#beb8d3" stroke-width="1.9" stroke-linecap="round" fill="none"/>
<path d="M663.2 702.1h0M659.2 702.9h0M602.2 726.0h0M605.0 722.0h0" stroke="#7f75b3" stroke-width="1.9" stroke-linecap="round" fill="none"/>
<path d="M662.9 697.6h0M665.0 700.7h0M665.0 706.6h0M666.5 701.3h0M661.2 700.3h0M661.8 706.3h0M601.0 724.4h0M667.1 757.9h0M666.5 758.8h0M666.8 759.1h0M663.2 759.3h0M666.2 758.6h0" stroke="#a79fc9" stroke-width="1.9" stroke-linecap="round" fill="none"/>
<path d="M660.6 697.7h0M665.4 705.6h0M661.5 705.0h0M662.3 702.3h0M602.6 721.9h0M602.7 724.9h0M601.8 721.5h0M600.3 723.6h0M605.7 727.4h0M665.0 757.5h0" stroke="#9186be" stroke-width="1.9" stroke-linecap="round" fill="none"/>
<line x1="592.70" y1="690.80" x2="592.70" y2="764.70" stroke="#000" stroke-width="1.3"/>
<line x1="592.10" y1="764.10" x2="674.90" y2="764.10" stroke="#000" stroke-width="1.3"/>
<text x="630.20" y="687.00" font-size="6.8" text-anchor="middle" fill="#1a1a1a">TMEM47</text>
<text x="636.30" y="774.20" font-size="7.9" text-anchor="middle" fill="#1a1a1a">UMAP 1</text>
<path d="M659.5 704.3h0M660.4 705.5h0M661.3 704.3h0M662.2 705.5h0" stroke="#2e5cb4" stroke-width="1.9" stroke-linecap="round" fill="none"/>
<text x="253.40" y="728.50" font-size="8.3" text-anchor="middle" fill="#1a1a1a" transform="rotate(-90 253.40 728.50)">UMAP 2</text>
<rect x="675.4" y="695.1" width="3.8" height="66.0" fill="url(#cb)"/>
<line x1="675.40" y1="704.30" x2="679.20" y2="704.30" stroke="#fff" stroke-width="0.4" stroke-opacity="0.7"/>
<text x="681.70" y="706.70" font-size="6.5" text-anchor="start" fill="#222">4</text>
<line x1="675.40" y1="720.00" x2="679.20" y2="720.00" stroke="#fff" stroke-width="0.4" stroke-opacity="0.7"/>
<text x="681.70" y="722.40" font-size="6.5" text-anchor="start" fill="#222">3</text>
<line x1="675.40" y1="735.50" x2="679.20" y2="735.50" stroke="#fff" stroke-width="0.4" stroke-opacity="0.7"/>
<text x="681.70" y="737.90" font-size="6.5" text-anchor="start" fill="#222">2</text>
<line x1="675.40" y1="751.00" x2="679.20" y2="751.00" stroke="#fff" stroke-width="0.4" stroke-opacity="0.7"/>
<text x="681.70" y="753.40" font-size="6.5" text-anchor="start" fill="#222">1</text>
</svg>
</body></html>
